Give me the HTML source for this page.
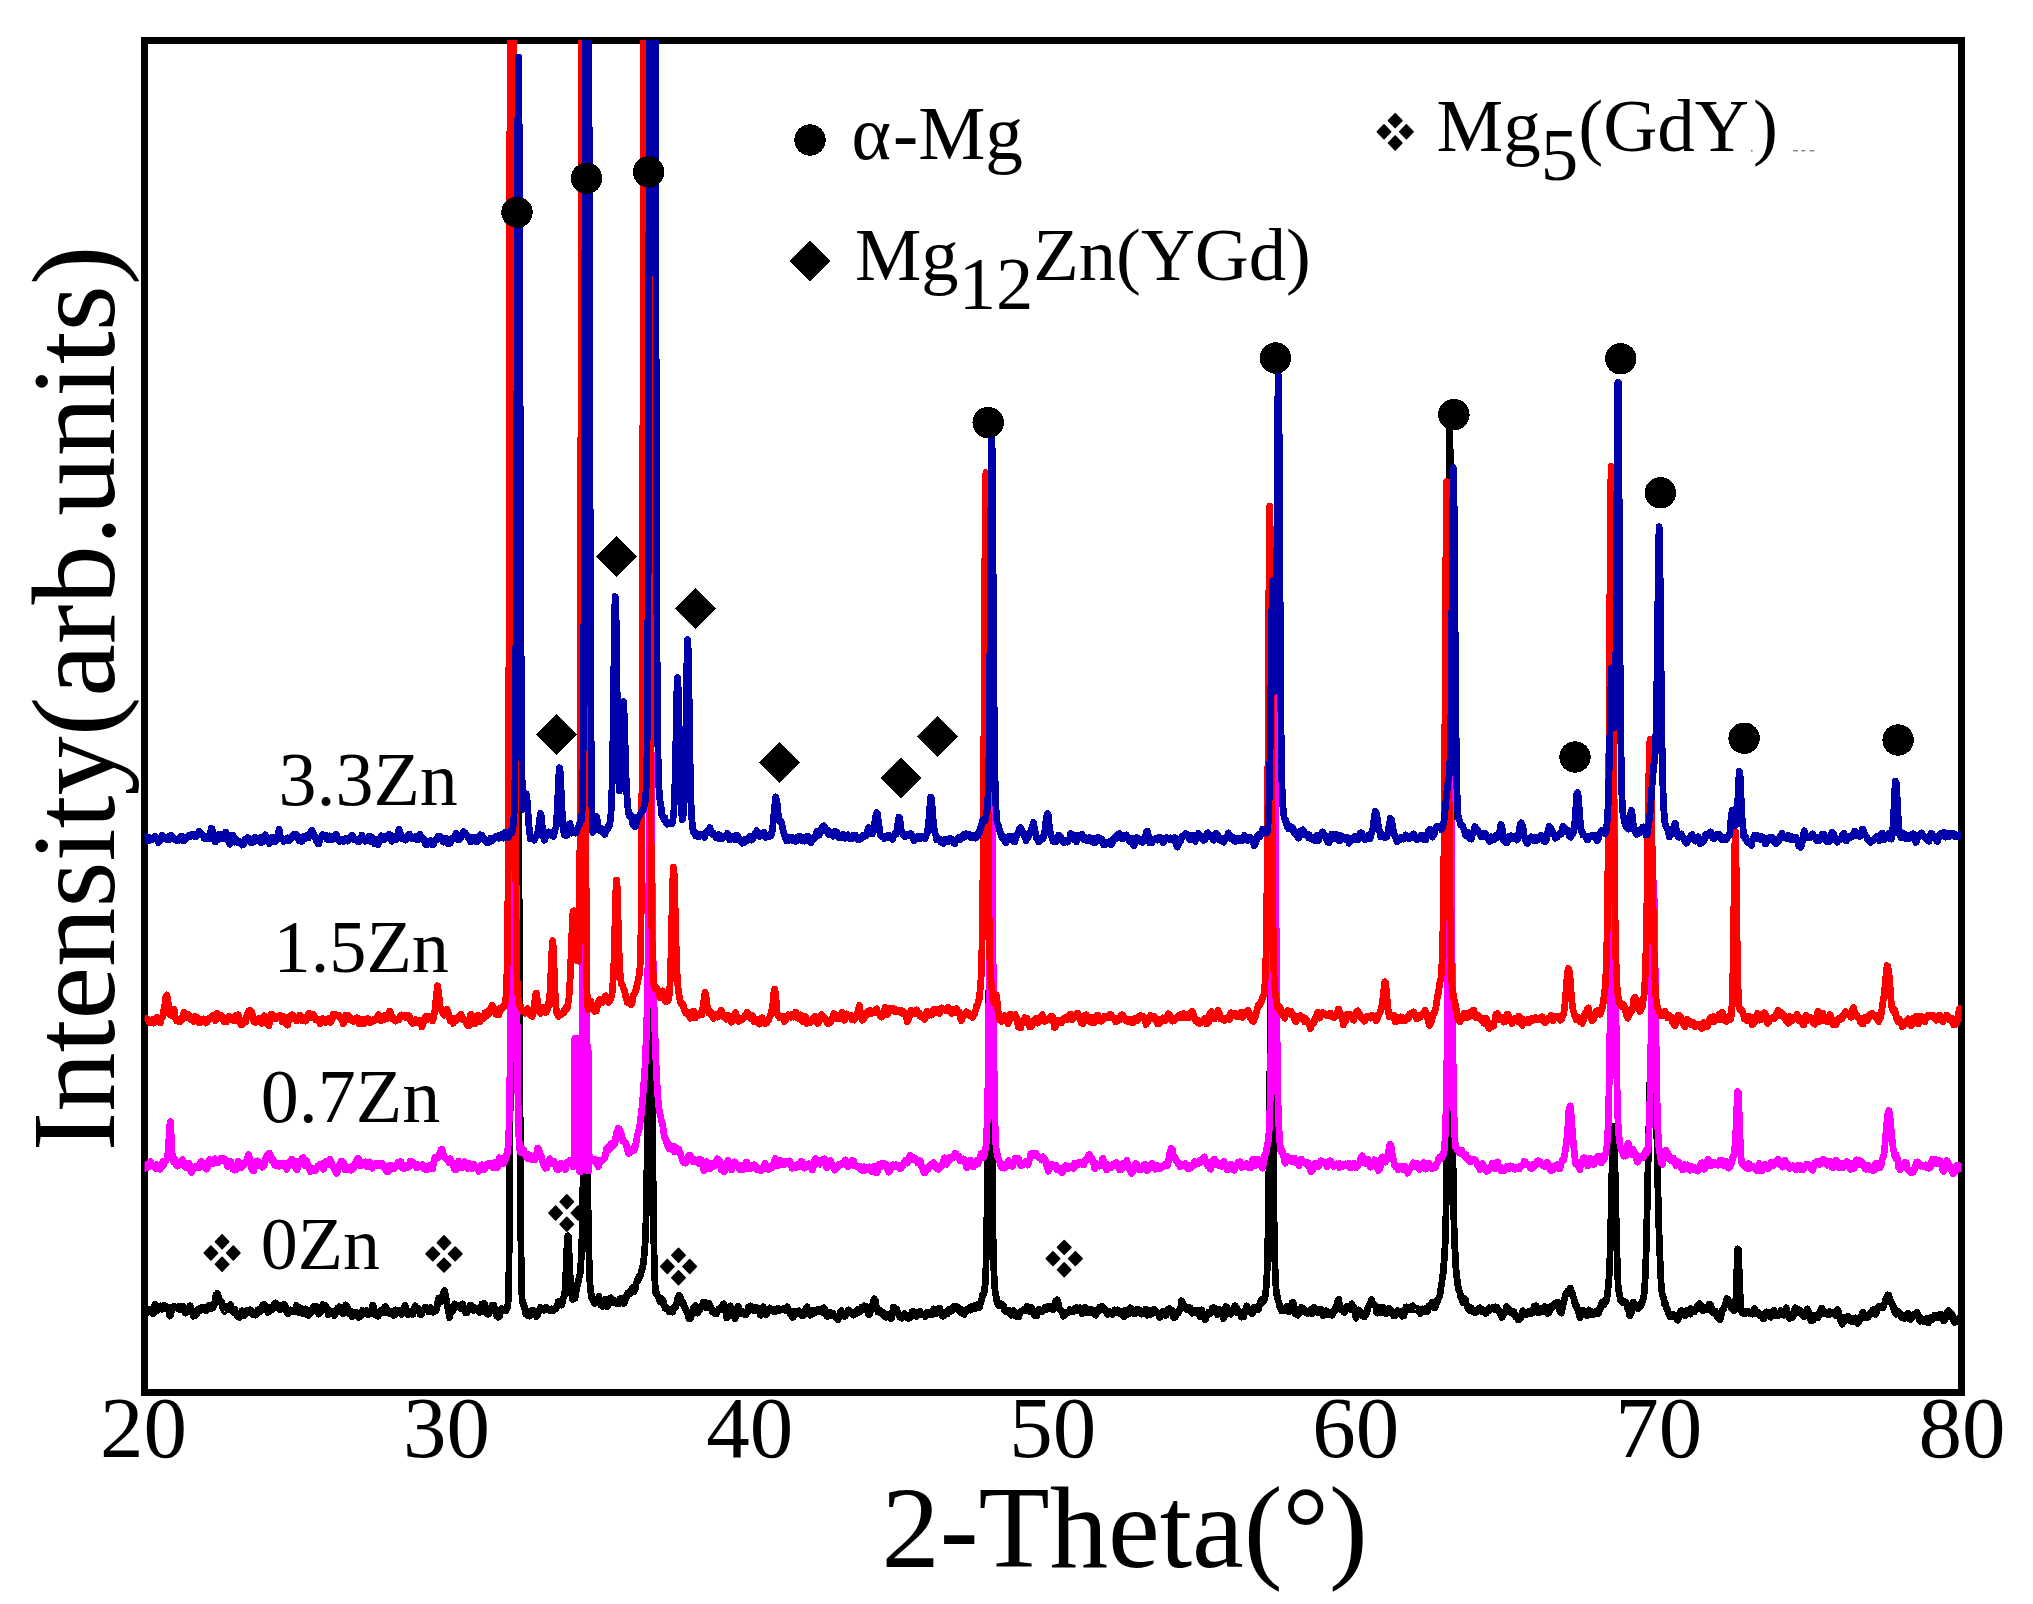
<!DOCTYPE html>
<html><head><meta charset="utf-8"><title>XRD patterns</title>
<style>html,body{margin:0;padding:0;background:#fff}svg{display:block}</style></head>
<body>
<svg width="2033" height="1604" viewBox="0 0 2033 1604">
<rect width="2033" height="1604" fill="#fff"/>
<path d="M141 37H1965V1396H141Z M148 44V1389H1958V44Z" fill="#000" fill-rule="evenodd" shape-rendering="crispEdges"/>
<defs><clipPath id="cp"><rect x="144.5" y="40.0" width="1817.2" height="1352.2"/></clipPath></defs>
<g clip-path="url(#cp)" fill="none" stroke-width="6.8" stroke-linejoin="round" stroke-linecap="butt" shape-rendering="crispEdges">
<polyline stroke="#000000" points="144.7,1309.4 145.3,1311.5 145.9,1311.7 146.5,1313.8 147.1,1311.2 147.7,1311.4 148.3,1311.5 148.9,1310.4 149.5,1309.8 150.1,1310.7 150.7,1309.9 151.3,1309.4 151.9,1309.1 152.5,1311.1 153.1,1313.9 153.7,1312.6 154.3,1307.9 154.9,1304.2 155.5,1304.6 156.1,1306.4 156.7,1307.6 157.3,1310.7 157.9,1309.6 158.5,1307.8 159.1,1307.1 159.7,1306.4 160.3,1306.0 160.9,1308.7 161.5,1309.1 162.1,1309.3 162.7,1307.8 163.3,1306.5 163.9,1305.4 164.5,1306.1 165.1,1307.1 165.7,1308.6 166.3,1308.9 166.9,1307.3 167.5,1309.3 168.1,1306.9 168.7,1310.6 169.3,1314.9 169.9,1316.0 170.5,1315.3 171.1,1311.8 171.7,1310.8 172.3,1307.6 172.9,1307.0 173.5,1308.7 174.1,1308.3 174.7,1306.7 175.3,1306.9 175.9,1307.0 176.5,1307.6 177.1,1307.3 177.7,1307.4 178.3,1306.6 178.9,1309.0 179.5,1308.7 180.1,1308.2 180.7,1309.9 181.3,1306.8 181.9,1308.6 182.5,1308.0 183.1,1306.3 183.7,1310.2 184.3,1311.3 184.9,1310.3 185.5,1313.2 186.1,1312.7 186.7,1311.5 187.3,1311.2 187.9,1310.5 188.5,1309.6 189.1,1307.0 189.7,1305.8 190.3,1305.8 190.9,1307.9 191.5,1309.7 192.1,1313.1 192.7,1312.7 193.3,1316.3 193.9,1314.4 194.5,1313.7 195.1,1316.0 195.7,1315.3 196.3,1314.8 196.9,1312.5 197.5,1312.3 198.1,1309.6 198.7,1308.8 199.3,1308.8 199.9,1308.1 200.5,1310.7 201.1,1309.4 201.7,1308.5 202.3,1307.3 202.9,1309.4 203.5,1307.4 204.1,1308.1 204.7,1307.7 205.3,1308.8 205.9,1310.8 206.5,1309.9 207.1,1308.1 207.7,1307.9 208.3,1307.2 208.9,1305.6 209.5,1305.8 210.1,1308.2 210.7,1305.7 211.3,1308.7 211.9,1308.5 212.5,1305.9 213.1,1307.3 213.7,1306.3 214.3,1304.5 214.9,1301.8 215.5,1297.3 216.1,1294.7 216.7,1294.5 217.3,1293.4 217.9,1295.5 218.5,1296.2 219.1,1300.9 219.7,1301.1 220.3,1302.1 220.9,1302.3 221.5,1301.8 222.1,1304.8 222.7,1307.8 223.3,1309.5 223.9,1310.2 224.5,1311.5 225.1,1309.4 225.7,1306.4 226.3,1306.3 226.9,1307.4 227.5,1308.3 228.1,1308.2 228.7,1309.3 229.3,1306.1 229.9,1305.5 230.5,1304.8 231.1,1306.5 231.7,1307.8 232.3,1309.2 232.9,1311.2 233.5,1312.2 234.1,1310.4 234.7,1309.3 235.3,1311.1 235.9,1312.3 236.5,1314.2 237.1,1316.1 237.7,1315.8 238.3,1316.8 238.9,1316.7 239.5,1317.4 240.1,1315.8 240.7,1313.0 241.3,1311.9 241.9,1310.8 242.5,1312.3 243.1,1313.0 243.7,1314.4 244.3,1315.8 244.9,1315.0 245.5,1314.3 246.1,1311.2 246.7,1311.3 247.3,1310.3 247.9,1312.2 248.5,1312.3 249.1,1311.8 249.7,1309.8 250.3,1310.0 250.9,1310.5 251.5,1312.7 252.1,1312.4 252.7,1314.6 253.3,1312.0 253.9,1313.4 254.5,1313.0 255.1,1313.5 255.7,1315.1 256.3,1314.9 256.9,1312.9 257.5,1310.1 258.1,1311.1 258.7,1310.0 259.3,1309.3 259.9,1311.2 260.5,1311.5 261.1,1309.7 261.7,1308.0 262.3,1307.2 262.9,1304.9 263.5,1306.2 264.1,1305.7 264.7,1304.8 265.3,1305.3 265.9,1309.4 266.5,1309.4 267.1,1309.1 267.7,1312.3 268.3,1312.1 268.9,1311.7 269.5,1310.3 270.1,1308.8 270.7,1307.5 271.3,1307.1 271.9,1307.3 272.5,1308.3 273.1,1309.1 273.7,1305.9 274.3,1304.8 274.9,1303.1 275.5,1302.9 276.1,1304.7 276.7,1303.9 277.3,1307.8 277.9,1307.8 278.5,1307.3 279.1,1306.8 279.7,1305.5 280.3,1309.8 280.9,1308.1 281.5,1308.1 282.1,1308.5 282.7,1306.2 283.3,1306.6 283.9,1304.3 284.5,1304.5 285.1,1306.3 285.7,1307.4 286.3,1309.3 286.9,1312.3 287.5,1312.6 288.1,1314.0 288.7,1311.8 289.3,1310.1 289.9,1309.9 290.5,1309.8 291.1,1310.6 291.7,1310.8 292.3,1311.3 292.9,1310.6 293.5,1312.0 294.1,1311.0 294.7,1310.2 295.3,1309.3 295.9,1307.3 296.5,1305.4 297.1,1306.5 297.7,1310.9 298.3,1312.1 298.9,1312.5 299.5,1311.0 300.1,1307.8 300.7,1308.2 301.3,1308.6 301.9,1309.7 302.5,1313.5 303.1,1313.9 303.7,1313.0 304.3,1310.6 304.9,1310.2 305.5,1308.9 306.1,1309.1 306.7,1310.9 307.3,1313.3 307.9,1315.3 308.5,1315.7 309.1,1312.0 309.7,1311.8 310.3,1313.2 310.9,1312.9 311.5,1312.1 312.1,1311.5 312.7,1307.7 313.3,1307.4 313.9,1306.9 314.5,1306.1 315.1,1306.8 315.7,1306.3 316.3,1307.3 316.9,1309.7 317.5,1312.2 318.1,1312.1 318.7,1314.2 319.3,1311.7 319.9,1313.1 320.5,1310.8 321.1,1310.7 321.7,1310.3 322.3,1310.4 322.9,1304.7 323.5,1306.0 324.1,1305.4 324.7,1305.0 325.3,1305.7 325.9,1306.1 326.5,1307.7 327.1,1310.7 327.7,1310.8 328.3,1314.5 328.9,1313.8 329.5,1312.4 330.1,1310.6 330.7,1311.3 331.3,1311.2 331.9,1311.2 332.5,1313.1 333.1,1313.0 333.7,1314.4 334.3,1315.5 334.9,1314.2 335.5,1313.6 336.1,1310.3 336.7,1309.2 337.3,1311.2 337.9,1308.1 338.5,1308.5 339.1,1306.7 339.7,1307.2 340.3,1307.3 340.9,1308.8 341.5,1309.0 342.1,1310.6 342.7,1313.7 343.3,1313.5 343.9,1312.9 344.5,1310.7 345.1,1309.0 345.7,1304.9 346.3,1306.3 346.9,1305.9 347.5,1309.0 348.1,1308.7 348.7,1312.9 349.3,1312.4 349.9,1314.2 350.5,1312.1 351.1,1311.4 351.7,1315.9 352.3,1316.8 352.9,1316.4 353.5,1316.0 354.1,1315.8 354.7,1312.8 355.3,1313.7 355.9,1312.1 356.5,1312.3 357.1,1313.3 357.7,1313.4 358.3,1313.3 358.9,1317.4 359.5,1317.0 360.1,1315.6 360.7,1314.7 361.3,1314.2 361.9,1315.2 362.5,1310.4 363.1,1311.6 363.7,1311.5 364.3,1312.1 364.9,1312.8 365.5,1313.3 366.1,1312.1 366.7,1310.5 367.3,1313.4 367.9,1314.9 368.5,1312.2 369.1,1312.5 369.7,1312.4 370.3,1311.9 370.9,1313.7 371.5,1310.8 372.1,1307.7 372.7,1305.3 373.3,1305.7 373.9,1309.4 374.5,1312.4 375.1,1312.9 375.7,1315.0 376.3,1313.2 376.9,1315.2 377.5,1315.7 378.1,1316.4 378.7,1313.8 379.3,1313.7 379.9,1312.9 380.5,1310.6 381.1,1310.5 381.7,1310.5 382.3,1311.1 382.9,1313.0 383.5,1311.3 384.1,1309.5 384.7,1307.0 385.3,1306.6 385.9,1307.2 386.5,1308.8 387.1,1309.5 387.7,1312.7 388.3,1312.4 388.9,1313.2 389.5,1311.8 390.1,1311.7 390.7,1311.6 391.3,1312.3 391.9,1311.5 392.5,1313.9 393.1,1314.6 393.7,1315.6 394.3,1312.6 394.9,1314.9 395.5,1309.9 396.1,1311.7 396.7,1311.8 397.3,1313.1 397.9,1312.1 398.5,1310.2 399.1,1311.1 399.7,1310.7 400.3,1310.3 400.9,1311.4 401.5,1314.4 402.1,1313.8 402.7,1313.3 403.3,1311.1 403.9,1309.1 404.5,1306.8 405.1,1305.3 405.7,1307.2 406.3,1308.9 406.9,1312.2 407.5,1311.7 408.1,1314.9 408.7,1314.4 409.3,1312.5 409.9,1312.0 410.5,1312.2 411.1,1311.2 411.7,1312.2 412.3,1313.1 412.9,1314.5 413.5,1311.9 414.1,1308.6 414.7,1306.9 415.3,1305.7 415.9,1307.9 416.5,1308.0 417.1,1311.0 417.7,1308.6 418.3,1308.4 418.9,1310.7 419.5,1310.6 420.1,1314.2 420.7,1313.8 421.3,1314.7 421.9,1311.8 422.5,1310.0 423.1,1310.5 423.7,1309.7 424.3,1309.9 424.9,1307.4 425.5,1309.4 426.1,1308.5 426.7,1307.8 427.3,1308.1 427.9,1309.8 428.5,1311.8 429.1,1311.2 429.7,1307.8 430.3,1307.5 430.9,1307.5 431.5,1309.1 432.1,1309.5 432.7,1310.9 433.3,1312.3 433.9,1310.4 434.5,1311.0 435.1,1310.3 435.7,1309.7 436.3,1310.3 436.9,1307.4 437.5,1304.4 438.1,1300.5 438.7,1298.1 439.3,1299.5 439.9,1300.5 440.5,1302.0 441.1,1301.0 441.7,1298.0 442.3,1295.5 442.9,1295.1 443.5,1292.3 444.1,1291.5 444.7,1290.6 445.3,1294.2 445.9,1295.9 446.5,1301.6 447.1,1303.9 447.7,1306.6 448.3,1311.6 448.9,1313.3 449.5,1317.6 450.1,1314.9 450.7,1312.7 451.3,1311.2 451.9,1311.7 452.5,1309.0 453.1,1310.6 453.7,1306.2 454.3,1305.6 454.9,1303.9 455.5,1304.7 456.1,1305.8 456.7,1305.6 457.3,1306.3 457.9,1306.1 458.5,1307.1 459.1,1306.1 459.7,1305.9 460.3,1305.1 460.9,1308.3 461.5,1306.4 462.1,1304.6 462.7,1304.0 463.3,1305.7 463.9,1307.3 464.5,1309.6 465.1,1311.4 465.7,1312.9 466.3,1313.0 466.9,1312.7 467.5,1311.1 468.1,1308.4 468.7,1309.6 469.3,1306.9 469.9,1305.3 470.5,1306.8 471.1,1305.5 471.7,1309.0 472.3,1308.2 472.9,1309.9 473.5,1310.4 474.1,1308.6 474.7,1307.5 475.3,1310.1 475.9,1308.9 476.5,1309.7 477.1,1309.5 477.7,1309.0 478.3,1311.3 478.9,1311.8 479.5,1311.1 480.1,1312.4 480.7,1310.3 481.3,1307.9 481.9,1304.1 482.5,1305.2 483.1,1304.5 483.7,1303.7 484.3,1303.2 484.9,1307.9 485.5,1310.5 486.1,1312.5 486.7,1313.0 487.3,1311.7 487.9,1314.4 488.5,1314.2 489.1,1311.8 489.7,1310.4 490.3,1311.6 490.9,1308.8 491.5,1306.3 492.1,1306.8 492.7,1305.0 493.3,1304.9 493.9,1305.4 494.5,1308.2 495.1,1311.5 495.7,1312.8 496.3,1315.6 496.9,1315.4 497.5,1315.0 498.1,1317.3 498.7,1317.2 499.3,1316.4 499.9,1314.7 500.5,1310.4 501.1,1310.8 501.7,1308.6 502.3,1309.0 502.9,1309.6 503.5,1310.1 504.1,1309.7 504.7,1310.1 505.3,1309.2 505.9,1310.7 506.5,1309.2 507.1,1308.0 507.7,1306.5 508.3,1299.1 508.9,1274.0 509.5,1216.1 510.1,1116.5 510.7,985.4 511.3,851.7 511.9,739.8 512.5,664.4 513.1,621.7 513.7,599.5 514.3,591.2 514.9,590.2 515.5,592.9 516.1,596.1 516.7,607.4 517.3,633.8 517.9,686.1 518.5,775.6 519.1,895.3 519.7,1032.6 520.3,1154.9 520.9,1240.6 521.5,1284.8 522.1,1299.1 522.7,1303.2 523.3,1302.9 523.9,1307.1 524.5,1307.1 525.1,1310.4 525.7,1313.9 526.3,1314.5 526.9,1310.4 527.5,1313.1 528.1,1312.9 528.7,1315.8 529.3,1315.3 529.9,1316.0 530.5,1313.8 531.1,1313.2 531.7,1310.4 532.3,1312.3 532.9,1310.4 533.5,1311.6 534.1,1310.8 534.7,1312.7 535.3,1313.9 535.9,1313.1 536.5,1316.6 537.1,1315.8 537.7,1314.7 538.3,1313.4 538.9,1310.4 539.5,1310.6 540.1,1309.6 540.7,1307.3 541.3,1309.4 541.9,1308.8 542.5,1309.6 543.1,1309.0 543.7,1309.3 544.3,1310.3 544.9,1308.2 545.5,1308.0 546.1,1307.4 546.7,1309.0 547.3,1309.9 547.9,1308.9 548.5,1309.9 549.1,1309.6 549.7,1310.5 550.3,1309.6 550.9,1309.7 551.5,1308.9 552.1,1310.2 552.7,1309.9 553.3,1310.7 553.9,1309.3 554.5,1309.0 555.1,1308.9 555.7,1309.0 556.3,1308.0 556.9,1305.8 557.5,1306.8 558.1,1301.8 558.7,1303.9 559.3,1301.9 559.9,1303.1 560.5,1303.6 561.1,1305.1 561.7,1305.1 562.3,1303.1 562.9,1300.0 563.5,1297.0 564.1,1296.7 564.7,1294.6 565.3,1285.2 565.9,1272.5 566.5,1255.1 567.1,1244.9 567.7,1235.8 568.3,1236.1 568.9,1246.8 569.5,1263.0 570.1,1274.7 570.7,1287.5 571.3,1293.4 571.9,1295.5 572.5,1299.5 573.1,1298.9 573.7,1297.0 574.3,1298.7 574.9,1298.4 575.5,1295.8 576.1,1291.1 576.7,1289.4 577.3,1285.0 577.9,1283.0 578.5,1280.7 579.1,1276.9 579.7,1276.1 580.3,1272.2 580.9,1263.7 581.5,1252.2 582.1,1232.8 582.7,1201.2 583.3,1161.4 583.9,1114.8 584.5,1065.6 585.1,1031.9 585.7,1029.0 586.3,1057.2 586.9,1107.4 587.5,1159.9 588.1,1209.1 588.7,1242.5 589.3,1268.1 589.9,1281.4 590.5,1291.1 591.1,1293.3 591.7,1298.1 592.3,1299.0 592.9,1299.7 593.5,1301.0 594.1,1302.1 594.7,1303.6 595.3,1300.8 595.9,1301.8 596.5,1301.5 597.1,1300.8 597.7,1301.0 598.3,1298.8 598.9,1296.1 599.5,1300.5 600.1,1301.7 600.7,1304.8 601.3,1303.7 601.9,1305.3 602.5,1306.3 603.1,1305.7 603.7,1304.8 604.3,1302.6 604.9,1300.9 605.5,1299.0 606.1,1301.7 606.7,1303.7 607.3,1306.7 607.9,1305.4 608.5,1302.4 609.1,1303.8 609.7,1302.5 610.3,1299.5 610.9,1297.8 611.5,1301.1 612.1,1301.9 612.7,1300.5 613.3,1300.9 613.9,1300.6 614.5,1302.9 615.1,1302.1 615.7,1301.8 616.3,1302.9 616.9,1303.5 617.5,1302.8 618.1,1303.4 618.7,1303.8 619.3,1299.7 619.9,1298.7 620.5,1298.4 621.1,1298.2 621.7,1299.1 622.3,1299.5 622.9,1300.2 623.5,1301.6 624.1,1303.5 624.7,1300.8 625.3,1300.1 625.9,1299.1 626.5,1296.0 627.1,1296.8 627.7,1293.0 628.3,1293.7 628.9,1294.2 629.5,1294.2 630.1,1290.8 630.7,1290.4 631.3,1290.6 631.9,1288.4 632.5,1287.8 633.1,1291.3 633.7,1291.8 634.3,1290.6 634.9,1289.8 635.5,1288.1 636.1,1283.4 636.7,1282.1 637.3,1280.6 637.9,1278.5 638.5,1279.9 639.1,1276.8 639.7,1277.3 640.3,1275.7 640.9,1273.7 641.5,1271.3 642.1,1269.3 642.7,1266.2 643.3,1263.9 643.9,1258.6 644.5,1252.2 645.1,1243.4 645.7,1229.6 646.3,1210.8 646.9,1171.0 647.5,1112.6 648.1,1030.6 648.7,932.5 649.3,838.5 649.9,776.8 650.5,826.8 651.1,889.0 651.7,984.3 652.3,1080.3 652.9,1161.0 653.5,1219.3 654.1,1254.4 654.7,1277.1 655.3,1288.7 655.9,1293.3 656.5,1293.0 657.1,1294.7 657.7,1295.6 658.3,1297.1 658.9,1298.1 659.5,1299.5 660.1,1302.1 660.7,1300.8 661.3,1300.2 661.9,1298.8 662.5,1299.9 663.1,1303.5 663.7,1302.3 664.3,1304.9 664.9,1308.0 665.5,1306.3 666.1,1308.5 666.7,1308.9 667.3,1309.3 667.9,1308.9 668.5,1309.7 669.1,1311.8 669.7,1311.9 670.3,1311.8 670.9,1312.0 671.5,1311.0 672.1,1311.0 672.7,1312.0 673.3,1307.8 673.9,1308.1 674.5,1308.0 675.1,1306.6 675.7,1306.9 676.3,1303.9 676.9,1303.4 677.5,1298.5 678.1,1298.2 678.7,1296.2 679.3,1295.1 679.9,1296.9 680.5,1297.1 681.1,1299.2 681.7,1300.7 682.3,1304.0 682.9,1303.2 683.5,1303.2 684.1,1306.1 684.7,1307.3 685.3,1308.4 685.9,1310.9 686.5,1311.8 687.1,1311.9 687.7,1314.1 688.3,1316.9 688.9,1318.5 689.5,1315.2 690.1,1317.1 690.7,1318.4 691.3,1315.4 691.9,1313.4 692.5,1312.2 693.1,1312.3 693.7,1307.2 694.3,1307.0 694.9,1306.7 695.5,1305.5 696.1,1307.0 696.7,1308.7 697.3,1309.2 697.9,1313.2 698.5,1310.8 699.1,1311.0 699.7,1309.8 700.3,1308.7 700.9,1307.2 701.5,1306.2 702.1,1305.1 702.7,1304.5 703.3,1302.1 703.9,1302.6 704.5,1303.3 705.1,1302.6 705.7,1303.7 706.3,1303.9 706.9,1308.0 707.5,1305.6 708.1,1305.1 708.7,1305.0 709.3,1303.5 709.9,1306.4 710.5,1306.7 711.1,1309.0 711.7,1310.1 712.3,1312.0 712.9,1311.4 713.5,1310.6 714.1,1311.4 714.7,1312.0 715.3,1313.9 715.9,1312.1 716.5,1313.9 717.1,1312.0 717.7,1310.3 718.3,1310.2 718.9,1308.8 719.5,1309.2 720.1,1307.7 720.7,1308.7 721.3,1308.7 721.9,1309.6 722.5,1307.1 723.1,1304.7 723.7,1303.9 724.3,1305.4 724.9,1307.1 725.5,1310.2 726.1,1313.7 726.7,1318.0 727.3,1316.2 727.9,1317.3 728.5,1314.3 729.1,1311.3 729.7,1308.5 730.3,1305.9 730.9,1309.2 731.5,1310.0 732.1,1311.6 732.7,1312.4 733.3,1312.5 733.9,1316.7 734.5,1317.7 735.1,1318.9 735.7,1315.9 736.3,1312.5 736.9,1310.3 737.5,1308.3 738.1,1306.2 738.7,1306.8 739.3,1308.8 739.9,1311.4 740.5,1313.6 741.1,1311.2 741.7,1313.9 742.3,1311.2 742.9,1311.7 743.5,1312.7 744.1,1312.2 744.7,1314.6 745.3,1313.0 745.9,1314.8 746.5,1312.6 747.1,1311.0 747.7,1311.8 748.3,1307.2 748.9,1307.0 749.5,1309.2 750.1,1305.9 750.7,1305.8 751.3,1308.0 751.9,1307.7 752.5,1307.4 753.1,1310.5 753.7,1309.7 754.3,1309.5 754.9,1310.9 755.5,1308.6 756.1,1307.0 756.7,1310.9 757.3,1310.7 757.9,1309.7 758.5,1308.7 759.1,1309.9 759.7,1312.7 760.3,1314.7 760.9,1315.2 761.5,1311.8 762.1,1311.8 762.7,1309.1 763.3,1306.6 763.9,1308.6 764.5,1311.7 765.1,1311.7 765.7,1313.7 766.3,1314.6 766.9,1313.7 767.5,1311.6 768.1,1311.8 768.7,1310.3 769.3,1308.7 769.9,1308.0 770.5,1310.5 771.1,1309.3 771.7,1309.4 772.3,1309.4 772.9,1309.6 773.5,1310.0 774.1,1311.8 774.7,1311.8 775.3,1310.2 775.9,1311.1 776.5,1309.3 777.1,1310.6 777.7,1310.2 778.3,1308.5 778.9,1309.9 779.5,1309.9 780.1,1310.2 780.7,1309.7 781.3,1309.2 781.9,1309.5 782.5,1309.2 783.1,1309.6 783.7,1308.8 784.3,1309.6 784.9,1308.7 785.5,1310.3 786.1,1309.0 786.7,1307.6 787.3,1306.7 787.9,1309.1 788.5,1310.3 789.1,1312.2 789.7,1313.2 790.3,1311.0 790.9,1312.2 791.5,1315.7 792.1,1317.2 792.7,1316.8 793.3,1317.1 793.9,1315.3 794.5,1311.1 795.1,1311.7 795.7,1311.8 796.3,1311.7 796.9,1313.3 797.5,1312.2 798.1,1311.5 798.7,1310.9 799.3,1313.2 799.9,1312.6 800.5,1314.4 801.1,1313.8 801.7,1315.5 802.3,1315.6 802.9,1315.0 803.5,1315.3 804.1,1313.8 804.7,1313.1 805.3,1310.4 805.9,1308.8 806.5,1308.2 807.1,1306.8 807.7,1310.0 808.3,1311.5 808.9,1312.1 809.5,1313.1 810.1,1315.2 810.7,1313.9 811.3,1311.1 811.9,1310.5 812.5,1310.8 813.1,1310.7 813.7,1313.7 814.3,1311.9 814.9,1312.8 815.5,1312.0 816.1,1311.8 816.7,1310.8 817.3,1309.7 817.9,1309.9 818.5,1310.8 819.1,1311.5 819.7,1309.2 820.3,1309.2 820.9,1311.1 821.5,1310.3 822.1,1310.8 822.7,1312.5 823.3,1310.4 823.9,1307.7 824.5,1308.9 825.1,1309.7 825.7,1311.8 826.3,1315.1 826.9,1316.1 827.5,1316.7 828.1,1314.8 828.7,1314.0 829.3,1312.0 829.9,1313.7 830.5,1313.5 831.1,1315.8 831.7,1314.1 832.3,1312.9 832.9,1312.9 833.5,1315.0 834.1,1315.5 834.7,1316.1 835.3,1316.8 835.9,1316.9 836.5,1316.4 837.1,1318.7 837.7,1319.8 838.3,1318.5 838.9,1316.9 839.5,1317.7 840.1,1312.2 840.7,1311.6 841.3,1310.6 841.9,1312.9 842.5,1314.1 843.1,1314.4 843.7,1315.5 844.3,1316.4 844.9,1316.5 845.5,1315.3 846.1,1313.0 846.7,1314.0 847.3,1313.4 847.9,1311.7 848.5,1309.8 849.1,1311.5 849.7,1310.7 850.3,1311.4 850.9,1312.3 851.5,1313.0 852.1,1312.4 852.7,1313.2 853.3,1315.1 853.9,1312.1 854.5,1313.2 855.1,1313.3 855.7,1313.5 856.3,1312.4 856.9,1313.2 857.5,1309.9 858.1,1309.0 858.7,1309.5 859.3,1310.9 859.9,1312.1 860.5,1310.2 861.1,1308.8 861.7,1307.2 862.3,1310.4 862.9,1308.8 863.5,1307.2 864.1,1305.8 864.7,1305.9 865.3,1308.7 865.9,1306.2 866.5,1307.5 867.1,1308.3 867.7,1311.8 868.3,1314.0 868.9,1313.6 869.5,1314.7 870.1,1312.8 870.7,1311.3 871.3,1307.3 871.9,1308.2 872.5,1305.1 873.1,1302.0 873.7,1300.5 874.3,1298.8 874.9,1299.9 875.5,1300.9 876.1,1305.2 876.7,1307.5 877.3,1308.9 877.9,1312.0 878.5,1309.7 879.1,1312.3 879.7,1310.6 880.3,1310.5 880.9,1311.1 881.5,1312.3 882.1,1313.3 882.7,1314.7 883.3,1312.4 883.9,1314.0 884.5,1313.4 885.1,1316.8 885.7,1316.7 886.3,1317.2 886.9,1315.1 887.5,1314.8 888.1,1314.4 888.7,1316.9 889.3,1317.3 889.9,1318.1 890.5,1317.6 891.1,1318.5 891.7,1318.5 892.3,1313.0 892.9,1310.8 893.5,1307.2 894.1,1308.1 894.7,1310.8 895.3,1309.1 895.9,1309.8 896.5,1308.9 897.1,1311.1 897.7,1311.4 898.3,1313.6 898.9,1314.0 899.5,1316.9 900.1,1316.3 900.7,1317.7 901.3,1317.5 901.9,1318.1 902.5,1317.1 903.1,1315.6 903.7,1316.2 904.3,1313.6 904.9,1315.3 905.5,1315.5 906.1,1315.6 906.7,1316.2 907.3,1318.1 907.9,1315.5 908.5,1317.5 909.1,1318.4 909.7,1318.1 910.3,1317.7 910.9,1314.7 911.5,1314.1 912.1,1311.4 912.7,1311.3 913.3,1313.4 913.9,1311.6 914.5,1312.6 915.1,1314.4 915.7,1316.4 916.3,1316.4 916.9,1316.1 917.5,1315.8 918.1,1313.5 918.7,1312.7 919.3,1312.9 919.9,1311.3 920.5,1312.2 921.1,1314.0 921.7,1314.5 922.3,1314.4 922.9,1314.1 923.5,1314.6 924.1,1314.4 924.7,1314.9 925.3,1316.6 925.9,1315.3 926.5,1313.0 927.1,1312.4 927.7,1312.8 928.3,1313.8 928.9,1313.7 929.5,1314.4 930.1,1312.8 930.7,1314.5 931.3,1314.3 931.9,1313.8 932.5,1314.3 933.1,1312.6 933.7,1308.9 934.3,1311.5 934.9,1311.3 935.5,1312.4 936.1,1313.8 936.7,1311.5 937.3,1311.8 937.9,1310.0 938.5,1309.0 939.1,1310.9 939.7,1308.2 940.3,1310.6 940.9,1311.4 941.5,1311.6 942.1,1315.1 942.7,1316.3 943.3,1316.3 943.9,1313.7 944.5,1314.4 945.1,1312.7 945.7,1314.6 946.3,1313.5 946.9,1313.4 947.5,1313.9 948.1,1310.3 948.7,1310.3 949.3,1309.1 949.9,1310.6 950.5,1308.9 951.1,1311.2 951.7,1310.3 952.3,1310.3 952.9,1310.1 953.5,1307.0 954.1,1306.1 954.7,1307.4 955.3,1306.2 955.9,1307.5 956.5,1307.6 957.1,1306.7 957.7,1307.6 958.3,1307.8 958.9,1309.1 959.5,1311.5 960.1,1312.1 960.7,1310.5 961.3,1311.2 961.9,1309.8 962.5,1310.7 963.1,1313.8 963.7,1312.9 964.3,1314.4 964.9,1312.0 965.5,1311.6 966.1,1310.8 966.7,1311.5 967.3,1308.9 967.9,1308.9 968.5,1309.4 969.1,1308.4 969.7,1307.6 970.3,1307.2 970.9,1310.1 971.5,1306.7 972.1,1308.8 972.7,1307.0 973.3,1306.6 973.9,1305.9 974.5,1307.9 975.1,1308.4 975.7,1307.4 976.3,1308.1 976.9,1307.7 977.5,1304.7 978.1,1305.6 978.7,1306.6 979.3,1307.4 979.9,1305.7 980.5,1303.1 981.1,1301.9 981.7,1299.5 982.3,1295.5 982.9,1296.3 983.5,1293.4 984.1,1293.2 984.7,1288.4 985.3,1283.6 985.9,1268.3 986.5,1244.5 987.1,1204.8 987.7,1145.3 988.3,1071.1 988.9,990.6 989.5,936.0 990.1,935.6 990.7,984.7 991.3,1062.4 991.9,1138.6 992.5,1197.4 993.1,1238.5 993.7,1264.8 994.3,1281.0 994.9,1289.1 995.5,1293.7 996.1,1296.5 996.7,1301.2 997.3,1303.0 997.9,1302.4 998.5,1305.3 999.1,1305.3 999.7,1305.5 1000.3,1303.6 1000.9,1305.1 1001.5,1305.3 1002.1,1304.2 1002.7,1304.7 1003.3,1305.5 1003.9,1308.8 1004.5,1310.3 1005.1,1311.2 1005.7,1310.8 1006.3,1311.9 1006.9,1310.8 1007.5,1311.2 1008.1,1311.9 1008.7,1311.6 1009.3,1310.4 1009.9,1312.4 1010.5,1314.8 1011.1,1315.1 1011.7,1313.5 1012.3,1314.7 1012.9,1312.1 1013.5,1310.6 1014.1,1310.9 1014.7,1312.4 1015.3,1313.2 1015.9,1316.2 1016.5,1315.8 1017.1,1315.5 1017.7,1315.4 1018.3,1315.1 1018.9,1316.8 1019.5,1314.0 1020.1,1312.2 1020.7,1312.5 1021.3,1311.6 1021.9,1310.6 1022.5,1310.4 1023.1,1310.3 1023.7,1309.8 1024.3,1309.3 1024.9,1310.2 1025.5,1310.5 1026.1,1309.0 1026.7,1307.4 1027.3,1306.2 1027.9,1308.4 1028.5,1309.6 1029.1,1311.2 1029.7,1310.5 1030.3,1310.2 1030.9,1309.1 1031.5,1307.5 1032.1,1309.1 1032.7,1311.1 1033.3,1312.6 1033.9,1315.0 1034.5,1315.6 1035.1,1314.8 1035.7,1315.4 1036.3,1314.2 1036.9,1315.7 1037.5,1313.3 1038.1,1310.0 1038.7,1310.3 1039.3,1309.1 1039.9,1309.7 1040.5,1311.2 1041.1,1310.8 1041.7,1311.5 1042.3,1310.1 1042.9,1311.3 1043.5,1309.7 1044.1,1309.4 1044.7,1309.0 1045.3,1307.0 1045.9,1308.9 1046.5,1309.5 1047.1,1306.7 1047.7,1308.8 1048.3,1308.2 1048.9,1307.0 1049.5,1307.9 1050.1,1306.2 1050.7,1307.6 1051.3,1307.1 1051.9,1308.1 1052.5,1307.9 1053.1,1309.8 1053.7,1308.1 1054.3,1305.9 1054.9,1305.0 1055.5,1301.2 1056.1,1300.6 1056.7,1300.7 1057.3,1299.8 1057.9,1301.2 1058.5,1305.1 1059.1,1307.7 1059.7,1309.6 1060.3,1310.1 1060.9,1310.0 1061.5,1311.4 1062.1,1311.1 1062.7,1314.3 1063.3,1316.3 1063.9,1316.0 1064.5,1315.0 1065.1,1313.2 1065.7,1312.6 1066.3,1312.2 1066.9,1313.3 1067.5,1312.7 1068.1,1312.8 1068.7,1312.1 1069.3,1312.3 1069.9,1309.5 1070.5,1310.5 1071.1,1310.9 1071.7,1311.6 1072.3,1311.7 1072.9,1310.1 1073.5,1311.5 1074.1,1310.0 1074.7,1309.4 1075.3,1308.2 1075.9,1308.9 1076.5,1307.5 1077.1,1310.8 1077.7,1307.9 1078.3,1309.1 1078.9,1308.1 1079.5,1309.1 1080.1,1307.7 1080.7,1309.6 1081.3,1310.6 1081.9,1313.8 1082.5,1312.4 1083.1,1312.3 1083.7,1312.8 1084.3,1309.4 1084.9,1308.5 1085.5,1307.3 1086.1,1309.2 1086.7,1309.3 1087.3,1309.6 1087.9,1312.7 1088.5,1310.6 1089.1,1312.1 1089.7,1312.1 1090.3,1312.5 1090.9,1312.3 1091.5,1309.3 1092.1,1310.4 1092.7,1311.0 1093.3,1310.5 1093.9,1312.1 1094.5,1313.3 1095.1,1315.1 1095.7,1315.3 1096.3,1312.0 1096.9,1312.3 1097.5,1311.9 1098.1,1309.5 1098.7,1311.4 1099.3,1309.8 1099.9,1306.9 1100.5,1306.8 1101.1,1306.7 1101.7,1306.9 1102.3,1306.2 1102.9,1310.0 1103.5,1309.0 1104.1,1308.7 1104.7,1310.5 1105.3,1309.9 1105.9,1311.4 1106.5,1311.3 1107.1,1313.4 1107.7,1314.5 1108.3,1312.6 1108.9,1311.5 1109.5,1311.6 1110.1,1311.6 1110.7,1313.6 1111.3,1313.9 1111.9,1312.5 1112.5,1314.4 1113.1,1312.0 1113.7,1312.0 1114.3,1312.2 1114.9,1309.9 1115.5,1310.2 1116.1,1311.2 1116.7,1310.6 1117.3,1310.0 1117.9,1312.5 1118.5,1311.1 1119.1,1312.3 1119.7,1312.5 1120.3,1311.3 1120.9,1314.1 1121.5,1313.6 1122.1,1314.6 1122.7,1314.1 1123.3,1314.3 1123.9,1316.7 1124.5,1311.6 1125.1,1310.2 1125.7,1314.0 1126.3,1314.0 1126.9,1313.5 1127.5,1314.7 1128.1,1313.6 1128.7,1314.1 1129.3,1310.9 1129.9,1311.2 1130.5,1307.8 1131.1,1308.0 1131.7,1308.4 1132.3,1310.5 1132.9,1310.8 1133.5,1310.9 1134.1,1314.1 1134.7,1314.0 1135.3,1313.2 1135.9,1312.7 1136.5,1309.9 1137.1,1309.0 1137.7,1310.1 1138.3,1312.2 1138.9,1309.5 1139.5,1311.3 1140.1,1311.5 1140.7,1311.8 1141.3,1312.5 1141.9,1314.1 1142.5,1313.1 1143.1,1313.2 1143.7,1312.3 1144.3,1310.9 1144.9,1311.9 1145.5,1309.1 1146.1,1311.4 1146.7,1312.7 1147.3,1315.4 1147.9,1313.6 1148.5,1313.1 1149.1,1310.4 1149.7,1312.6 1150.3,1312.9 1150.9,1314.5 1151.5,1313.4 1152.1,1311.8 1152.7,1310.1 1153.3,1309.9 1153.9,1309.1 1154.5,1310.4 1155.1,1312.2 1155.7,1310.9 1156.3,1312.1 1156.9,1311.7 1157.5,1312.8 1158.1,1314.1 1158.7,1314.5 1159.3,1317.4 1159.9,1314.4 1160.5,1317.1 1161.1,1313.7 1161.7,1313.4 1162.3,1314.3 1162.9,1311.5 1163.5,1311.8 1164.1,1313.7 1164.7,1313.3 1165.3,1314.6 1165.9,1315.4 1166.5,1313.4 1167.1,1313.4 1167.7,1312.0 1168.3,1308.9 1168.9,1310.1 1169.5,1308.7 1170.1,1308.9 1170.7,1310.1 1171.3,1310.3 1171.9,1310.0 1172.5,1311.0 1173.1,1313.2 1173.7,1317.5 1174.3,1315.9 1174.9,1317.5 1175.5,1315.1 1176.1,1315.3 1176.7,1313.2 1177.3,1311.6 1177.9,1311.0 1178.5,1312.9 1179.1,1310.1 1179.7,1310.4 1180.3,1308.1 1180.9,1306.1 1181.5,1300.8 1182.1,1301.9 1182.7,1303.0 1183.3,1306.4 1183.9,1305.7 1184.5,1306.7 1185.1,1308.4 1185.7,1306.4 1186.3,1309.5 1186.9,1307.9 1187.5,1308.2 1188.1,1308.4 1188.7,1309.6 1189.3,1308.8 1189.9,1307.5 1190.5,1308.2 1191.1,1310.7 1191.7,1312.4 1192.3,1313.3 1192.9,1311.0 1193.5,1311.2 1194.1,1310.9 1194.7,1312.4 1195.3,1312.6 1195.9,1311.8 1196.5,1312.2 1197.1,1310.2 1197.7,1310.5 1198.3,1312.7 1198.9,1314.0 1199.5,1314.8 1200.1,1316.5 1200.7,1313.1 1201.3,1315.0 1201.9,1309.9 1202.5,1313.8 1203.1,1314.0 1203.7,1316.7 1204.3,1318.0 1204.9,1319.7 1205.5,1317.7 1206.1,1318.2 1206.7,1314.5 1207.3,1314.8 1207.9,1313.7 1208.5,1312.1 1209.1,1313.4 1209.7,1313.0 1210.3,1313.6 1210.9,1312.7 1211.5,1311.1 1212.1,1308.7 1212.7,1307.8 1213.3,1307.9 1213.9,1307.7 1214.5,1307.8 1215.1,1308.6 1215.7,1308.6 1216.3,1312.5 1216.9,1312.9 1217.5,1314.6 1218.1,1313.1 1218.7,1310.6 1219.3,1309.2 1219.9,1311.0 1220.5,1310.9 1221.1,1312.6 1221.7,1313.4 1222.3,1314.7 1222.9,1316.5 1223.5,1318.7 1224.1,1317.3 1224.7,1313.5 1225.3,1311.1 1225.9,1306.5 1226.5,1307.4 1227.1,1307.4 1227.7,1311.4 1228.3,1313.8 1228.9,1313.6 1229.5,1312.5 1230.1,1313.6 1230.7,1314.2 1231.3,1313.4 1231.9,1312.8 1232.5,1311.9 1233.1,1310.2 1233.7,1308.7 1234.3,1306.9 1234.9,1305.7 1235.5,1305.9 1236.1,1308.6 1236.7,1307.9 1237.3,1310.7 1237.9,1313.0 1238.5,1312.4 1239.1,1311.1 1239.7,1313.8 1240.3,1314.5 1240.9,1314.3 1241.5,1317.2 1242.1,1316.7 1242.7,1316.9 1243.3,1315.3 1243.9,1316.6 1244.5,1312.6 1245.1,1311.2 1245.7,1309.2 1246.3,1308.2 1246.9,1305.9 1247.5,1308.6 1248.1,1309.7 1248.7,1309.0 1249.3,1310.9 1249.9,1311.0 1250.5,1312.4 1251.1,1312.8 1251.7,1312.8 1252.3,1313.8 1252.9,1312.9 1253.5,1307.7 1254.1,1309.8 1254.7,1307.8 1255.3,1309.6 1255.9,1309.1 1256.5,1309.5 1257.1,1307.6 1257.7,1308.6 1258.3,1309.3 1258.9,1308.2 1259.5,1305.2 1260.1,1303.2 1260.7,1300.7 1261.3,1299.6 1261.9,1302.4 1262.5,1301.1 1263.1,1302.1 1263.7,1300.0 1264.3,1298.1 1264.9,1298.6 1265.5,1293.1 1266.1,1288.4 1266.7,1280.8 1267.3,1266.3 1267.9,1239.4 1268.5,1204.5 1269.1,1155.6 1269.7,1093.8 1270.3,1031.4 1270.9,989.7 1271.5,991.9 1272.1,1033.6 1272.7,1095.7 1273.3,1158.0 1273.9,1209.4 1274.5,1247.4 1275.1,1268.6 1275.7,1282.6 1276.3,1291.9 1276.9,1295.3 1277.5,1297.2 1278.1,1301.1 1278.7,1302.1 1279.3,1304.5 1279.9,1307.7 1280.5,1308.7 1281.1,1308.5 1281.7,1310.8 1282.3,1309.5 1282.9,1310.6 1283.5,1309.2 1284.1,1309.8 1284.7,1310.8 1285.3,1310.5 1285.9,1307.4 1286.5,1306.6 1287.1,1306.6 1287.7,1306.5 1288.3,1307.6 1288.9,1308.4 1289.5,1311.6 1290.1,1311.5 1290.7,1310.3 1291.3,1306.7 1291.9,1303.0 1292.5,1303.6 1293.1,1302.2 1293.7,1304.4 1294.3,1307.6 1294.9,1310.2 1295.5,1313.8 1296.1,1311.3 1296.7,1313.6 1297.3,1312.8 1297.9,1315.2 1298.5,1314.6 1299.1,1312.7 1299.7,1312.4 1300.3,1308.9 1300.9,1309.3 1301.5,1307.3 1302.1,1309.1 1302.7,1310.0 1303.3,1308.2 1303.9,1310.3 1304.5,1311.9 1305.1,1312.1 1305.7,1312.8 1306.3,1312.3 1306.9,1313.2 1307.5,1311.7 1308.1,1313.3 1308.7,1312.4 1309.3,1312.6 1309.9,1312.5 1310.5,1309.6 1311.1,1311.0 1311.7,1311.2 1312.3,1313.6 1312.9,1311.4 1313.5,1307.8 1314.1,1307.4 1314.7,1310.4 1315.3,1309.5 1315.9,1310.2 1316.5,1309.4 1317.1,1311.6 1317.7,1312.7 1318.3,1311.1 1318.9,1312.3 1319.5,1311.9 1320.1,1311.3 1320.7,1309.2 1321.3,1312.2 1321.9,1312.1 1322.5,1313.9 1323.1,1315.9 1323.7,1313.8 1324.3,1311.9 1324.9,1311.3 1325.5,1311.3 1326.1,1310.7 1326.7,1313.3 1327.3,1313.4 1327.9,1312.7 1328.5,1314.8 1329.1,1314.5 1329.7,1312.1 1330.3,1314.2 1330.9,1314.8 1331.5,1314.9 1332.1,1315.2 1332.7,1312.9 1333.3,1312.4 1333.9,1310.6 1334.5,1309.2 1335.1,1308.5 1335.7,1309.8 1336.3,1308.0 1336.9,1304.9 1337.5,1301.7 1338.1,1300.0 1338.7,1299.2 1339.3,1304.1 1339.9,1305.9 1340.5,1308.1 1341.1,1308.9 1341.7,1310.2 1342.3,1308.5 1342.9,1309.4 1343.5,1311.9 1344.1,1311.8 1344.7,1312.4 1345.3,1309.9 1345.9,1307.6 1346.5,1306.8 1347.1,1307.7 1347.7,1307.2 1348.3,1306.6 1348.9,1307.5 1349.5,1307.8 1350.1,1309.2 1350.7,1306.9 1351.3,1306.8 1351.9,1303.8 1352.5,1305.9 1353.1,1306.2 1353.7,1307.5 1354.3,1309.4 1354.9,1312.7 1355.5,1316.5 1356.1,1318.1 1356.7,1315.9 1357.3,1313.3 1357.9,1311.2 1358.5,1309.9 1359.1,1311.6 1359.7,1311.1 1360.3,1312.3 1360.9,1315.2 1361.5,1315.6 1362.1,1313.6 1362.7,1313.3 1363.3,1314.9 1363.9,1315.1 1364.5,1316.9 1365.1,1315.1 1365.7,1314.8 1366.3,1313.9 1366.9,1310.1 1367.5,1310.2 1368.1,1308.0 1368.7,1306.1 1369.3,1305.3 1369.9,1303.1 1370.5,1303.2 1371.1,1301.9 1371.7,1299.5 1372.3,1302.6 1372.9,1304.0 1373.5,1303.4 1374.1,1304.4 1374.7,1305.0 1375.3,1305.7 1375.9,1307.6 1376.5,1312.1 1377.1,1311.8 1377.7,1313.1 1378.3,1309.0 1378.9,1309.6 1379.5,1307.6 1380.1,1307.2 1380.7,1308.7 1381.3,1310.5 1381.9,1312.9 1382.5,1308.2 1383.1,1309.2 1383.7,1307.7 1384.3,1309.8 1384.9,1311.2 1385.5,1310.6 1386.1,1313.9 1386.7,1313.2 1387.3,1311.8 1387.9,1309.8 1388.5,1312.3 1389.1,1308.1 1389.7,1309.7 1390.3,1309.9 1390.9,1309.9 1391.5,1313.5 1392.1,1313.8 1392.7,1313.8 1393.3,1315.8 1393.9,1315.8 1394.5,1316.0 1395.1,1314.8 1395.7,1313.5 1396.3,1311.8 1396.9,1311.2 1397.5,1310.6 1398.1,1313.8 1398.7,1313.1 1399.3,1311.5 1399.9,1313.1 1400.5,1313.1 1401.1,1311.8 1401.7,1315.0 1402.3,1316.3 1402.9,1315.7 1403.5,1315.9 1404.1,1315.2 1404.7,1311.7 1405.3,1309.6 1405.9,1307.0 1406.5,1306.9 1407.1,1308.4 1407.7,1310.1 1408.3,1308.9 1408.9,1309.4 1409.5,1307.8 1410.1,1308.6 1410.7,1310.0 1411.3,1308.4 1411.9,1307.4 1412.5,1306.0 1413.1,1305.8 1413.7,1306.8 1414.3,1309.1 1414.9,1309.7 1415.5,1309.5 1416.1,1308.9 1416.7,1308.3 1417.3,1308.5 1417.9,1308.8 1418.5,1309.1 1419.1,1311.2 1419.7,1312.3 1420.3,1313.5 1420.9,1312.3 1421.5,1311.5 1422.1,1311.7 1422.7,1308.9 1423.3,1310.5 1423.9,1310.5 1424.5,1310.6 1425.1,1311.4 1425.7,1308.6 1426.3,1310.2 1426.9,1310.7 1427.5,1311.4 1428.1,1308.1 1428.7,1306.1 1429.3,1306.8 1429.9,1306.8 1430.5,1305.9 1431.1,1304.7 1431.7,1303.7 1432.3,1302.0 1432.9,1304.2 1433.5,1303.8 1434.1,1307.9 1434.7,1307.7 1435.3,1307.3 1435.9,1303.6 1436.5,1301.2 1437.1,1302.7 1437.7,1301.3 1438.3,1299.3 1438.9,1298.0 1439.5,1296.9 1440.1,1294.0 1440.7,1289.7 1441.3,1285.9 1441.9,1282.2 1442.5,1276.5 1443.1,1273.9 1443.7,1265.9 1444.3,1258.2 1444.9,1248.9 1445.5,1235.2 1446.1,1206.9 1446.7,1153.7 1447.3,1059.2 1447.9,911.6 1448.5,717.2 1449.1,518.1 1449.7,409.0 1450.3,467.4 1450.9,644.4 1451.5,849.1 1452.1,1012.6 1452.7,1122.7 1453.3,1187.6 1453.9,1220.1 1454.5,1241.8 1455.1,1251.9 1455.7,1265.3 1456.3,1272.7 1456.9,1278.0 1457.5,1282.6 1458.1,1286.6 1458.7,1289.3 1459.3,1291.7 1459.9,1291.9 1460.5,1296.1 1461.1,1295.7 1461.7,1298.4 1462.3,1301.3 1462.9,1302.7 1463.5,1298.3 1464.1,1298.5 1464.7,1301.3 1465.3,1299.4 1465.9,1302.4 1466.5,1304.8 1467.1,1305.9 1467.7,1308.3 1468.3,1308.7 1468.9,1308.2 1469.5,1310.5 1470.1,1310.6 1470.7,1310.4 1471.3,1307.6 1471.9,1309.6 1472.5,1310.2 1473.1,1311.7 1473.7,1311.4 1474.3,1311.7 1474.9,1312.7 1475.5,1310.3 1476.1,1311.2 1476.7,1311.3 1477.3,1311.9 1477.9,1311.0 1478.5,1309.8 1479.1,1308.5 1479.7,1307.8 1480.3,1308.1 1480.9,1310.1 1481.5,1311.3 1482.1,1311.0 1482.7,1310.4 1483.3,1310.0 1483.9,1311.0 1484.5,1312.6 1485.1,1312.5 1485.7,1313.5 1486.3,1313.4 1486.9,1311.6 1487.5,1310.7 1488.1,1308.9 1488.7,1311.1 1489.3,1307.8 1489.9,1309.8 1490.5,1309.6 1491.1,1308.0 1491.7,1308.1 1492.3,1308.6 1492.9,1307.6 1493.5,1308.7 1494.1,1309.3 1494.7,1307.4 1495.3,1307.1 1495.9,1306.9 1496.5,1307.9 1497.1,1307.5 1497.7,1310.6 1498.3,1310.1 1498.9,1309.8 1499.5,1312.4 1500.1,1312.0 1500.7,1315.3 1501.3,1314.9 1501.9,1317.4 1502.5,1316.9 1503.1,1314.4 1503.7,1312.5 1504.3,1312.4 1504.9,1312.8 1505.5,1312.6 1506.1,1310.3 1506.7,1306.6 1507.3,1307.3 1507.9,1310.5 1508.5,1310.7 1509.1,1311.8 1509.7,1309.6 1510.3,1310.3 1510.9,1312.5 1511.5,1312.4 1512.1,1313.4 1512.7,1313.9 1513.3,1312.9 1513.9,1311.5 1514.5,1313.8 1515.1,1314.8 1515.7,1317.3 1516.3,1317.5 1516.9,1316.5 1517.5,1317.8 1518.1,1319.5 1518.7,1319.9 1519.3,1318.3 1519.9,1319.3 1520.5,1318.7 1521.1,1315.1 1521.7,1314.3 1522.3,1312.7 1522.9,1310.8 1523.5,1312.9 1524.1,1313.4 1524.7,1314.7 1525.3,1314.2 1525.9,1314.9 1526.5,1313.3 1527.1,1314.1 1527.7,1313.5 1528.3,1311.5 1528.9,1311.8 1529.5,1311.5 1530.1,1312.3 1530.7,1313.8 1531.3,1313.6 1531.9,1313.5 1532.5,1312.7 1533.1,1309.6 1533.7,1309.5 1534.3,1306.0 1534.9,1309.5 1535.5,1307.1 1536.1,1305.8 1536.7,1307.5 1537.3,1308.8 1537.9,1309.6 1538.5,1313.0 1539.1,1310.8 1539.7,1310.9 1540.3,1310.2 1540.9,1308.2 1541.5,1310.1 1542.1,1311.1 1542.7,1311.5 1543.3,1310.0 1543.9,1309.1 1544.5,1306.5 1545.1,1308.1 1545.7,1309.9 1546.3,1311.1 1546.9,1311.4 1547.5,1313.6 1548.1,1313.3 1548.7,1313.1 1549.3,1312.4 1549.9,1306.8 1550.5,1308.4 1551.1,1306.4 1551.7,1307.5 1552.3,1307.2 1552.9,1307.3 1553.5,1305.1 1554.1,1304.2 1554.7,1305.5 1555.3,1304.2 1555.9,1302.9 1556.5,1302.7 1557.1,1302.7 1557.7,1305.2 1558.3,1302.5 1558.9,1306.6 1559.5,1310.3 1560.1,1311.8 1560.7,1312.6 1561.3,1313.0 1561.9,1310.3 1562.5,1308.6 1563.1,1304.6 1563.7,1302.1 1564.3,1299.3 1564.9,1298.1 1565.5,1294.9 1566.1,1293.1 1566.7,1292.8 1567.3,1292.8 1567.9,1290.7 1568.5,1292.3 1569.1,1290.9 1569.7,1289.0 1570.3,1288.0 1570.9,1290.2 1571.5,1291.3 1572.1,1292.2 1572.7,1296.0 1573.3,1297.1 1573.9,1298.9 1574.5,1300.5 1575.1,1304.8 1575.7,1306.0 1576.3,1304.8 1576.9,1306.0 1577.5,1309.7 1578.1,1311.3 1578.7,1312.4 1579.3,1315.1 1579.9,1317.7 1580.5,1315.8 1581.1,1314.1 1581.7,1314.5 1582.3,1310.4 1582.9,1311.2 1583.5,1312.4 1584.1,1310.9 1584.7,1313.5 1585.3,1311.4 1585.9,1312.7 1586.5,1312.2 1587.1,1315.7 1587.7,1313.2 1588.3,1310.7 1588.9,1310.0 1589.5,1310.6 1590.1,1311.9 1590.7,1312.9 1591.3,1312.8 1591.9,1311.7 1592.5,1314.9 1593.1,1314.4 1593.7,1314.6 1594.3,1313.8 1594.9,1312.8 1595.5,1312.5 1596.1,1311.6 1596.7,1311.0 1597.3,1311.2 1597.9,1313.6 1598.5,1313.0 1599.1,1311.8 1599.7,1307.9 1600.3,1308.6 1600.9,1305.1 1601.5,1303.1 1602.1,1302.8 1602.7,1301.9 1603.3,1303.8 1603.9,1304.6 1604.5,1303.8 1605.1,1302.6 1605.7,1302.3 1606.3,1300.9 1606.9,1296.8 1607.5,1294.8 1608.1,1288.4 1608.7,1282.3 1609.3,1272.5 1609.9,1258.0 1610.5,1238.8 1611.1,1211.2 1611.7,1182.4 1612.3,1155.4 1612.9,1134.8 1613.5,1126.3 1614.1,1133.5 1614.7,1152.5 1615.3,1180.7 1615.9,1209.7 1616.5,1234.2 1617.1,1257.6 1617.7,1276.0 1618.3,1288.5 1618.9,1291.9 1619.5,1293.8 1620.1,1298.2 1620.7,1300.7 1621.3,1301.5 1621.9,1301.9 1622.5,1300.6 1623.1,1300.6 1623.7,1302.9 1624.3,1301.9 1624.9,1302.3 1625.5,1303.2 1626.1,1302.7 1626.7,1305.2 1627.3,1305.9 1627.9,1309.1 1628.5,1310.0 1629.1,1311.4 1629.7,1315.7 1630.3,1314.6 1630.9,1313.5 1631.5,1312.0 1632.1,1307.5 1632.7,1306.0 1633.3,1302.0 1633.9,1303.3 1634.5,1304.9 1635.1,1304.7 1635.7,1305.9 1636.3,1305.3 1636.9,1306.6 1637.5,1307.9 1638.1,1308.8 1638.7,1308.5 1639.3,1307.2 1639.9,1306.4 1640.5,1304.1 1641.1,1305.8 1641.7,1304.3 1642.3,1302.3 1642.9,1299.5 1643.5,1298.2 1644.1,1294.1 1644.7,1287.4 1645.3,1274.5 1645.9,1259.9 1646.5,1237.8 1647.1,1210.8 1647.7,1183.0 1648.3,1153.5 1648.9,1126.3 1649.5,1097.4 1650.1,1075.2 1650.7,1053.8 1651.3,1041.5 1651.9,1035.1 1652.5,1033.9 1653.1,1031.6 1653.7,1033.3 1654.3,1041.0 1654.9,1053.7 1655.5,1074.0 1656.1,1099.5 1656.7,1128.3 1657.3,1159.5 1657.9,1188.3 1658.5,1212.9 1659.1,1234.6 1659.7,1250.7 1660.3,1266.2 1660.9,1278.9 1661.5,1288.9 1662.1,1292.9 1662.7,1296.0 1663.3,1298.6 1663.9,1297.7 1664.5,1304.4 1665.1,1303.8 1665.7,1304.0 1666.3,1307.4 1666.9,1308.8 1667.5,1309.5 1668.1,1313.0 1668.7,1313.6 1669.3,1314.1 1669.9,1316.4 1670.5,1313.7 1671.1,1315.2 1671.7,1315.2 1672.3,1314.1 1672.9,1316.7 1673.5,1316.4 1674.1,1314.7 1674.7,1315.1 1675.3,1316.3 1675.9,1316.7 1676.5,1317.8 1677.1,1319.6 1677.7,1320.2 1678.3,1318.8 1678.9,1316.2 1679.5,1313.7 1680.1,1313.6 1680.7,1310.6 1681.3,1310.5 1681.9,1312.7 1682.5,1313.5 1683.1,1313.1 1683.7,1312.8 1684.3,1314.6 1684.9,1313.6 1685.5,1315.8 1686.1,1313.8 1686.7,1312.9 1687.3,1310.0 1687.9,1311.4 1688.5,1311.9 1689.1,1314.0 1689.7,1313.7 1690.3,1314.0 1690.9,1308.6 1691.5,1310.9 1692.1,1310.7 1692.7,1310.1 1693.3,1309.3 1693.9,1309.2 1694.5,1312.0 1695.1,1309.3 1695.7,1310.2 1696.3,1309.3 1696.9,1306.2 1697.5,1306.6 1698.1,1307.0 1698.7,1306.1 1699.3,1303.6 1699.9,1303.9 1700.5,1304.2 1701.1,1306.9 1701.7,1307.4 1702.3,1309.7 1702.9,1310.7 1703.5,1308.9 1704.1,1309.5 1704.7,1309.7 1705.3,1308.3 1705.9,1307.2 1706.5,1310.0 1707.1,1307.2 1707.7,1307.0 1708.3,1306.2 1708.9,1304.1 1709.5,1304.4 1710.1,1305.8 1710.7,1304.8 1711.3,1307.5 1711.9,1309.0 1712.5,1312.4 1713.1,1312.9 1713.7,1312.7 1714.3,1312.6 1714.9,1311.6 1715.5,1311.3 1716.1,1314.4 1716.7,1316.2 1717.3,1314.0 1717.9,1316.1 1718.5,1318.6 1719.1,1319.2 1719.7,1319.3 1720.3,1319.4 1720.9,1316.7 1721.5,1312.9 1722.1,1310.3 1722.7,1309.5 1723.3,1309.4 1723.9,1308.7 1724.5,1306.0 1725.1,1305.8 1725.7,1303.0 1726.3,1301.2 1726.9,1298.6 1727.5,1299.5 1728.1,1299.3 1728.7,1301.7 1729.3,1301.2 1729.9,1302.3 1730.5,1305.0 1731.1,1304.3 1731.7,1308.6 1732.3,1306.9 1732.9,1308.2 1733.5,1308.8 1734.1,1310.8 1734.7,1309.5 1735.3,1306.2 1735.9,1298.3 1736.5,1281.8 1737.1,1263.8 1737.7,1248.9 1738.3,1249.4 1738.9,1262.3 1739.5,1280.5 1740.1,1293.8 1740.7,1303.5 1741.3,1309.7 1741.9,1312.7 1742.5,1312.8 1743.1,1312.8 1743.7,1313.0 1744.3,1313.8 1744.9,1312.5 1745.5,1312.2 1746.1,1313.4 1746.7,1311.3 1747.3,1311.1 1747.9,1312.9 1748.5,1313.2 1749.1,1313.4 1749.7,1312.7 1750.3,1313.8 1750.9,1312.9 1751.5,1312.8 1752.1,1313.4 1752.7,1314.0 1753.3,1310.5 1753.9,1309.9 1754.5,1308.5 1755.1,1309.1 1755.7,1311.6 1756.3,1313.2 1756.9,1312.9 1757.5,1312.1 1758.1,1312.3 1758.7,1312.9 1759.3,1315.3 1759.9,1314.9 1760.5,1315.1 1761.1,1314.4 1761.7,1314.9 1762.3,1315.2 1762.9,1317.7 1763.5,1319.0 1764.1,1318.6 1764.7,1316.3 1765.3,1313.6 1765.9,1312.5 1766.5,1311.9 1767.1,1313.1 1767.7,1312.1 1768.3,1313.3 1768.9,1313.6 1769.5,1315.4 1770.1,1314.2 1770.7,1317.3 1771.3,1315.6 1771.9,1315.6 1772.5,1311.8 1773.1,1311.6 1773.7,1310.3 1774.3,1312.1 1774.9,1313.6 1775.5,1312.6 1776.1,1314.1 1776.7,1316.0 1777.3,1314.9 1777.9,1315.6 1778.5,1313.9 1779.1,1314.2 1779.7,1313.5 1780.3,1313.9 1780.9,1310.7 1781.5,1311.9 1782.1,1311.2 1782.7,1312.4 1783.3,1313.3 1783.9,1315.2 1784.5,1313.5 1785.1,1311.6 1785.7,1311.1 1786.3,1307.7 1786.9,1310.4 1787.5,1312.4 1788.1,1315.4 1788.7,1315.9 1789.3,1318.4 1789.9,1318.5 1790.5,1317.9 1791.1,1318.0 1791.7,1316.7 1792.3,1317.8 1792.9,1316.9 1793.5,1315.2 1794.1,1312.9 1794.7,1309.3 1795.3,1307.8 1795.9,1308.4 1796.5,1308.8 1797.1,1311.5 1797.7,1309.0 1798.3,1309.7 1798.9,1312.8 1799.5,1311.8 1800.1,1311.7 1800.7,1310.7 1801.3,1313.1 1801.9,1314.0 1802.5,1315.0 1803.1,1315.9 1803.7,1316.8 1804.3,1316.4 1804.9,1314.8 1805.5,1312.7 1806.1,1311.6 1806.7,1311.7 1807.3,1308.9 1807.9,1310.6 1808.5,1311.3 1809.1,1312.2 1809.7,1315.8 1810.3,1319.0 1810.9,1320.9 1811.5,1320.8 1812.1,1320.5 1812.7,1320.4 1813.3,1320.4 1813.9,1318.2 1814.5,1316.6 1815.1,1317.4 1815.7,1315.2 1816.3,1316.4 1816.9,1316.4 1817.5,1315.5 1818.1,1317.5 1818.7,1316.0 1819.3,1313.2 1819.9,1311.8 1820.5,1312.0 1821.1,1311.2 1821.7,1308.3 1822.3,1309.4 1822.9,1309.8 1823.5,1311.9 1824.1,1311.0 1824.7,1313.8 1825.3,1313.8 1825.9,1312.4 1826.5,1313.3 1827.1,1313.0 1827.7,1314.4 1828.3,1314.2 1828.9,1314.5 1829.5,1311.5 1830.1,1313.3 1830.7,1313.9 1831.3,1313.2 1831.9,1312.2 1832.5,1313.9 1833.1,1313.0 1833.7,1314.2 1834.3,1313.6 1834.9,1314.8 1835.5,1315.3 1836.1,1314.2 1836.7,1312.1 1837.3,1309.5 1837.9,1310.1 1838.5,1312.2 1839.1,1314.0 1839.7,1317.1 1840.3,1318.5 1840.9,1321.8 1841.5,1322.8 1842.1,1324.2 1842.7,1321.3 1843.3,1322.5 1843.9,1320.5 1844.5,1320.3 1845.1,1317.2 1845.7,1320.7 1846.3,1318.4 1846.9,1316.9 1847.5,1317.5 1848.1,1316.4 1848.7,1318.0 1849.3,1317.9 1849.9,1319.6 1850.5,1317.9 1851.1,1321.3 1851.7,1319.9 1852.3,1321.8 1852.9,1321.7 1853.5,1319.7 1854.1,1319.5 1854.7,1318.7 1855.3,1318.0 1855.9,1321.1 1856.5,1321.6 1857.1,1321.3 1857.7,1323.4 1858.3,1321.0 1858.9,1322.3 1859.5,1319.9 1860.1,1318.8 1860.7,1319.1 1861.3,1315.9 1861.9,1316.9 1862.5,1313.0 1863.1,1312.4 1863.7,1314.6 1864.3,1314.5 1864.9,1315.5 1865.5,1317.4 1866.1,1317.5 1866.7,1317.3 1867.3,1317.4 1867.9,1315.7 1868.5,1316.8 1869.1,1316.0 1869.7,1313.7 1870.3,1313.1 1870.9,1313.5 1871.5,1312.1 1872.1,1311.6 1872.7,1309.8 1873.3,1310.8 1873.9,1310.6 1874.5,1309.5 1875.1,1312.7 1875.7,1314.5 1876.3,1312.8 1876.9,1309.2 1877.5,1307.8 1878.1,1306.8 1878.7,1307.2 1879.3,1306.1 1879.9,1306.5 1880.5,1307.3 1881.1,1307.5 1881.7,1307.5 1882.3,1307.5 1882.9,1307.6 1883.5,1306.4 1884.1,1304.4 1884.7,1303.3 1885.3,1300.7 1885.9,1298.8 1886.5,1299.0 1887.1,1297.4 1887.7,1294.9 1888.3,1296.1 1888.9,1295.1 1889.5,1297.5 1890.1,1300.2 1890.7,1300.2 1891.3,1302.0 1891.9,1304.0 1892.5,1305.7 1893.1,1305.8 1893.7,1308.9 1894.3,1311.0 1894.9,1312.0 1895.5,1313.1 1896.1,1314.3 1896.7,1312.6 1897.3,1310.8 1897.9,1312.2 1898.5,1311.6 1899.1,1312.6 1899.7,1312.7 1900.3,1315.4 1900.9,1313.9 1901.5,1317.3 1902.1,1316.3 1902.7,1317.0 1903.3,1316.8 1903.9,1316.1 1904.5,1318.3 1905.1,1317.0 1905.7,1317.9 1906.3,1318.0 1906.9,1314.2 1907.5,1315.0 1908.1,1313.5 1908.7,1316.3 1909.3,1318.6 1909.9,1318.5 1910.5,1319.4 1911.1,1318.8 1911.7,1316.6 1912.3,1317.1 1912.9,1314.7 1913.5,1316.5 1914.1,1315.2 1914.7,1316.0 1915.3,1314.9 1915.9,1315.9 1916.5,1314.0 1917.1,1312.4 1917.7,1314.7 1918.3,1315.3 1918.9,1317.3 1919.5,1320.6 1920.1,1321.2 1920.7,1319.5 1921.3,1318.5 1921.9,1320.1 1922.5,1319.4 1923.1,1321.4 1923.7,1319.8 1924.3,1319.8 1924.9,1321.5 1925.5,1321.7 1926.1,1319.7 1926.7,1320.3 1927.3,1318.1 1927.9,1319.2 1928.5,1322.9 1929.1,1320.0 1929.7,1318.9 1930.3,1317.8 1930.9,1318.0 1931.5,1319.7 1932.1,1318.9 1932.7,1319.6 1933.3,1316.5 1933.9,1316.4 1934.5,1315.1 1935.1,1317.6 1935.7,1317.3 1936.3,1317.7 1936.9,1317.8 1937.5,1316.8 1938.1,1317.5 1938.7,1315.7 1939.3,1316.2 1939.9,1314.6 1940.5,1314.2 1941.1,1315.2 1941.7,1316.6 1942.3,1316.7 1942.9,1318.5 1943.5,1320.7 1944.1,1318.8 1944.7,1320.5 1945.3,1316.0 1945.9,1314.2 1946.5,1313.4 1947.1,1313.8 1947.7,1311.4 1948.3,1310.5 1948.9,1312.7 1949.5,1316.2 1950.1,1315.9 1950.7,1314.1 1951.3,1314.0 1951.9,1313.8 1952.5,1316.3 1953.1,1317.9 1953.7,1320.8 1954.3,1321.7 1954.9,1322.4 1955.5,1321.0 1956.1,1319.3 1956.7,1319.8 1957.3,1321.9 1957.9,1319.6 1958.5,1321.0 1959.1,1319.5 1959.7,1320.3 1960.3,1317.0 1960.9,1317.8 1961.5,1316.1"/>
<polyline stroke="#ff00ff" points="144.7,1167.2 145.3,1168.1 145.9,1164.9 146.5,1165.5 147.1,1165.9 147.7,1167.4 148.3,1166.0 148.9,1166.6 149.5,1162.7 150.1,1162.2 150.7,1161.7 151.3,1163.1 151.9,1163.9 152.5,1164.5 153.1,1166.4 153.7,1165.2 154.3,1166.8 154.9,1167.4 155.5,1167.0 156.1,1169.1 156.7,1164.4 157.3,1166.6 157.9,1166.0 158.5,1166.7 159.1,1167.7 159.7,1169.1 160.3,1169.2 160.9,1167.6 161.5,1167.4 162.1,1165.1 162.7,1161.8 163.3,1165.9 163.9,1163.0 164.5,1161.7 165.1,1161.6 165.7,1160.6 166.3,1159.9 166.9,1158.8 167.5,1155.9 168.1,1152.1 168.7,1142.6 169.3,1133.2 169.9,1124.5 170.5,1121.6 171.1,1134.1 171.7,1146.1 172.3,1156.4 172.9,1158.9 173.5,1161.7 174.1,1161.0 174.7,1159.3 175.3,1160.4 175.9,1163.9 176.5,1165.0 177.1,1166.2 177.7,1166.1 178.3,1165.5 178.9,1163.0 179.5,1164.3 180.1,1162.1 180.7,1162.0 181.3,1162.6 181.9,1162.3 182.5,1159.5 183.1,1164.4 183.7,1163.0 184.3,1164.6 184.9,1165.7 185.5,1167.7 186.1,1168.0 186.7,1167.3 187.3,1165.7 187.9,1164.7 188.5,1163.0 189.1,1163.7 189.7,1166.5 190.3,1168.5 190.9,1171.2 191.5,1172.4 192.1,1171.4 192.7,1170.2 193.3,1169.2 193.9,1168.2 194.5,1167.1 195.1,1168.2 195.7,1167.1 196.3,1166.1 196.9,1166.3 197.5,1166.0 198.1,1167.8 198.7,1165.5 199.3,1167.6 199.9,1163.9 200.5,1162.2 201.1,1162.4 201.7,1161.8 202.3,1163.2 202.9,1163.2 203.5,1163.0 204.1,1165.2 204.7,1164.3 205.3,1168.1 205.9,1168.3 206.5,1169.2 207.1,1169.1 207.7,1166.9 208.3,1164.4 208.9,1163.0 209.5,1159.5 210.1,1162.8 210.7,1162.9 211.3,1162.6 211.9,1163.5 212.5,1162.3 213.1,1163.8 213.7,1161.6 214.3,1160.5 214.9,1158.8 215.5,1160.9 216.1,1160.9 216.7,1160.1 217.3,1162.3 217.9,1162.5 218.5,1162.5 219.1,1160.2 219.7,1161.7 220.3,1159.5 220.9,1158.8 221.5,1158.0 222.1,1158.3 222.7,1160.7 223.3,1159.1 223.9,1161.2 224.5,1158.7 225.1,1161.7 225.7,1160.3 226.3,1162.3 226.9,1163.7 227.5,1166.6 228.1,1166.4 228.7,1165.0 229.3,1165.2 229.9,1161.9 230.5,1161.5 231.1,1161.8 231.7,1165.2 232.3,1165.1 232.9,1169.1 233.5,1168.7 234.1,1170.0 234.7,1170.2 235.3,1169.1 235.9,1169.5 236.5,1166.1 237.1,1166.6 237.7,1164.5 238.3,1161.1 238.9,1161.8 239.5,1163.4 240.1,1163.2 240.7,1164.3 241.3,1167.7 241.9,1166.7 242.5,1164.8 243.1,1166.1 243.7,1163.2 244.3,1164.6 244.9,1163.8 245.5,1163.1 246.1,1162.8 246.7,1160.1 247.3,1158.5 247.9,1156.5 248.5,1154.6 249.1,1156.1 249.7,1159.2 250.3,1161.9 250.9,1164.2 251.5,1168.3 252.1,1170.2 252.7,1169.9 253.3,1170.9 253.9,1170.6 254.5,1166.1 255.1,1166.7 255.7,1163.1 256.3,1161.1 256.9,1161.9 257.5,1160.9 258.1,1162.1 258.7,1164.0 259.3,1165.2 259.9,1162.8 260.5,1165.5 261.1,1164.8 261.7,1166.0 262.3,1167.3 262.9,1166.3 263.5,1166.3 264.1,1165.8 264.7,1163.1 265.3,1158.8 265.9,1159.8 266.5,1156.8 267.1,1158.4 267.7,1154.5 268.3,1156.7 268.9,1156.2 269.5,1153.0 270.1,1154.5 270.7,1158.1 271.3,1159.1 271.9,1160.9 272.5,1159.8 273.1,1159.4 273.7,1161.4 274.3,1163.3 274.9,1165.2 275.5,1164.3 276.1,1163.3 276.7,1163.0 277.3,1165.5 277.9,1164.3 278.5,1165.9 279.1,1166.2 279.7,1165.8 280.3,1163.4 280.9,1165.4 281.5,1165.1 282.1,1164.8 282.7,1163.2 283.3,1165.1 283.9,1163.1 284.5,1163.8 285.1,1166.9 285.7,1165.6 286.3,1166.0 286.9,1169.4 287.5,1167.3 288.1,1167.1 288.7,1165.6 289.3,1162.4 289.9,1161.1 290.5,1161.3 291.1,1160.9 291.7,1159.2 292.3,1161.2 292.9,1161.5 293.5,1161.0 294.1,1162.2 294.7,1163.1 295.3,1163.5 295.9,1168.4 296.5,1167.0 297.1,1170.0 297.7,1167.4 298.3,1164.3 298.9,1161.0 299.5,1164.1 300.1,1161.3 300.7,1163.1 301.3,1161.8 301.9,1160.1 302.5,1157.8 303.1,1157.7 303.7,1161.6 304.3,1164.7 304.9,1165.4 305.5,1165.9 306.1,1164.0 306.7,1160.4 307.3,1163.2 307.9,1164.0 308.5,1165.3 309.1,1167.7 309.7,1170.0 310.3,1171.6 310.9,1171.3 311.5,1168.4 312.1,1168.4 312.7,1168.9 313.3,1170.4 313.9,1170.3 314.5,1170.1 315.1,1170.6 315.7,1170.1 316.3,1167.9 316.9,1167.9 317.5,1167.1 318.1,1165.6 318.7,1165.3 319.3,1166.5 319.9,1164.4 320.5,1165.6 321.1,1165.5 321.7,1164.0 322.3,1163.5 322.9,1165.8 323.5,1169.3 324.1,1167.9 324.7,1165.7 325.3,1164.0 325.9,1161.4 326.5,1161.8 327.1,1163.0 327.7,1162.6 328.3,1164.1 328.9,1161.6 329.5,1162.9 330.1,1159.3 330.7,1161.7 331.3,1161.9 331.9,1164.0 332.5,1166.2 333.1,1165.9 333.7,1166.8 334.3,1168.3 334.9,1170.2 335.5,1171.3 336.1,1172.8 336.7,1173.5 337.3,1171.2 337.9,1170.9 338.5,1168.4 339.1,1166.7 339.7,1164.4 340.3,1163.2 340.9,1161.1 341.5,1161.2 342.1,1161.6 342.7,1162.3 343.3,1162.4 343.9,1163.4 344.5,1165.7 345.1,1169.4 345.7,1168.5 346.3,1166.1 346.9,1169.7 347.5,1168.1 348.1,1169.4 348.7,1167.7 349.3,1168.9 349.9,1169.5 350.5,1168.9 351.1,1170.4 351.7,1166.5 352.3,1167.3 352.9,1168.7 353.5,1168.3 354.1,1166.6 354.7,1166.5 355.3,1164.6 355.9,1160.9 356.5,1160.4 357.1,1159.1 357.7,1158.2 358.3,1160.3 358.9,1158.9 359.5,1160.9 360.1,1164.5 360.7,1166.0 361.3,1165.0 361.9,1164.6 362.5,1165.0 363.1,1163.7 363.7,1162.9 364.3,1162.5 364.9,1161.9 365.5,1161.8 366.1,1162.9 366.7,1166.5 367.3,1166.0 367.9,1165.7 368.5,1163.7 369.1,1163.1 369.7,1162.0 370.3,1164.1 370.9,1167.2 371.5,1166.4 372.1,1168.2 372.7,1166.1 373.3,1164.1 373.9,1164.2 374.5,1164.4 375.1,1163.7 375.7,1163.8 376.3,1164.8 376.9,1163.0 377.5,1164.3 378.1,1165.9 378.7,1164.8 379.3,1165.3 379.9,1163.7 380.5,1163.2 381.1,1163.5 381.7,1163.1 382.3,1165.5 382.9,1166.3 383.5,1167.2 384.1,1167.9 384.7,1166.5 385.3,1165.9 385.9,1170.0 386.5,1169.7 387.1,1171.8 387.7,1171.8 388.3,1171.7 388.9,1169.4 389.5,1168.3 390.1,1166.9 390.7,1165.2 391.3,1167.1 391.9,1165.7 392.5,1169.0 393.1,1167.1 393.7,1168.8 394.3,1168.2 394.9,1168.2 395.5,1166.8 396.1,1165.8 396.7,1166.3 397.3,1165.3 397.9,1162.6 398.5,1163.8 399.1,1162.0 399.7,1161.9 400.3,1164.2 400.9,1161.5 401.5,1165.5 402.1,1167.5 402.7,1165.6 403.3,1167.5 403.9,1168.7 404.5,1168.2 405.1,1166.3 405.7,1165.2 406.3,1166.2 406.9,1167.2 407.5,1166.9 408.1,1166.2 408.7,1167.1 409.3,1166.0 409.9,1164.2 410.5,1161.1 411.1,1161.8 411.7,1161.6 412.3,1163.9 412.9,1162.0 413.5,1163.6 414.1,1163.4 414.7,1163.7 415.3,1165.8 415.9,1166.3 416.5,1168.0 417.1,1165.3 417.7,1164.4 418.3,1164.8 418.9,1165.0 419.5,1166.8 420.1,1165.6 420.7,1166.2 421.3,1165.6 421.9,1164.7 422.5,1164.6 423.1,1165.8 423.7,1168.6 424.3,1168.7 424.9,1169.2 425.5,1168.4 426.1,1166.4 426.7,1166.8 427.3,1169.7 427.9,1168.6 428.5,1168.2 429.1,1168.2 429.7,1167.0 430.3,1165.0 430.9,1166.4 431.5,1166.7 432.1,1166.8 432.7,1168.8 433.3,1164.0 433.9,1161.4 434.5,1158.8 435.1,1157.4 435.7,1159.6 436.3,1158.0 436.9,1158.1 437.5,1156.8 438.1,1157.6 438.7,1155.7 439.3,1154.4 439.9,1153.3 440.5,1152.0 441.1,1149.5 441.7,1149.3 442.3,1150.3 442.9,1152.6 443.5,1155.9 444.1,1157.2 444.7,1156.8 445.3,1157.3 445.9,1158.6 446.5,1159.4 447.1,1158.6 447.7,1159.3 448.3,1159.6 448.9,1162.6 449.5,1159.7 450.1,1158.7 450.7,1162.2 451.3,1162.9 451.9,1161.9 452.5,1164.2 453.1,1165.8 453.7,1165.3 454.3,1168.7 454.9,1168.2 455.5,1169.9 456.1,1169.6 456.7,1168.8 457.3,1164.8 457.9,1162.5 458.5,1161.2 459.1,1162.0 459.7,1163.7 460.3,1163.8 460.9,1165.3 461.5,1165.8 462.1,1168.1 462.7,1166.1 463.3,1166.8 463.9,1162.4 464.5,1161.5 465.1,1162.2 465.7,1164.3 466.3,1165.9 466.9,1167.9 467.5,1168.5 468.1,1165.4 468.7,1163.3 469.3,1163.9 469.9,1165.8 470.5,1166.6 471.1,1167.6 471.7,1168.1 472.3,1168.8 472.9,1167.9 473.5,1166.0 474.1,1164.0 474.7,1167.3 475.3,1166.4 475.9,1167.9 476.5,1168.0 477.1,1168.8 477.7,1168.5 478.3,1170.2 478.9,1171.3 479.5,1170.5 480.1,1169.5 480.7,1166.8 481.3,1165.4 481.9,1164.9 482.5,1166.7 483.1,1168.5 483.7,1169.9 484.3,1169.7 484.9,1167.3 485.5,1164.9 486.1,1165.6 486.7,1165.0 487.3,1165.2 487.9,1163.7 488.5,1165.7 489.1,1163.6 489.7,1165.2 490.3,1163.1 490.9,1165.4 491.5,1165.4 492.1,1165.3 492.7,1167.7 493.3,1167.8 493.9,1163.7 494.5,1163.3 495.1,1161.9 495.7,1162.0 496.3,1166.1 496.9,1167.7 497.5,1167.0 498.1,1166.0 498.7,1162.2 499.3,1157.8 499.9,1158.4 500.5,1159.2 501.1,1158.6 501.7,1159.8 502.3,1163.6 502.9,1162.6 503.5,1163.7 504.1,1162.1 504.7,1161.4 505.3,1159.5 505.9,1159.2 506.5,1155.0 507.1,1154.6 507.7,1150.4 508.3,1143.4 508.9,1130.9 509.5,1105.7 510.1,1065.1 510.7,999.2 511.3,913.2 511.9,806.8 512.5,700.9 513.1,611.8 513.7,570.3 514.3,592.0 514.9,666.3 515.5,771.6 516.1,881.6 516.7,974.4 517.3,1047.0 517.9,1094.4 518.5,1125.7 519.1,1141.2 519.7,1149.9 520.3,1152.5 520.9,1149.9 521.5,1148.2 522.1,1148.1 522.7,1148.9 523.3,1149.4 523.9,1152.8 524.5,1153.9 525.1,1153.5 525.7,1154.1 526.3,1156.3 526.9,1157.9 527.5,1158.4 528.1,1158.6 528.7,1157.3 529.3,1154.7 529.9,1155.0 530.5,1156.4 531.1,1158.7 531.7,1158.8 532.3,1159.9 532.9,1158.0 533.5,1159.0 534.1,1158.7 534.7,1158.8 535.3,1159.3 535.9,1156.7 536.5,1153.9 537.1,1151.2 537.7,1148.2 538.3,1148.4 538.9,1150.4 539.5,1151.8 540.1,1153.0 540.7,1156.2 541.3,1157.8 541.9,1157.5 542.5,1161.1 543.1,1162.3 543.7,1165.4 544.3,1165.2 544.9,1165.9 545.5,1168.3 546.1,1166.8 546.7,1167.9 547.3,1166.2 547.9,1163.4 548.5,1161.3 549.1,1161.0 549.7,1158.8 550.3,1160.9 550.9,1160.6 551.5,1163.6 552.1,1161.2 552.7,1161.1 553.3,1161.2 553.9,1161.1 554.5,1162.9 555.1,1164.9 555.7,1166.0 556.3,1168.5 556.9,1169.2 557.5,1169.0 558.1,1169.8 558.7,1169.1 559.3,1169.2 559.9,1165.5 560.5,1165.3 561.1,1163.2 561.7,1164.0 562.3,1166.0 562.9,1164.9 563.5,1165.0 564.1,1168.0 564.7,1168.5 565.3,1169.6 565.9,1166.1 566.5,1164.5 567.1,1161.9 567.7,1162.2 568.3,1163.0 568.9,1163.1 569.5,1160.8 570.1,1160.4 570.7,1162.0 571.3,1161.5 571.9,1163.2 572.5,1165.4 573.1,1166.6 573.7,1165.5 574.3,1163.4 574.9,1038.3 575.5,1166.0 576.1,1042.2 576.7,1166.0 577.3,1038.2 577.9,1166.0 578.5,1042.5 579.1,1170.4 579.7,1040.7 580.3,1171.8 580.9,1040.1 581.5,1169.5 582.1,1010.3 582.7,885.9 583.3,743.6 583.9,630.6 584.5,614.8 585.1,704.7 585.7,845.3 586.3,976.1 586.9,1044.8 587.5,1171.1 588.1,1046.5 588.7,1171.0 589.3,1154.7 589.9,1158.3 590.5,1158.0 591.1,1158.2 591.7,1159.9 592.3,1159.7 592.9,1160.6 593.5,1160.4 594.1,1161.2 594.7,1159.0 595.3,1159.4 595.9,1161.0 596.5,1161.5 597.1,1164.4 597.7,1165.5 598.3,1166.6 598.9,1164.5 599.5,1161.9 600.1,1160.4 600.7,1162.2 601.3,1160.5 601.9,1161.0 602.5,1159.6 603.1,1159.4 603.7,1159.1 604.3,1158.9 604.9,1156.8 605.5,1155.6 606.1,1150.0 606.7,1148.6 607.3,1150.0 607.9,1149.7 608.5,1146.6 609.1,1149.8 609.7,1148.0 610.3,1149.0 610.9,1144.2 611.5,1147.6 612.1,1143.6 612.7,1144.5 613.3,1145.4 613.9,1145.2 614.5,1144.7 615.1,1143.4 615.7,1137.8 616.3,1133.5 616.9,1133.2 617.5,1130.6 618.1,1128.5 618.7,1129.8 619.3,1129.0 619.9,1131.5 620.5,1131.7 621.1,1135.6 621.7,1135.3 622.3,1137.8 622.9,1141.0 623.5,1140.8 624.1,1141.5 624.7,1142.3 625.3,1142.1 625.9,1142.8 626.5,1146.5 627.1,1146.5 627.7,1151.2 628.3,1153.2 628.9,1152.3 629.5,1153.1 630.1,1149.7 630.7,1149.9 631.3,1151.1 631.9,1149.5 632.5,1148.6 633.1,1149.7 633.7,1150.5 634.3,1150.2 634.9,1148.9 635.5,1145.6 636.1,1142.7 636.7,1139.8 637.3,1134.7 637.9,1134.1 638.5,1130.6 639.1,1129.4 639.7,1125.4 640.3,1121.3 640.9,1116.4 641.5,1114.7 642.1,1105.2 642.7,1100.3 643.3,1090.2 643.9,1082.9 644.5,1075.1 645.1,1064.6 645.7,1049.5 646.3,1036.1 646.9,1016.8 647.5,992.0 648.1,957.2 648.7,907.7 649.3,838.8 649.9,747.4 650.5,694.2 651.1,749.1 651.7,839.3 652.3,903.0 652.9,949.4 653.5,982.3 654.1,1006.2 654.7,1026.5 655.3,1043.1 655.9,1060.3 656.5,1072.9 657.1,1084.5 657.7,1093.4 658.3,1102.4 658.9,1108.2 659.5,1111.2 660.1,1114.5 660.7,1116.0 661.3,1121.0 661.9,1121.0 662.5,1124.6 663.1,1128.3 663.7,1132.8 664.3,1136.0 664.9,1138.0 665.5,1138.9 666.1,1139.4 666.7,1142.7 667.3,1144.2 667.9,1146.3 668.5,1146.4 669.1,1148.7 669.7,1144.4 670.3,1145.7 670.9,1147.8 671.5,1148.6 672.1,1149.8 672.7,1150.0 673.3,1149.3 673.9,1146.6 674.5,1146.6 675.1,1152.1 675.7,1150.4 676.3,1150.1 676.9,1151.1 677.5,1149.7 678.1,1149.1 678.7,1148.9 679.3,1151.5 679.9,1153.3 680.5,1153.9 681.1,1156.4 681.7,1157.8 682.3,1158.6 682.9,1161.1 683.5,1160.6 684.1,1162.7 684.7,1162.0 685.3,1163.1 685.9,1161.7 686.5,1161.8 687.1,1158.1 687.7,1157.8 688.3,1156.3 688.9,1157.1 689.5,1155.1 690.1,1155.9 690.7,1155.9 691.3,1159.1 691.9,1158.8 692.5,1160.6 693.1,1161.5 693.7,1160.9 694.3,1161.3 694.9,1159.6 695.5,1162.0 696.1,1161.8 696.7,1162.0 697.3,1161.0 697.9,1162.7 698.5,1163.4 699.1,1161.0 699.7,1159.1 700.3,1160.3 700.9,1159.6 701.5,1161.3 702.1,1162.4 702.7,1164.5 703.3,1168.9 703.9,1167.4 704.5,1170.7 705.1,1169.5 705.7,1167.6 706.3,1166.6 706.9,1161.7 707.5,1162.6 708.1,1163.9 708.7,1164.3 709.3,1163.9 709.9,1165.1 710.5,1168.8 711.1,1165.8 711.7,1163.8 712.3,1163.2 712.9,1163.7 713.5,1164.5 714.1,1166.4 714.7,1164.1 715.3,1164.0 715.9,1163.0 716.5,1160.3 717.1,1158.8 717.7,1161.0 718.3,1159.8 718.9,1162.4 719.5,1162.3 720.1,1161.1 720.7,1166.2 721.3,1170.1 721.9,1168.8 722.5,1170.3 723.1,1168.7 723.7,1169.9 724.3,1171.7 724.9,1168.7 725.5,1169.3 726.1,1168.1 726.7,1162.7 727.3,1162.6 727.9,1160.4 728.5,1161.8 729.1,1163.4 729.7,1166.2 730.3,1167.4 730.9,1167.4 731.5,1170.0 732.1,1168.8 732.7,1167.4 733.3,1166.2 733.9,1163.0 734.5,1161.9 735.1,1162.1 735.7,1163.7 736.3,1164.8 736.9,1165.0 737.5,1165.5 738.1,1165.3 738.7,1167.8 739.3,1169.3 739.9,1169.6 740.5,1169.1 741.1,1168.2 741.7,1165.1 742.3,1166.6 742.9,1169.1 743.5,1169.7 744.1,1169.3 744.7,1167.2 745.3,1164.9 745.9,1162.3 746.5,1162.1 747.1,1162.7 747.7,1165.8 748.3,1166.2 748.9,1168.9 749.5,1167.4 750.1,1167.3 750.7,1166.1 751.3,1168.2 751.9,1167.3 752.5,1167.7 753.1,1167.3 753.7,1164.9 754.3,1164.8 754.9,1165.0 755.5,1165.4 756.1,1168.9 756.7,1167.6 757.3,1169.8 757.9,1167.8 758.5,1169.0 759.1,1169.3 759.7,1169.0 760.3,1169.5 760.9,1170.7 761.5,1170.2 762.1,1169.6 762.7,1169.5 763.3,1167.0 763.9,1165.8 764.5,1165.5 765.1,1163.3 765.7,1165.2 766.3,1167.8 766.9,1168.9 767.5,1167.8 768.1,1168.8 768.7,1169.4 769.3,1168.8 769.9,1168.9 770.5,1168.1 771.1,1168.0 771.7,1166.3 772.3,1165.4 772.9,1167.3 773.5,1166.1 774.1,1162.7 774.7,1160.3 775.3,1158.5 775.9,1159.5 776.5,1160.0 777.1,1162.7 777.7,1163.6 778.3,1165.8 778.9,1164.0 779.5,1164.4 780.1,1160.1 780.7,1163.2 781.3,1162.4 781.9,1162.3 782.5,1164.4 783.1,1163.7 783.7,1164.7 784.3,1161.9 784.9,1161.0 785.5,1161.3 786.1,1163.2 786.7,1162.0 787.3,1163.3 787.9,1163.4 788.5,1163.3 789.1,1161.0 789.7,1160.9 790.3,1162.2 790.9,1163.8 791.5,1165.1 792.1,1168.3 792.7,1166.9 793.3,1167.3 793.9,1166.8 794.5,1167.9 795.1,1165.1 795.7,1167.9 796.3,1166.4 796.9,1166.0 797.5,1164.5 798.1,1165.7 798.7,1164.0 799.3,1166.1 799.9,1166.6 800.5,1164.1 801.1,1161.4 801.7,1161.4 802.3,1162.3 802.9,1164.8 803.5,1163.9 804.1,1166.1 804.7,1168.2 805.3,1166.8 805.9,1167.0 806.5,1166.3 807.1,1164.8 807.7,1164.9 808.3,1166.6 808.9,1163.7 809.5,1165.4 810.1,1164.4 810.7,1166.5 811.3,1168.5 811.9,1169.4 812.5,1169.8 813.1,1167.7 813.7,1164.4 814.3,1162.8 814.9,1159.2 815.5,1158.5 816.1,1159.7 816.7,1159.6 817.3,1160.5 817.9,1160.6 818.5,1162.1 819.1,1163.6 819.7,1164.2 820.3,1163.4 820.9,1162.1 821.5,1159.8 822.1,1159.8 822.7,1159.4 823.3,1160.1 823.9,1159.3 824.5,1158.9 825.1,1163.4 825.7,1165.1 826.3,1167.2 826.9,1167.4 827.5,1167.5 828.1,1166.5 828.7,1165.5 829.3,1163.9 829.9,1163.0 830.5,1160.6 831.1,1163.6 831.7,1164.0 832.3,1166.1 832.9,1166.6 833.5,1167.6 834.1,1166.6 834.7,1170.2 835.3,1169.3 835.9,1169.1 836.5,1167.1 837.1,1166.6 837.7,1166.8 838.3,1164.6 838.9,1164.0 839.5,1164.4 840.1,1165.4 840.7,1164.3 841.3,1164.0 841.9,1163.5 842.5,1163.5 843.1,1163.9 843.7,1162.8 844.3,1161.6 844.9,1161.3 845.5,1160.0 846.1,1163.0 846.7,1163.0 847.3,1165.7 847.9,1166.7 848.5,1165.8 849.1,1165.1 849.7,1163.4 850.3,1164.7 850.9,1164.4 851.5,1162.6 852.1,1160.0 852.7,1162.1 853.3,1160.8 853.9,1161.5 854.5,1165.8 855.1,1165.2 855.7,1166.3 856.3,1166.1 856.9,1165.7 857.5,1165.9 858.1,1167.1 858.7,1167.2 859.3,1168.1 859.9,1166.1 860.5,1167.1 861.1,1169.1 861.7,1170.1 862.3,1170.4 862.9,1169.8 863.5,1170.8 864.1,1170.1 864.7,1166.8 865.3,1168.3 865.9,1168.0 866.5,1167.2 867.1,1169.5 867.7,1169.0 868.3,1168.5 868.9,1167.4 869.5,1167.0 870.1,1168.3 870.7,1170.1 871.3,1170.6 871.9,1171.5 872.5,1169.8 873.1,1167.6 873.7,1166.3 874.3,1166.8 874.9,1166.5 875.5,1172.0 876.1,1172.6 876.7,1172.9 877.3,1171.7 877.9,1168.8 878.5,1164.7 879.1,1164.5 879.7,1166.3 880.3,1167.0 880.9,1164.0 881.5,1163.4 882.1,1164.0 882.7,1163.3 883.3,1165.4 883.9,1166.0 884.5,1163.6 885.1,1163.9 885.7,1165.2 886.3,1164.4 886.9,1167.2 887.5,1169.6 888.1,1171.3 888.7,1172.1 889.3,1171.7 889.9,1171.2 890.5,1169.4 891.1,1168.8 891.7,1167.8 892.3,1165.5 892.9,1164.9 893.5,1165.7 894.1,1166.5 894.7,1165.0 895.3,1165.0 895.9,1164.6 896.5,1165.0 897.1,1165.7 897.7,1165.5 898.3,1167.1 898.9,1167.9 899.5,1168.5 900.1,1167.3 900.7,1167.0 901.3,1168.1 901.9,1166.4 902.5,1165.6 903.1,1165.5 903.7,1163.6 904.3,1162.4 904.9,1161.6 905.5,1160.3 906.1,1161.1 906.7,1162.8 907.3,1163.1 907.9,1161.4 908.5,1161.2 909.1,1157.1 909.7,1157.2 910.3,1155.2 910.9,1155.8 911.5,1156.3 912.1,1157.8 912.7,1159.2 913.3,1157.6 913.9,1157.8 914.5,1158.9 915.1,1158.6 915.7,1159.3 916.3,1160.8 916.9,1161.1 917.5,1162.8 918.1,1162.1 918.7,1161.0 919.3,1161.5 919.9,1160.5 920.5,1162.0 921.1,1165.5 921.7,1165.4 922.3,1167.1 922.9,1169.0 923.5,1171.7 924.1,1171.0 924.7,1172.9 925.3,1170.9 925.9,1170.3 926.5,1169.0 927.1,1170.0 927.7,1168.0 928.3,1169.2 928.9,1166.1 929.5,1166.0 930.1,1165.5 930.7,1165.2 931.3,1164.4 931.9,1165.5 932.5,1163.8 933.1,1163.4 933.7,1162.8 934.3,1164.4 934.9,1164.8 935.5,1165.0 936.1,1167.6 936.7,1168.0 937.3,1168.2 937.9,1169.2 938.5,1168.0 939.1,1169.1 939.7,1167.8 940.3,1166.6 940.9,1165.5 941.5,1166.5 942.1,1164.1 942.7,1164.6 943.3,1161.0 943.9,1161.5 944.5,1157.9 945.1,1159.7 945.7,1160.7 946.3,1163.2 946.9,1164.2 947.5,1161.8 948.1,1161.6 948.7,1160.5 949.3,1159.4 949.9,1157.5 950.5,1159.4 951.1,1157.5 951.7,1157.3 952.3,1158.0 952.9,1157.7 953.5,1157.5 954.1,1155.6 954.7,1154.7 955.3,1153.2 955.9,1154.3 956.5,1154.2 957.1,1155.5 957.7,1157.0 958.3,1157.5 958.9,1155.9 959.5,1159.6 960.1,1160.9 960.7,1159.5 961.3,1160.6 961.9,1160.7 962.5,1159.1 963.1,1159.1 963.7,1158.9 964.3,1161.0 964.9,1162.7 965.5,1163.3 966.1,1165.6 966.7,1167.5 967.3,1167.8 967.9,1165.0 968.5,1165.4 969.1,1163.2 969.7,1162.4 970.3,1160.0 970.9,1163.3 971.5,1164.7 972.1,1164.5 972.7,1165.4 973.3,1167.0 973.9,1164.8 974.5,1165.7 975.1,1162.8 975.7,1161.9 976.3,1162.4 976.9,1160.4 977.5,1164.3 978.1,1160.7 978.7,1161.8 979.3,1160.1 979.9,1158.8 980.5,1155.9 981.1,1153.6 981.7,1154.5 982.3,1154.7 982.9,1156.7 983.5,1157.7 984.1,1155.8 984.7,1154.2 985.3,1150.0 985.9,1146.1 986.5,1138.7 987.1,1123.9 987.7,1101.6 988.3,1064.3 988.9,1004.9 989.5,925.1 990.1,837.2 990.7,767.3 991.3,748.0 991.9,792.2 992.5,873.9 993.1,962.0 993.7,1034.6 994.3,1085.8 994.9,1119.4 995.5,1137.0 996.1,1148.5 996.7,1152.1 997.3,1154.0 997.9,1157.1 998.5,1158.4 999.1,1160.6 999.7,1161.5 1000.3,1164.7 1000.9,1166.9 1001.5,1167.4 1002.1,1165.7 1002.7,1167.2 1003.3,1164.8 1003.9,1167.2 1004.5,1168.1 1005.1,1168.1 1005.7,1166.6 1006.3,1165.7 1006.9,1163.3 1007.5,1162.7 1008.1,1161.2 1008.7,1160.6 1009.3,1163.2 1009.9,1163.3 1010.5,1165.9 1011.1,1165.9 1011.7,1165.6 1012.3,1166.5 1012.9,1164.6 1013.5,1163.9 1014.1,1162.8 1014.7,1159.7 1015.3,1158.1 1015.9,1159.9 1016.5,1160.3 1017.1,1160.4 1017.7,1158.7 1018.3,1158.3 1018.9,1161.9 1019.5,1162.8 1020.1,1164.9 1020.7,1164.8 1021.3,1165.7 1021.9,1163.5 1022.5,1165.0 1023.1,1163.9 1023.7,1163.3 1024.3,1163.1 1024.9,1162.1 1025.5,1161.7 1026.1,1161.2 1026.7,1162.9 1027.3,1163.9 1027.9,1165.1 1028.5,1162.9 1029.1,1160.4 1029.7,1159.3 1030.3,1154.9 1030.9,1153.8 1031.5,1156.4 1032.1,1156.2 1032.7,1155.4 1033.3,1155.6 1033.9,1155.8 1034.5,1153.4 1035.1,1154.7 1035.7,1154.4 1036.3,1153.8 1036.9,1155.9 1037.5,1155.3 1038.1,1157.3 1038.7,1157.4 1039.3,1157.1 1039.9,1158.0 1040.5,1158.4 1041.1,1159.1 1041.7,1160.0 1042.3,1158.7 1042.9,1156.8 1043.5,1157.8 1044.1,1158.9 1044.7,1158.4 1045.3,1160.2 1045.9,1161.3 1046.5,1164.1 1047.1,1168.0 1047.7,1168.6 1048.3,1171.3 1048.9,1169.3 1049.5,1167.0 1050.1,1167.3 1050.7,1164.4 1051.3,1164.4 1051.9,1164.6 1052.5,1164.6 1053.1,1165.1 1053.7,1166.4 1054.3,1167.0 1054.9,1167.1 1055.5,1166.3 1056.1,1165.4 1056.7,1167.1 1057.3,1169.9 1057.9,1167.5 1058.5,1170.0 1059.1,1167.9 1059.7,1169.7 1060.3,1170.3 1060.9,1170.8 1061.5,1172.0 1062.1,1172.6 1062.7,1171.2 1063.3,1171.3 1063.9,1168.2 1064.5,1167.2 1065.1,1166.2 1065.7,1165.6 1066.3,1167.5 1066.9,1168.3 1067.5,1167.1 1068.1,1169.0 1068.7,1167.7 1069.3,1167.2 1069.9,1166.6 1070.5,1167.3 1071.1,1167.2 1071.7,1167.9 1072.3,1167.0 1072.9,1167.7 1073.5,1168.3 1074.1,1166.5 1074.7,1163.0 1075.3,1165.2 1075.9,1166.1 1076.5,1165.4 1077.1,1164.3 1077.7,1163.5 1078.3,1162.8 1078.9,1164.2 1079.5,1162.5 1080.1,1163.9 1080.7,1163.7 1081.3,1162.6 1081.9,1163.0 1082.5,1162.0 1083.1,1162.0 1083.7,1165.0 1084.3,1163.3 1084.9,1160.2 1085.5,1160.5 1086.1,1160.5 1086.7,1160.5 1087.3,1157.3 1087.9,1157.2 1088.5,1155.3 1089.1,1156.3 1089.7,1154.5 1090.3,1156.7 1090.9,1159.6 1091.5,1158.3 1092.1,1158.6 1092.7,1160.2 1093.3,1160.5 1093.9,1164.7 1094.5,1168.0 1095.1,1168.6 1095.7,1167.2 1096.3,1164.5 1096.9,1163.8 1097.5,1163.9 1098.1,1164.1 1098.7,1164.3 1099.3,1164.8 1099.9,1166.0 1100.5,1164.8 1101.1,1163.7 1101.7,1162.3 1102.3,1159.3 1102.9,1158.1 1103.5,1160.8 1104.1,1162.6 1104.7,1165.7 1105.3,1167.2 1105.9,1167.6 1106.5,1170.0 1107.1,1169.1 1107.7,1168.3 1108.3,1164.8 1108.9,1165.3 1109.5,1166.4 1110.1,1166.4 1110.7,1167.7 1111.3,1167.6 1111.9,1166.5 1112.5,1165.2 1113.1,1164.1 1113.7,1166.1 1114.3,1166.1 1114.9,1163.3 1115.5,1163.9 1116.1,1162.9 1116.7,1162.4 1117.3,1165.1 1117.9,1164.0 1118.5,1166.3 1119.1,1168.3 1119.7,1169.8 1120.3,1167.2 1120.9,1169.6 1121.5,1169.3 1122.1,1165.8 1122.7,1164.6 1123.3,1163.2 1123.9,1165.2 1124.5,1165.5 1125.1,1166.9 1125.7,1163.0 1126.3,1161.9 1126.9,1160.4 1127.5,1162.5 1128.1,1164.8 1128.7,1166.7 1129.3,1168.4 1129.9,1170.5 1130.5,1170.0 1131.1,1172.9 1131.7,1173.4 1132.3,1172.8 1132.9,1170.2 1133.5,1168.8 1134.1,1169.7 1134.7,1166.8 1135.3,1164.1 1135.9,1163.6 1136.5,1164.0 1137.1,1164.3 1137.7,1167.9 1138.3,1169.2 1138.9,1169.0 1139.5,1169.1 1140.1,1167.9 1140.7,1168.2 1141.3,1169.7 1141.9,1167.7 1142.5,1167.3 1143.1,1166.7 1143.7,1165.0 1144.3,1166.5 1144.9,1164.5 1145.5,1165.3 1146.1,1164.8 1146.7,1167.9 1147.3,1170.7 1147.9,1168.9 1148.5,1168.5 1149.1,1168.5 1149.7,1168.2 1150.3,1166.3 1150.9,1164.9 1151.5,1164.6 1152.1,1163.2 1152.7,1165.4 1153.3,1165.5 1153.9,1168.1 1154.5,1168.0 1155.1,1169.2 1155.7,1167.7 1156.3,1166.8 1156.9,1165.3 1157.5,1166.0 1158.1,1169.0 1158.7,1168.8 1159.3,1169.0 1159.9,1168.3 1160.5,1168.7 1161.1,1166.1 1161.7,1167.6 1162.3,1166.9 1162.9,1165.6 1163.5,1165.6 1164.1,1165.7 1164.7,1166.1 1165.3,1164.1 1165.9,1165.1 1166.5,1165.2 1167.1,1165.9 1167.7,1165.5 1168.3,1161.9 1168.9,1158.6 1169.5,1154.3 1170.1,1151.6 1170.7,1150.2 1171.3,1148.1 1171.9,1149.2 1172.5,1149.9 1173.1,1154.3 1173.7,1156.3 1174.3,1157.5 1174.9,1158.4 1175.5,1158.3 1176.1,1160.0 1176.7,1161.6 1177.3,1161.3 1177.9,1162.9 1178.5,1164.4 1179.1,1163.7 1179.7,1165.5 1180.3,1166.8 1180.9,1166.5 1181.5,1164.2 1182.1,1166.0 1182.7,1165.2 1183.3,1165.7 1183.9,1165.6 1184.5,1164.0 1185.1,1164.5 1185.7,1163.4 1186.3,1165.7 1186.9,1165.8 1187.5,1168.6 1188.1,1168.4 1188.7,1168.7 1189.3,1166.4 1189.9,1165.6 1190.5,1168.0 1191.1,1168.0 1191.7,1166.3 1192.3,1165.1 1192.9,1165.0 1193.5,1163.3 1194.1,1162.5 1194.7,1161.8 1195.3,1164.2 1195.9,1164.4 1196.5,1163.1 1197.1,1163.6 1197.7,1163.7 1198.3,1162.5 1198.9,1162.2 1199.5,1160.6 1200.1,1163.1 1200.7,1162.2 1201.3,1161.4 1201.9,1160.3 1202.5,1161.1 1203.1,1158.0 1203.7,1158.7 1204.3,1156.9 1204.9,1158.3 1205.5,1160.8 1206.1,1162.9 1206.7,1163.2 1207.3,1164.1 1207.9,1166.3 1208.5,1163.0 1209.1,1164.8 1209.7,1167.9 1210.3,1167.3 1210.9,1169.3 1211.5,1165.9 1212.1,1162.5 1212.7,1160.2 1213.3,1159.7 1213.9,1160.4 1214.5,1159.2 1215.1,1160.2 1215.7,1161.2 1216.3,1165.0 1216.9,1164.1 1217.5,1163.3 1218.1,1163.2 1218.7,1163.3 1219.3,1163.9 1219.9,1166.1 1220.5,1166.0 1221.1,1165.3 1221.7,1166.4 1222.3,1164.2 1222.9,1163.9 1223.5,1162.6 1224.1,1161.5 1224.7,1163.5 1225.3,1164.8 1225.9,1163.9 1226.5,1166.6 1227.1,1169.7 1227.7,1168.5 1228.3,1168.7 1228.9,1169.2 1229.5,1166.5 1230.1,1164.7 1230.7,1165.5 1231.3,1164.3 1231.9,1165.6 1232.5,1166.8 1233.1,1168.0 1233.7,1170.2 1234.3,1170.3 1234.9,1168.2 1235.5,1167.6 1236.1,1165.2 1236.7,1166.1 1237.3,1165.6 1237.9,1162.4 1238.5,1163.2 1239.1,1163.3 1239.7,1162.9 1240.3,1161.8 1240.9,1165.4 1241.5,1167.5 1242.1,1166.6 1242.7,1166.4 1243.3,1164.6 1243.9,1166.1 1244.5,1166.0 1245.1,1166.3 1245.7,1166.4 1246.3,1163.5 1246.9,1164.5 1247.5,1164.5 1248.1,1166.4 1248.7,1167.4 1249.3,1166.1 1249.9,1166.0 1250.5,1167.5 1251.1,1167.9 1251.7,1165.0 1252.3,1160.7 1252.9,1159.1 1253.5,1161.6 1254.1,1162.6 1254.7,1165.5 1255.3,1165.0 1255.9,1165.3 1256.5,1161.2 1257.1,1162.5 1257.7,1159.3 1258.3,1159.5 1258.9,1160.7 1259.5,1161.0 1260.1,1161.6 1260.7,1165.4 1261.3,1165.6 1261.9,1166.2 1262.5,1168.2 1263.1,1165.4 1263.7,1162.5 1264.3,1158.6 1264.9,1154.4 1265.5,1154.9 1266.1,1152.9 1266.7,1148.7 1267.3,1145.6 1267.9,1142.0 1268.5,1139.6 1269.1,1131.0 1269.7,1118.4 1270.3,1094.5 1270.9,1053.7 1271.5,991.0 1272.1,906.5 1272.7,806.8 1273.3,718.2 1273.9,672.1 1274.5,695.3 1275.1,772.4 1275.7,869.3 1276.3,955.3 1276.9,1025.2 1277.5,1073.2 1278.1,1105.0 1278.7,1123.3 1279.3,1134.7 1279.9,1143.1 1280.5,1149.8 1281.1,1152.0 1281.7,1151.0 1282.3,1150.7 1282.9,1152.7 1283.5,1154.8 1284.1,1158.7 1284.7,1162.3 1285.3,1163.1 1285.9,1161.6 1286.5,1157.8 1287.1,1158.3 1287.7,1156.3 1288.3,1158.6 1288.9,1158.3 1289.5,1159.5 1290.1,1159.1 1290.7,1159.3 1291.3,1161.3 1291.9,1161.5 1292.5,1161.5 1293.1,1158.2 1293.7,1159.8 1294.3,1158.0 1294.9,1159.6 1295.5,1162.6 1296.1,1162.2 1296.7,1161.2 1297.3,1162.5 1297.9,1163.5 1298.5,1164.6 1299.1,1165.5 1299.7,1162.4 1300.3,1160.7 1300.9,1160.2 1301.5,1159.1 1302.1,1161.4 1302.7,1161.1 1303.3,1161.9 1303.9,1162.2 1304.5,1162.6 1305.1,1162.5 1305.7,1162.2 1306.3,1163.7 1306.9,1165.0 1307.5,1163.1 1308.1,1162.9 1308.7,1164.8 1309.3,1165.6 1309.9,1167.8 1310.5,1170.2 1311.1,1171.5 1311.7,1170.8 1312.3,1170.7 1312.9,1168.3 1313.5,1164.8 1314.1,1165.9 1314.7,1164.8 1315.3,1163.5 1315.9,1166.7 1316.5,1166.0 1317.1,1165.0 1317.7,1166.3 1318.3,1166.5 1318.9,1165.3 1319.5,1163.3 1320.1,1163.0 1320.7,1160.8 1321.3,1160.8 1321.9,1163.0 1322.5,1161.7 1323.1,1162.4 1323.7,1161.9 1324.3,1162.4 1324.9,1162.5 1325.5,1162.8 1326.1,1163.2 1326.7,1166.1 1327.3,1166.7 1327.9,1165.3 1328.5,1163.0 1329.1,1161.5 1329.7,1161.8 1330.3,1160.7 1330.9,1160.9 1331.5,1162.2 1332.1,1163.9 1332.7,1163.4 1333.3,1166.4 1333.9,1166.2 1334.5,1166.0 1335.1,1165.9 1335.7,1164.9 1336.3,1163.9 1336.9,1164.0 1337.5,1165.8 1338.1,1165.6 1338.7,1166.3 1339.3,1167.7 1339.9,1163.6 1340.5,1164.2 1341.1,1164.9 1341.7,1166.0 1342.3,1166.3 1342.9,1164.9 1343.5,1164.1 1344.1,1164.8 1344.7,1164.0 1345.3,1163.9 1345.9,1165.3 1346.5,1164.1 1347.1,1164.5 1347.7,1164.3 1348.3,1164.0 1348.9,1163.5 1349.5,1167.4 1350.1,1167.6 1350.7,1167.3 1351.3,1167.9 1351.9,1167.0 1352.5,1166.2 1353.1,1166.3 1353.7,1163.4 1354.3,1163.4 1354.9,1165.4 1355.5,1167.5 1356.1,1167.7 1356.7,1165.6 1357.3,1166.7 1357.9,1164.5 1358.5,1164.4 1359.1,1163.1 1359.7,1162.4 1360.3,1160.5 1360.9,1157.9 1361.5,1156.3 1362.1,1155.8 1362.7,1156.6 1363.3,1159.6 1363.9,1160.6 1364.5,1162.9 1365.1,1162.9 1365.7,1162.7 1366.3,1163.9 1366.9,1160.5 1367.5,1160.2 1368.1,1159.2 1368.7,1161.0 1369.3,1162.4 1369.9,1165.0 1370.5,1167.2 1371.1,1166.1 1371.7,1166.3 1372.3,1166.3 1372.9,1163.9 1373.5,1164.4 1374.1,1163.0 1374.7,1159.8 1375.3,1161.5 1375.9,1163.9 1376.5,1163.5 1377.1,1168.2 1377.7,1168.9 1378.3,1170.7 1378.9,1168.9 1379.5,1167.4 1380.1,1168.2 1380.7,1165.6 1381.3,1161.9 1381.9,1157.0 1382.5,1156.8 1383.1,1158.1 1383.7,1160.5 1384.3,1161.3 1384.9,1159.9 1385.5,1162.1 1386.1,1160.1 1386.7,1159.8 1387.3,1159.5 1387.9,1157.4 1388.5,1153.4 1389.1,1147.3 1389.7,1144.8 1390.3,1144.2 1390.9,1145.1 1391.5,1148.8 1392.1,1153.6 1392.7,1156.3 1393.3,1159.0 1393.9,1161.2 1394.5,1165.1 1395.1,1166.1 1395.7,1167.0 1396.3,1165.9 1396.9,1167.4 1397.5,1168.3 1398.1,1169.5 1398.7,1167.4 1399.3,1167.1 1399.9,1166.3 1400.5,1166.5 1401.1,1167.8 1401.7,1167.6 1402.3,1169.6 1402.9,1169.6 1403.5,1167.5 1404.1,1166.1 1404.7,1167.7 1405.3,1166.3 1405.9,1170.1 1406.5,1168.3 1407.1,1170.0 1407.7,1173.2 1408.3,1171.8 1408.9,1170.1 1409.5,1168.5 1410.1,1168.3 1410.7,1168.5 1411.3,1166.7 1411.9,1166.3 1412.5,1165.1 1413.1,1162.7 1413.7,1163.7 1414.3,1164.6 1414.9,1166.8 1415.5,1165.9 1416.1,1165.6 1416.7,1163.0 1417.3,1164.7 1417.9,1166.2 1418.5,1167.3 1419.1,1169.0 1419.7,1169.4 1420.3,1167.2 1420.9,1165.4 1421.5,1165.4 1422.1,1165.3 1422.7,1163.7 1423.3,1164.9 1423.9,1162.6 1424.5,1166.2 1425.1,1167.2 1425.7,1169.1 1426.3,1166.4 1426.9,1163.8 1427.5,1163.7 1428.1,1164.0 1428.7,1163.1 1429.3,1164.3 1429.9,1165.0 1430.5,1166.6 1431.1,1168.4 1431.7,1167.2 1432.3,1168.5 1432.9,1166.8 1433.5,1165.9 1434.1,1166.2 1434.7,1166.0 1435.3,1167.4 1435.9,1166.4 1436.5,1163.6 1437.1,1163.4 1437.7,1161.9 1438.3,1159.4 1438.9,1158.6 1439.5,1158.3 1440.1,1156.6 1440.7,1158.8 1441.3,1158.1 1441.9,1158.1 1442.5,1156.7 1443.1,1155.2 1443.7,1152.9 1444.3,1149.3 1444.9,1141.1 1445.5,1129.7 1446.1,1108.0 1446.7,1077.9 1447.3,1027.8 1447.9,961.8 1448.5,874.4 1449.1,789.8 1449.7,731.7 1450.3,733.1 1450.9,790.4 1451.5,875.7 1452.1,960.7 1452.7,1030.4 1453.3,1078.9 1453.9,1110.5 1454.5,1128.3 1455.1,1141.9 1455.7,1147.6 1456.3,1148.3 1456.9,1149.7 1457.5,1150.0 1458.1,1149.1 1458.7,1149.7 1459.3,1153.0 1459.9,1151.6 1460.5,1153.5 1461.1,1150.7 1461.7,1150.2 1462.3,1152.7 1462.9,1153.6 1463.5,1154.9 1464.1,1156.0 1464.7,1156.5 1465.3,1156.0 1465.9,1154.5 1466.5,1156.3 1467.1,1158.7 1467.7,1158.9 1468.3,1159.9 1468.9,1159.4 1469.5,1158.8 1470.1,1161.9 1470.7,1159.7 1471.3,1161.4 1471.9,1161.2 1472.5,1160.6 1473.1,1161.0 1473.7,1160.4 1474.3,1159.1 1474.9,1159.6 1475.5,1160.5 1476.1,1161.0 1476.7,1163.2 1477.3,1164.7 1477.9,1164.9 1478.5,1165.5 1479.1,1164.7 1479.7,1168.7 1480.3,1169.9 1480.9,1166.8 1481.5,1165.0 1482.1,1165.7 1482.7,1163.6 1483.3,1165.6 1483.9,1167.9 1484.5,1167.4 1485.1,1168.6 1485.7,1169.3 1486.3,1171.5 1486.9,1169.5 1487.5,1170.3 1488.1,1170.6 1488.7,1169.4 1489.3,1169.1 1489.9,1167.0 1490.5,1166.6 1491.1,1166.9 1491.7,1166.5 1492.3,1163.4 1492.9,1166.7 1493.5,1168.1 1494.1,1168.5 1494.7,1168.7 1495.3,1167.3 1495.9,1164.7 1496.5,1163.2 1497.1,1163.4 1497.7,1161.9 1498.3,1166.2 1498.9,1166.4 1499.5,1167.0 1500.1,1167.9 1500.7,1170.5 1501.3,1167.5 1501.9,1167.8 1502.5,1169.7 1503.1,1168.2 1503.7,1169.2 1504.3,1170.6 1504.9,1170.1 1505.5,1167.6 1506.1,1167.2 1506.7,1166.5 1507.3,1168.9 1507.9,1167.6 1508.5,1166.7 1509.1,1168.3 1509.7,1168.4 1510.3,1167.5 1510.9,1166.0 1511.5,1167.5 1512.1,1166.5 1512.7,1168.0 1513.3,1168.1 1513.9,1168.8 1514.5,1168.7 1515.1,1169.2 1515.7,1167.3 1516.3,1168.9 1516.9,1167.9 1517.5,1168.9 1518.1,1168.6 1518.7,1168.8 1519.3,1169.0 1519.9,1166.2 1520.5,1166.6 1521.1,1166.6 1521.7,1166.2 1522.3,1164.8 1522.9,1164.3 1523.5,1164.4 1524.1,1161.0 1524.7,1161.4 1525.3,1161.8 1525.9,1163.0 1526.5,1165.0 1527.1,1164.1 1527.7,1164.4 1528.3,1164.1 1528.9,1165.2 1529.5,1165.1 1530.1,1168.0 1530.7,1167.4 1531.3,1167.6 1531.9,1168.5 1532.5,1165.5 1533.1,1164.6 1533.7,1165.6 1534.3,1166.8 1534.9,1164.7 1535.5,1164.9 1536.1,1164.4 1536.7,1161.5 1537.3,1161.6 1537.9,1160.8 1538.5,1163.5 1539.1,1162.7 1539.7,1162.8 1540.3,1161.8 1540.9,1163.4 1541.5,1164.7 1542.1,1165.1 1542.7,1165.9 1543.3,1165.0 1543.9,1166.1 1544.5,1166.0 1545.1,1167.0 1545.7,1163.7 1546.3,1163.2 1546.9,1164.0 1547.5,1162.3 1548.1,1165.5 1548.7,1165.6 1549.3,1165.8 1549.9,1169.5 1550.5,1170.4 1551.1,1168.3 1551.7,1170.3 1552.3,1168.0 1552.9,1169.9 1553.5,1169.2 1554.1,1166.1 1554.7,1165.8 1555.3,1166.6 1555.9,1166.2 1556.5,1167.3 1557.1,1165.7 1557.7,1167.4 1558.3,1164.4 1558.9,1166.7 1559.5,1169.0 1560.1,1167.8 1560.7,1164.3 1561.3,1163.3 1561.9,1161.2 1562.5,1159.8 1563.1,1159.6 1563.7,1159.9 1564.3,1156.2 1564.9,1153.4 1565.5,1148.6 1566.1,1145.0 1566.7,1139.9 1567.3,1133.7 1567.9,1125.9 1568.5,1116.6 1569.1,1108.0 1569.7,1106.8 1570.3,1106.0 1570.9,1110.3 1571.5,1120.2 1572.1,1127.7 1572.7,1135.8 1573.3,1142.3 1573.9,1147.9 1574.5,1154.0 1575.1,1158.9 1575.7,1164.2 1576.3,1163.5 1576.9,1163.1 1577.5,1164.2 1578.1,1164.8 1578.7,1165.9 1579.3,1168.0 1579.9,1169.8 1580.5,1165.2 1581.1,1162.8 1581.7,1162.3 1582.3,1161.4 1582.9,1159.9 1583.5,1157.8 1584.1,1158.7 1584.7,1158.0 1585.3,1160.2 1585.9,1162.1 1586.5,1163.4 1587.1,1164.6 1587.7,1166.0 1588.3,1165.3 1588.9,1163.2 1589.5,1160.1 1590.1,1158.1 1590.7,1159.8 1591.3,1161.4 1591.9,1164.0 1592.5,1161.6 1593.1,1163.6 1593.7,1164.4 1594.3,1164.3 1594.9,1161.7 1595.5,1161.9 1596.1,1160.1 1596.7,1157.6 1597.3,1156.8 1597.9,1157.8 1598.5,1158.2 1599.1,1157.4 1599.7,1156.2 1600.3,1157.9 1600.9,1158.8 1601.5,1162.9 1602.1,1161.3 1602.7,1159.9 1603.3,1160.3 1603.9,1159.9 1604.5,1157.8 1605.1,1155.8 1605.7,1154.0 1606.3,1147.9 1606.9,1146.3 1607.5,1137.7 1608.1,1126.5 1608.7,1107.0 1609.3,1075.2 1609.9,1033.8 1610.5,975.1 1611.1,898.1 1611.7,818.9 1612.3,752.8 1612.9,722.5 1613.5,739.3 1614.1,797.5 1614.7,870.0 1615.3,944.0 1615.9,1008.5 1616.5,1055.4 1617.1,1089.9 1617.7,1113.7 1618.3,1128.8 1618.9,1135.8 1619.5,1140.8 1620.1,1145.5 1620.7,1148.0 1621.3,1150.2 1621.9,1151.2 1622.5,1152.7 1623.1,1153.1 1623.7,1156.1 1624.3,1154.5 1624.9,1155.6 1625.5,1156.1 1626.1,1151.8 1626.7,1149.6 1627.3,1147.1 1627.9,1143.4 1628.5,1143.7 1629.1,1146.5 1629.7,1150.8 1630.3,1154.0 1630.9,1153.6 1631.5,1154.5 1632.1,1150.5 1632.7,1150.9 1633.3,1149.5 1633.9,1154.5 1634.5,1153.6 1635.1,1154.7 1635.7,1153.8 1636.3,1159.3 1636.9,1160.2 1637.5,1162.1 1638.1,1160.9 1638.7,1160.3 1639.3,1158.2 1639.9,1159.3 1640.5,1156.6 1641.1,1157.4 1641.7,1156.9 1642.3,1157.5 1642.9,1157.9 1643.5,1157.7 1644.1,1156.3 1644.7,1152.8 1645.3,1152.3 1645.9,1150.3 1646.5,1152.2 1647.1,1152.6 1647.7,1150.1 1648.3,1145.2 1648.9,1133.1 1649.5,1119.0 1650.1,1093.5 1650.7,1059.3 1651.3,1016.5 1651.9,968.2 1652.5,923.1 1653.1,889.7 1653.7,882.1 1654.3,905.4 1654.9,950.7 1655.5,998.9 1656.1,1045.1 1656.7,1083.3 1657.3,1111.9 1657.9,1129.6 1658.5,1141.4 1659.1,1151.1 1659.7,1152.1 1660.3,1157.6 1660.9,1158.8 1661.5,1163.1 1662.1,1163.7 1662.7,1164.5 1663.3,1159.7 1663.9,1156.4 1664.5,1151.9 1665.1,1150.5 1665.7,1150.3 1666.3,1151.4 1666.9,1153.6 1667.5,1153.5 1668.1,1153.6 1668.7,1155.7 1669.3,1159.1 1669.9,1159.0 1670.5,1159.1 1671.1,1160.5 1671.7,1158.2 1672.3,1158.6 1672.9,1160.3 1673.5,1158.1 1674.1,1161.3 1674.7,1160.3 1675.3,1161.9 1675.9,1165.6 1676.5,1163.9 1677.1,1162.6 1677.7,1163.7 1678.3,1161.9 1678.9,1162.1 1679.5,1163.9 1680.1,1164.6 1680.7,1167.0 1681.3,1167.2 1681.9,1168.3 1682.5,1169.9 1683.1,1167.2 1683.7,1167.0 1684.3,1166.1 1684.9,1164.6 1685.5,1166.8 1686.1,1168.2 1686.7,1167.3 1687.3,1166.2 1687.9,1165.0 1688.5,1165.9 1689.1,1165.8 1689.7,1166.8 1690.3,1170.3 1690.9,1167.1 1691.5,1169.1 1692.1,1166.8 1692.7,1167.8 1693.3,1169.7 1693.9,1168.3 1694.5,1167.7 1695.1,1169.3 1695.7,1169.1 1696.3,1169.5 1696.9,1170.3 1697.5,1171.0 1698.1,1169.4 1698.7,1170.5 1699.3,1169.6 1699.9,1166.9 1700.5,1165.3 1701.1,1162.9 1701.7,1162.7 1702.3,1164.4 1702.9,1166.2 1703.5,1168.4 1704.1,1169.2 1704.7,1167.4 1705.3,1168.3 1705.9,1165.7 1706.5,1163.6 1707.1,1162.2 1707.7,1159.9 1708.3,1159.1 1708.9,1160.2 1709.5,1162.7 1710.1,1162.8 1710.7,1165.6 1711.3,1165.1 1711.9,1165.2 1712.5,1165.1 1713.1,1164.0 1713.7,1162.0 1714.3,1162.4 1714.9,1164.6 1715.5,1163.1 1716.1,1163.7 1716.7,1164.2 1717.3,1165.2 1717.9,1165.0 1718.5,1165.2 1719.1,1162.3 1719.7,1160.7 1720.3,1161.2 1720.9,1160.6 1721.5,1160.3 1722.1,1162.2 1722.7,1164.8 1723.3,1165.5 1723.9,1163.2 1724.5,1163.1 1725.1,1161.0 1725.7,1161.2 1726.3,1161.9 1726.9,1166.2 1727.5,1167.3 1728.1,1167.5 1728.7,1168.1 1729.3,1167.8 1729.9,1162.8 1730.5,1164.6 1731.1,1164.4 1731.7,1162.4 1732.3,1159.4 1732.9,1156.3 1733.5,1156.8 1734.1,1153.0 1734.7,1148.1 1735.3,1143.3 1735.9,1130.7 1736.5,1115.8 1737.1,1101.6 1737.7,1091.6 1738.3,1092.4 1738.9,1106.3 1739.5,1123.5 1740.1,1138.8 1740.7,1153.6 1741.3,1159.7 1741.9,1163.8 1742.5,1163.6 1743.1,1164.9 1743.7,1165.4 1744.3,1164.2 1744.9,1166.2 1745.5,1165.6 1746.1,1168.0 1746.7,1167.6 1747.3,1168.4 1747.9,1166.2 1748.5,1163.6 1749.1,1163.7 1749.7,1165.8 1750.3,1168.4 1750.9,1165.9 1751.5,1167.2 1752.1,1167.6 1752.7,1167.1 1753.3,1166.6 1753.9,1166.7 1754.5,1168.4 1755.1,1168.2 1755.7,1168.1 1756.3,1168.8 1756.9,1170.7 1757.5,1169.9 1758.1,1167.9 1758.7,1165.1 1759.3,1163.4 1759.9,1166.3 1760.5,1167.0 1761.1,1167.8 1761.7,1171.0 1762.3,1169.1 1762.9,1169.1 1763.5,1167.2 1764.1,1166.6 1764.7,1166.7 1765.3,1164.3 1765.9,1166.3 1766.5,1166.1 1767.1,1166.2 1767.7,1166.4 1768.3,1168.9 1768.9,1165.6 1769.5,1164.9 1770.1,1164.8 1770.7,1165.0 1771.3,1162.0 1771.9,1164.9 1772.5,1165.5 1773.1,1165.1 1773.7,1165.6 1774.3,1162.9 1774.9,1164.5 1775.5,1162.7 1776.1,1163.3 1776.7,1162.3 1777.3,1159.7 1777.9,1160.7 1778.5,1159.6 1779.1,1162.3 1779.7,1161.9 1780.3,1165.0 1780.9,1163.6 1781.5,1162.2 1782.1,1164.8 1782.7,1167.1 1783.3,1166.3 1783.9,1164.8 1784.5,1162.0 1785.1,1160.5 1785.7,1163.4 1786.3,1164.1 1786.9,1164.5 1787.5,1166.1 1788.1,1167.1 1788.7,1164.7 1789.3,1168.4 1789.9,1168.5 1790.5,1166.9 1791.1,1167.7 1791.7,1167.8 1792.3,1166.6 1792.9,1165.9 1793.5,1166.5 1794.1,1166.9 1794.7,1168.6 1795.3,1169.3 1795.9,1168.9 1796.5,1168.3 1797.1,1169.4 1797.7,1167.4 1798.3,1165.2 1798.9,1168.8 1799.5,1165.9 1800.1,1165.5 1800.7,1166.2 1801.3,1169.8 1801.9,1167.4 1802.5,1168.5 1803.1,1170.0 1803.7,1168.7 1804.3,1167.5 1804.9,1167.1 1805.5,1166.7 1806.1,1166.0 1806.7,1164.1 1807.3,1165.3 1807.9,1165.6 1808.5,1164.6 1809.1,1166.1 1809.7,1166.0 1810.3,1165.9 1810.9,1168.3 1811.5,1169.7 1812.1,1169.9 1812.7,1170.2 1813.3,1167.7 1813.9,1165.5 1814.5,1162.9 1815.1,1163.0 1815.7,1163.6 1816.3,1161.8 1816.9,1163.1 1817.5,1161.2 1818.1,1161.2 1818.7,1163.5 1819.3,1161.8 1819.9,1164.6 1820.5,1162.6 1821.1,1163.8 1821.7,1161.6 1822.3,1161.5 1822.9,1159.1 1823.5,1161.7 1824.1,1159.7 1824.7,1161.0 1825.3,1161.3 1825.9,1163.9 1826.5,1163.8 1827.1,1165.3 1827.7,1165.0 1828.3,1163.9 1828.9,1162.7 1829.5,1161.2 1830.1,1161.5 1830.7,1164.8 1831.3,1166.7 1831.9,1166.4 1832.5,1166.9 1833.1,1167.9 1833.7,1166.7 1834.3,1165.3 1834.9,1164.8 1835.5,1164.0 1836.1,1160.3 1836.7,1160.9 1837.3,1164.7 1837.9,1165.4 1838.5,1167.4 1839.1,1167.4 1839.7,1167.3 1840.3,1167.1 1840.9,1166.0 1841.5,1163.7 1842.1,1165.5 1842.7,1167.5 1843.3,1165.2 1843.9,1167.4 1844.5,1165.5 1845.1,1166.3 1845.7,1163.0 1846.3,1161.6 1846.9,1162.8 1847.5,1161.9 1848.1,1164.1 1848.7,1164.1 1849.3,1165.9 1849.9,1168.4 1850.5,1169.3 1851.1,1167.4 1851.7,1165.9 1852.3,1163.8 1852.9,1164.6 1853.5,1165.1 1854.1,1168.5 1854.7,1166.1 1855.3,1165.5 1855.9,1161.8 1856.5,1159.9 1857.1,1160.8 1857.7,1163.8 1858.3,1164.2 1858.9,1164.9 1859.5,1163.6 1860.1,1160.8 1860.7,1160.8 1861.3,1161.8 1861.9,1161.8 1862.5,1162.6 1863.1,1164.6 1863.7,1163.9 1864.3,1165.1 1864.9,1168.3 1865.5,1168.7 1866.1,1169.4 1866.7,1166.4 1867.3,1167.3 1867.9,1165.2 1868.5,1166.0 1869.1,1167.2 1869.7,1166.6 1870.3,1167.0 1870.9,1170.0 1871.5,1169.9 1872.1,1169.8 1872.7,1170.8 1873.3,1169.4 1873.9,1169.6 1874.5,1170.0 1875.1,1167.4 1875.7,1163.6 1876.3,1165.2 1876.9,1164.0 1877.5,1165.7 1878.1,1163.3 1878.7,1165.4 1879.3,1166.2 1879.9,1167.7 1880.5,1166.3 1881.1,1165.6 1881.7,1161.7 1882.3,1159.2 1882.9,1157.3 1883.5,1157.2 1884.1,1152.5 1884.7,1147.7 1885.3,1139.7 1885.9,1133.1 1886.5,1126.6 1887.1,1120.1 1887.7,1114.2 1888.3,1111.6 1888.9,1110.6 1889.5,1112.8 1890.1,1118.0 1890.7,1122.0 1891.3,1132.6 1891.9,1138.2 1892.5,1140.9 1893.1,1147.8 1893.7,1151.1 1894.3,1153.2 1894.9,1156.6 1895.5,1155.1 1896.1,1155.0 1896.7,1159.5 1897.3,1158.2 1897.9,1161.9 1898.5,1167.0 1899.1,1168.0 1899.7,1167.8 1900.3,1169.9 1900.9,1169.3 1901.5,1167.1 1902.1,1167.5 1902.7,1163.8 1903.3,1163.6 1903.9,1163.9 1904.5,1163.9 1905.1,1162.1 1905.7,1163.2 1906.3,1163.0 1906.9,1165.5 1907.5,1169.2 1908.1,1169.3 1908.7,1170.6 1909.3,1170.7 1909.9,1170.3 1910.5,1171.6 1911.1,1172.6 1911.7,1172.5 1912.3,1171.9 1912.9,1172.4 1913.5,1169.8 1914.1,1170.7 1914.7,1168.9 1915.3,1166.4 1915.9,1164.9 1916.5,1162.2 1917.1,1163.1 1917.7,1161.9 1918.3,1164.1 1918.9,1163.8 1919.5,1166.0 1920.1,1164.7 1920.7,1166.2 1921.3,1164.7 1921.9,1165.9 1922.5,1165.5 1923.1,1166.3 1923.7,1166.0 1924.3,1165.7 1924.9,1166.5 1925.5,1164.8 1926.1,1165.0 1926.7,1166.3 1927.3,1165.6 1927.9,1168.0 1928.5,1166.2 1929.1,1168.4 1929.7,1167.2 1930.3,1167.5 1930.9,1162.7 1931.5,1161.1 1932.1,1161.4 1932.7,1159.3 1933.3,1160.2 1933.9,1160.7 1934.5,1159.7 1935.1,1160.8 1935.7,1159.7 1936.3,1164.0 1936.9,1161.3 1937.5,1161.2 1938.1,1160.4 1938.7,1160.2 1939.3,1160.3 1939.9,1160.6 1940.5,1161.5 1941.1,1162.2 1941.7,1163.8 1942.3,1166.1 1942.9,1170.7 1943.5,1171.4 1944.1,1168.7 1944.7,1168.5 1945.3,1164.0 1945.9,1163.7 1946.5,1161.8 1947.1,1160.6 1947.7,1162.8 1948.3,1163.1 1948.9,1165.5 1949.5,1165.7 1950.1,1168.6 1950.7,1167.1 1951.3,1169.1 1951.9,1171.2 1952.5,1171.8 1953.1,1173.9 1953.7,1173.4 1954.3,1172.6 1954.9,1169.7 1955.5,1167.8 1956.1,1167.4 1956.7,1165.5 1957.3,1167.8 1957.9,1165.1 1958.5,1169.3 1959.1,1167.9 1959.7,1166.6 1960.3,1168.7 1960.9,1166.5 1961.5,1168.2"/>
<polyline stroke="#ff0000" points="144.7,1016.9 145.3,1017.9 145.9,1018.3 146.5,1018.2 147.1,1019.0 147.7,1019.3 148.3,1020.5 148.9,1019.5 149.5,1022.5 150.1,1022.0 150.7,1021.8 151.3,1021.3 151.9,1020.4 152.5,1019.5 153.1,1021.8 153.7,1023.1 154.3,1021.9 154.9,1020.2 155.5,1021.9 156.1,1019.8 156.7,1017.4 157.3,1017.6 157.9,1020.3 158.5,1018.5 159.1,1020.6 159.7,1021.5 160.3,1023.0 160.9,1020.7 161.5,1018.3 162.1,1017.6 162.7,1016.9 163.3,1014.9 163.9,1009.5 164.5,1007.3 165.1,1002.7 165.7,996.7 166.3,995.5 166.9,995.0 167.5,998.8 168.1,1002.4 168.7,1007.6 169.3,1010.0 169.9,1013.9 170.5,1015.3 171.1,1015.3 171.7,1012.6 172.3,1012.2 172.9,1010.1 173.5,1010.4 174.1,1009.4 174.7,1014.6 175.3,1018.5 175.9,1019.5 176.5,1020.9 177.1,1021.1 177.7,1019.6 178.3,1019.9 178.9,1020.6 179.5,1019.6 180.1,1021.8 180.7,1019.5 181.3,1020.4 181.9,1018.0 182.5,1019.3 183.1,1015.3 183.7,1012.9 184.3,1012.3 184.9,1014.4 185.5,1016.8 186.1,1015.5 186.7,1014.8 187.3,1017.7 187.9,1015.1 188.5,1014.7 189.1,1015.6 189.7,1018.6 190.3,1017.7 190.9,1018.5 191.5,1019.9 192.1,1019.9 192.7,1020.5 193.3,1021.4 193.9,1018.2 194.5,1019.8 195.1,1016.1 195.7,1019.3 196.3,1016.6 196.9,1018.9 197.5,1018.0 198.1,1019.4 198.7,1022.5 199.3,1021.4 199.9,1022.6 200.5,1021.1 201.1,1020.0 201.7,1020.6 202.3,1021.0 202.9,1021.0 203.5,1018.9 204.1,1020.5 204.7,1021.3 205.3,1022.1 205.9,1023.0 206.5,1022.5 207.1,1022.4 207.7,1018.8 208.3,1019.2 208.9,1019.7 209.5,1019.4 210.1,1017.6 210.7,1017.7 211.3,1018.0 211.9,1017.6 212.5,1017.1 213.1,1015.6 213.7,1016.9 214.3,1019.2 214.9,1017.9 215.5,1020.8 216.1,1017.8 216.7,1013.8 217.3,1013.1 217.9,1015.9 218.5,1015.6 219.1,1017.6 219.7,1016.9 220.3,1017.6 220.9,1015.7 221.5,1015.7 222.1,1016.1 222.7,1019.0 223.3,1020.1 223.9,1021.0 224.5,1021.9 225.1,1018.9 225.7,1019.8 226.3,1022.0 226.9,1018.9 227.5,1019.8 228.1,1016.8 228.7,1016.8 229.3,1016.7 229.9,1016.8 230.5,1017.9 231.1,1017.5 231.7,1018.9 232.3,1017.7 232.9,1020.3 233.5,1020.5 234.1,1019.8 234.7,1020.7 235.3,1019.8 235.9,1015.4 236.5,1018.5 237.1,1016.9 237.7,1014.7 238.3,1014.7 238.9,1016.6 239.5,1019.8 240.1,1020.4 240.7,1023.5 241.3,1025.0 241.9,1024.6 242.5,1022.8 243.1,1021.5 243.7,1021.7 244.3,1021.0 244.9,1019.7 245.5,1022.3 246.1,1017.1 246.7,1018.0 247.3,1014.9 247.9,1012.1 248.5,1011.9 249.1,1010.6 249.7,1010.3 250.3,1012.5 250.9,1011.8 251.5,1012.2 252.1,1012.8 252.7,1016.3 253.3,1019.2 253.9,1021.5 254.5,1022.0 255.1,1021.1 255.7,1022.7 256.3,1020.0 256.9,1020.1 257.5,1019.6 258.1,1020.5 258.7,1019.5 259.3,1018.3 259.9,1021.0 260.5,1019.3 261.1,1022.1 261.7,1023.5 262.3,1022.0 262.9,1021.9 263.5,1018.2 264.1,1015.7 264.7,1016.2 265.3,1018.5 265.9,1022.0 266.5,1021.8 267.1,1022.7 267.7,1024.7 268.3,1025.4 268.9,1025.7 269.5,1022.8 270.1,1019.3 270.7,1016.4 271.3,1014.2 271.9,1014.3 272.5,1016.0 273.1,1017.7 273.7,1018.6 274.3,1017.5 274.9,1018.6 275.5,1017.8 276.1,1018.4 276.7,1016.6 277.3,1017.3 277.9,1016.9 278.5,1016.2 279.1,1015.8 279.7,1015.5 280.3,1015.5 280.9,1016.4 281.5,1019.0 282.1,1021.6 282.7,1020.5 283.3,1016.4 283.9,1017.3 284.5,1016.9 285.1,1018.7 285.7,1021.6 286.3,1024.4 286.9,1024.8 287.5,1025.1 288.1,1022.8 288.7,1018.9 289.3,1016.6 289.9,1018.5 290.5,1015.6 291.1,1018.3 291.7,1016.3 292.3,1014.7 292.9,1015.3 293.5,1015.9 294.1,1017.4 294.7,1019.1 295.3,1017.6 295.9,1017.3 296.5,1020.7 297.1,1020.6 297.7,1019.4 298.3,1017.7 298.9,1016.7 299.5,1015.1 300.1,1017.0 300.7,1015.7 301.3,1019.2 301.9,1020.7 302.5,1020.1 303.1,1019.6 303.7,1020.0 304.3,1019.8 304.9,1021.0 305.5,1021.2 306.1,1019.9 306.7,1018.8 307.3,1016.5 307.9,1014.8 308.5,1016.1 309.1,1013.2 309.7,1017.7 310.3,1016.8 310.9,1016.2 311.5,1016.0 312.1,1013.9 312.7,1014.0 313.3,1015.0 313.9,1015.4 314.5,1016.4 315.1,1017.2 315.7,1019.7 316.3,1019.3 316.9,1020.1 317.5,1020.7 318.1,1020.6 318.7,1019.2 319.3,1020.6 319.9,1023.6 320.5,1022.7 321.1,1022.3 321.7,1020.9 322.3,1020.4 322.9,1018.5 323.5,1019.2 324.1,1019.1 324.7,1020.5 325.3,1021.4 325.9,1022.3 326.5,1021.0 327.1,1022.0 327.7,1021.4 328.3,1020.2 328.9,1018.2 329.5,1020.7 330.1,1020.9 330.7,1022.5 331.3,1019.4 331.9,1018.5 332.5,1018.6 333.1,1014.4 333.7,1016.1 334.3,1015.6 334.9,1014.1 335.5,1014.4 336.1,1015.5 336.7,1015.6 337.3,1015.7 337.9,1015.3 338.5,1015.9 339.1,1017.0 339.7,1015.7 340.3,1017.8 340.9,1017.1 341.5,1017.5 342.1,1019.6 342.7,1021.7 343.3,1023.8 343.9,1022.2 344.5,1019.9 345.1,1017.5 345.7,1015.0 346.3,1016.9 346.9,1015.4 347.5,1015.1 348.1,1015.8 348.7,1015.9 349.3,1019.8 349.9,1017.5 350.5,1017.8 351.1,1019.1 351.7,1020.2 352.3,1021.2 352.9,1021.3 353.5,1020.5 354.1,1019.1 354.7,1021.1 355.3,1020.2 355.9,1018.5 356.5,1018.8 357.1,1017.8 357.7,1018.5 358.3,1018.9 358.9,1019.5 359.5,1024.0 360.1,1023.8 360.7,1022.3 361.3,1021.1 361.9,1019.8 362.5,1019.4 363.1,1022.7 363.7,1023.8 364.3,1022.4 364.9,1022.6 365.5,1022.3 366.1,1020.1 366.7,1019.0 367.3,1018.5 367.9,1019.1 368.5,1020.3 369.1,1019.6 369.7,1022.7 370.3,1022.7 370.9,1022.1 371.5,1021.3 372.1,1021.2 372.7,1020.5 373.3,1021.1 373.9,1019.5 374.5,1018.9 375.1,1019.0 375.7,1019.6 376.3,1019.7 376.9,1017.3 377.5,1018.3 378.1,1015.9 378.7,1014.5 379.3,1017.8 379.9,1015.7 380.5,1018.1 381.1,1020.6 381.7,1019.7 382.3,1019.6 382.9,1019.5 383.5,1018.8 384.1,1019.3 384.7,1018.4 385.3,1015.4 385.9,1015.8 386.5,1017.0 387.1,1018.7 387.7,1016.9 388.3,1016.4 388.9,1014.0 389.5,1011.1 390.1,1011.8 390.7,1013.2 391.3,1015.4 391.9,1015.7 392.5,1017.7 393.1,1019.5 393.7,1019.7 394.3,1018.6 394.9,1020.5 395.5,1021.1 396.1,1019.9 396.7,1020.3 397.3,1020.3 397.9,1020.1 398.5,1020.0 399.1,1018.7 399.7,1018.8 400.3,1016.4 400.9,1015.5 401.5,1014.8 402.1,1015.0 402.7,1015.6 403.3,1016.6 403.9,1015.1 404.5,1017.3 405.1,1017.2 405.7,1017.4 406.3,1017.9 406.9,1016.1 407.5,1015.4 408.1,1016.5 408.7,1015.4 409.3,1015.8 409.9,1019.1 410.5,1020.2 411.1,1021.1 411.7,1022.6 412.3,1022.1 412.9,1023.5 413.5,1022.3 414.1,1022.2 414.7,1020.8 415.3,1020.1 415.9,1019.6 416.5,1020.2 417.1,1021.0 417.7,1022.3 418.3,1021.5 418.9,1022.1 419.5,1021.2 420.1,1020.3 420.7,1021.3 421.3,1023.9 421.9,1026.9 422.5,1025.7 423.1,1023.3 423.7,1022.2 424.3,1019.9 424.9,1017.6 425.5,1016.6 426.1,1017.8 426.7,1018.0 427.3,1019.4 427.9,1017.9 428.5,1016.6 429.1,1017.0 429.7,1017.6 430.3,1017.7 430.9,1017.2 431.5,1016.7 432.1,1017.5 432.7,1020.8 433.3,1018.6 433.9,1014.8 434.5,1013.3 435.1,1008.4 435.7,1002.1 436.3,996.5 436.9,991.6 437.5,985.7 438.1,989.8 438.7,992.4 439.3,999.4 439.9,1004.2 440.5,1008.5 441.1,1008.4 441.7,1011.0 442.3,1012.3 442.9,1013.6 443.5,1014.5 444.1,1015.3 444.7,1013.9 445.3,1011.4 445.9,1010.5 446.5,1010.8 447.1,1009.4 447.7,1012.4 448.3,1014.7 448.9,1014.5 449.5,1017.9 450.1,1020.9 450.7,1020.2 451.3,1021.5 451.9,1021.9 452.5,1022.3 453.1,1023.4 453.7,1021.4 454.3,1018.0 454.9,1018.9 455.5,1019.0 456.1,1020.0 456.7,1020.3 457.3,1018.4 457.9,1017.3 458.5,1016.4 459.1,1015.9 459.7,1016.2 460.3,1014.5 460.9,1014.1 461.5,1015.8 462.1,1019.2 462.7,1019.2 463.3,1019.4 463.9,1019.3 464.5,1020.2 465.1,1020.5 465.7,1021.4 466.3,1023.2 466.9,1024.4 467.5,1024.5 468.1,1025.8 468.7,1026.0 469.3,1021.6 469.9,1017.4 470.5,1014.5 471.1,1015.5 471.7,1014.8 472.3,1018.4 472.9,1023.4 473.5,1023.4 474.1,1022.4 474.7,1021.9 475.3,1023.9 475.9,1020.4 476.5,1018.8 477.1,1016.9 477.7,1015.6 478.3,1015.4 478.9,1018.5 479.5,1020.1 480.1,1021.8 480.7,1019.7 481.3,1019.1 481.9,1019.0 482.5,1018.2 483.1,1018.6 483.7,1018.4 484.3,1016.6 484.9,1012.9 485.5,1013.3 486.1,1013.4 486.7,1011.9 487.3,1015.8 487.9,1014.8 488.5,1014.3 489.1,1013.8 489.7,1011.0 490.3,1009.3 490.9,1007.1 491.5,1008.8 492.1,1005.4 492.7,1006.1 493.3,1007.2 493.9,1009.7 494.5,1010.0 495.1,1012.1 495.7,1014.1 496.3,1011.0 496.9,1013.7 497.5,1014.7 498.1,1013.9 498.7,1014.9 499.3,1012.7 499.9,1008.7 500.5,1009.3 501.1,1007.8 501.7,1009.6 502.3,1007.7 502.9,1008.2 503.5,1006.7 504.1,1006.4 504.7,1004.1 505.3,1001.6 505.9,997.1 506.5,987.4 507.1,968.1 507.7,931.4 508.3,845.8 508.9,674.2 509.5,371.0 510.1,30.0 510.7,30.0 511.3,30.0 511.9,30.0 512.5,30.0 513.1,30.0 513.7,30.0 514.3,237.0 514.9,590.0 515.5,803.5 516.1,916.8 516.7,965.0 517.3,987.2 517.9,994.8 518.5,1000.1 519.1,1003.8 519.7,1006.4 520.3,1005.6 520.9,1007.1 521.5,1009.7 522.1,1009.8 522.7,1011.1 523.3,1011.7 523.9,1012.3 524.5,1011.1 525.1,1013.2 525.7,1011.9 526.3,1010.8 526.9,1010.2 527.5,1008.6 528.1,1010.8 528.7,1010.2 529.3,1014.1 529.9,1014.4 530.5,1015.3 531.1,1015.5 531.7,1015.1 532.3,1016.4 532.9,1014.2 533.5,1012.7 534.1,1008.3 534.7,1002.1 535.3,995.5 535.9,993.0 536.5,993.1 537.1,998.2 537.7,1001.0 538.3,1005.7 538.9,1007.9 539.5,1008.9 540.1,1012.2 540.7,1013.3 541.3,1012.8 541.9,1010.1 542.5,1008.7 543.1,1007.4 543.7,1011.0 544.3,1010.7 544.9,1010.1 545.5,1011.5 546.1,1012.4 546.7,1010.5 547.3,1008.1 547.9,1008.6 548.5,1005.5 549.1,1000.0 549.7,995.0 550.3,988.6 550.9,973.0 551.5,961.3 552.1,946.3 552.7,940.7 553.3,946.9 553.9,963.1 554.5,977.2 555.1,993.0 555.7,1005.7 556.3,1010.0 556.9,1013.6 557.5,1014.2 558.1,1016.4 558.7,1016.5 559.3,1014.6 559.9,1013.4 560.5,1013.9 561.1,1014.4 561.7,1013.8 562.3,1013.4 562.9,1013.1 563.5,1011.9 564.1,1012.7 564.7,1009.5 565.3,1008.5 565.9,1009.8 566.5,1007.1 567.1,1008.2 567.7,1006.6 568.3,1001.4 568.9,998.3 569.5,987.5 570.1,979.6 570.7,965.4 571.3,949.2 571.9,933.5 572.5,918.3 573.1,910.9 573.7,910.7 574.3,918.9 574.9,932.0 575.5,942.2 576.1,952.0 576.7,956.8 577.3,960.9 577.9,960.6 578.5,961.0 579.1,947.5 579.7,899.3 580.3,763.2 580.9,447.2 581.5,30.0 582.1,30.0 582.7,30.0 583.3,30.0 583.9,30.0 584.5,30.0 585.1,468.6 585.7,788.2 586.3,932.9 586.9,988.1 587.5,1004.5 588.1,1009.7 588.7,1007.0 589.3,1002.8 589.9,1002.2 590.5,1000.9 591.1,1003.3 591.7,1008.9 592.3,1008.0 592.9,1010.1 593.5,1010.5 594.1,1011.3 594.7,1010.1 595.3,1011.1 595.9,1010.6 596.5,1010.7 597.1,1007.8 597.7,1003.3 598.3,1001.9 598.9,1000.5 599.5,999.4 600.1,1002.2 600.7,1003.1 601.3,1002.3 601.9,1001.7 602.5,1002.7 603.1,1001.4 603.7,999.6 604.3,998.8 604.9,996.1 605.5,995.9 606.1,995.8 606.7,997.1 607.3,999.7 607.9,999.9 608.5,1002.3 609.1,1001.1 609.7,1001.3 610.3,999.7 610.9,998.7 611.5,996.1 612.1,993.3 612.7,986.0 613.3,977.6 613.9,963.1 614.5,942.7 615.1,919.1 615.7,894.8 616.3,879.9 616.9,880.4 617.5,895.3 618.1,919.7 618.7,942.2 619.3,958.1 619.9,970.7 620.5,978.4 621.1,982.2 621.7,984.5 622.3,985.5 622.9,986.5 623.5,988.8 624.1,989.1 624.7,992.2 625.3,994.1 625.9,997.4 626.5,998.6 627.1,1002.3 627.7,1001.5 628.3,1001.3 628.9,999.7 629.5,999.3 630.1,1000.1 630.7,1003.2 631.3,1004.8 631.9,1002.6 632.5,1000.9 633.1,996.5 633.7,994.4 634.3,993.7 634.9,993.0 635.5,991.2 636.1,989.7 636.7,985.8 637.3,984.3 637.9,981.3 638.5,977.6 639.1,976.1 639.7,971.3 640.3,961.5 640.9,935.3 641.5,875.7 642.1,759.4 642.7,550.4 643.3,221.8 643.9,30.0 644.5,30.0 645.1,30.0 645.7,30.0 646.3,30.0 646.9,30.0 647.5,30.0 648.1,30.0 648.7,30.0 649.3,78.2 649.9,451.5 650.5,698.2 651.1,841.4 651.7,916.2 652.3,952.4 652.9,969.5 653.5,981.2 654.1,986.9 654.7,988.0 655.3,988.7 655.9,987.1 656.5,987.7 657.1,989.1 657.7,989.8 658.3,991.5 658.9,994.4 659.5,996.6 660.1,997.9 660.7,997.3 661.3,995.5 661.9,991.4 662.5,990.9 663.1,992.4 663.7,995.0 664.3,997.4 664.9,999.6 665.5,1001.7 666.1,1001.9 666.7,999.6 667.3,999.2 667.9,1000.6 668.5,999.7 669.1,995.5 669.7,991.3 670.3,977.1 670.9,959.0 671.5,935.5 672.1,905.8 672.7,883.6 673.3,866.9 673.9,868.2 674.5,882.8 675.1,907.1 675.7,931.1 676.3,952.5 676.9,970.6 677.5,980.3 678.1,988.4 678.7,991.8 679.3,996.2 679.9,999.9 680.5,1002.6 681.1,1004.0 681.7,1003.2 682.3,1004.8 682.9,1004.4 683.5,1006.2 684.1,1010.1 684.7,1010.2 685.3,1011.5 685.9,1013.3 686.5,1012.0 687.1,1013.2 687.7,1012.2 688.3,1013.4 688.9,1013.1 689.5,1016.5 690.1,1018.2 690.7,1017.0 691.3,1015.8 691.9,1013.8 692.5,1011.4 693.1,1011.2 693.7,1011.4 694.3,1011.7 694.9,1013.1 695.5,1017.9 696.1,1016.6 696.7,1016.4 697.3,1016.1 697.9,1014.4 698.5,1014.5 699.1,1014.7 699.7,1014.8 700.3,1013.5 700.9,1014.8 701.5,1013.4 702.1,1014.5 702.7,1008.5 703.3,1007.1 703.9,1000.0 704.5,996.1 705.1,992.0 705.7,995.4 706.3,998.2 706.9,1003.7 707.5,1007.3 708.1,1009.6 708.7,1013.1 709.3,1010.4 709.9,1010.7 710.5,1013.1 711.1,1014.1 711.7,1013.1 712.3,1016.1 712.9,1017.7 713.5,1018.7 714.1,1017.5 714.7,1016.6 715.3,1014.2 715.9,1015.3 716.5,1014.4 717.1,1016.2 717.7,1017.0 718.3,1016.5 718.9,1016.3 719.5,1016.2 720.1,1013.7 720.7,1011.5 721.3,1010.2 721.9,1012.0 722.5,1013.7 723.1,1016.3 723.7,1017.0 724.3,1015.4 724.9,1016.8 725.5,1016.9 726.1,1019.3 726.7,1015.6 727.3,1015.1 727.9,1016.8 728.5,1015.7 729.1,1018.7 729.7,1017.5 730.3,1020.1 730.9,1019.1 731.5,1022.3 732.1,1019.9 732.7,1019.5 733.3,1016.7 733.9,1015.6 734.5,1015.7 735.1,1012.9 735.7,1012.5 736.3,1015.5 736.9,1017.7 737.5,1020.4 738.1,1020.6 738.7,1021.4 739.3,1021.0 739.9,1018.5 740.5,1019.2 741.1,1019.4 741.7,1019.0 742.3,1019.5 742.9,1019.0 743.5,1018.6 744.1,1017.1 744.7,1016.0 745.3,1016.0 745.9,1014.1 746.5,1015.0 747.1,1012.1 747.7,1013.9 748.3,1014.0 748.9,1015.3 749.5,1015.3 750.1,1017.6 750.7,1016.9 751.3,1018.7 751.9,1015.2 752.5,1016.5 753.1,1016.3 753.7,1018.3 754.3,1022.0 754.9,1020.7 755.5,1021.9 756.1,1021.3 756.7,1020.5 757.3,1019.7 757.9,1022.8 758.5,1021.1 759.1,1021.2 759.7,1024.2 760.3,1022.1 760.9,1020.2 761.5,1019.9 762.1,1017.6 762.7,1019.2 763.3,1020.6 763.9,1023.2 764.5,1023.2 765.1,1023.4 765.7,1022.9 766.3,1023.2 766.9,1023.0 767.5,1019.6 768.1,1020.5 768.7,1019.8 769.3,1017.7 769.9,1016.4 770.5,1014.9 771.1,1013.7 771.7,1011.1 772.3,1007.0 772.9,1003.4 773.5,995.9 774.1,990.7 774.7,989.0 775.3,992.7 775.9,997.3 776.5,1005.3 777.1,1011.8 777.7,1015.3 778.3,1016.4 778.9,1016.3 779.5,1017.8 780.1,1016.9 780.7,1017.3 781.3,1017.6 781.9,1016.4 782.5,1016.4 783.1,1016.9 783.7,1019.9 784.3,1021.6 784.9,1019.0 785.5,1020.4 786.1,1018.1 786.7,1016.0 787.3,1015.9 787.9,1014.9 788.5,1017.0 789.1,1016.6 789.7,1015.8 790.3,1016.5 790.9,1017.2 791.5,1014.4 792.1,1014.9 792.7,1014.2 793.3,1015.2 793.9,1017.1 794.5,1016.0 795.1,1015.2 795.7,1012.1 796.3,1015.3 796.9,1015.0 797.5,1015.1 798.1,1018.3 798.7,1016.8 799.3,1018.7 799.9,1016.2 800.5,1015.0 801.1,1015.5 801.7,1017.1 802.3,1020.2 802.9,1021.9 803.5,1019.9 804.1,1017.3 804.7,1016.2 805.3,1016.5 805.9,1017.8 806.5,1020.0 807.1,1023.5 807.7,1021.8 808.3,1021.9 808.9,1019.9 809.5,1021.8 810.1,1020.7 810.7,1022.3 811.3,1020.8 811.9,1019.5 812.5,1019.4 813.1,1017.7 813.7,1017.9 814.3,1017.0 814.9,1016.1 815.5,1016.7 816.1,1018.9 816.7,1021.4 817.3,1023.5 817.9,1021.4 818.5,1022.9 819.1,1020.9 819.7,1017.9 820.3,1015.6 820.9,1016.1 821.5,1014.5 822.1,1016.1 822.7,1016.5 823.3,1016.7 823.9,1017.6 824.5,1019.0 825.1,1019.5 825.7,1019.4 826.3,1021.2 826.9,1022.3 827.5,1022.6 828.1,1023.7 828.7,1021.0 829.3,1023.0 829.9,1019.8 830.5,1021.1 831.1,1021.7 831.7,1019.6 832.3,1018.7 832.9,1016.6 833.5,1014.6 834.1,1013.6 834.7,1014.4 835.3,1014.6 835.9,1017.1 836.5,1018.3 837.1,1017.8 837.7,1017.0 838.3,1015.7 838.9,1018.7 839.5,1018.6 840.1,1018.2 840.7,1017.0 841.3,1014.3 841.9,1012.2 842.5,1013.2 843.1,1013.7 843.7,1016.4 844.3,1020.3 844.9,1019.9 845.5,1017.3 846.1,1014.1 846.7,1013.9 847.3,1015.1 847.9,1015.5 848.5,1015.2 849.1,1015.7 849.7,1015.9 850.3,1015.1 850.9,1015.3 851.5,1018.8 852.1,1020.0 852.7,1020.1 853.3,1019.9 853.9,1020.1 854.5,1018.2 855.1,1016.7 855.7,1018.0 856.3,1014.9 856.9,1017.4 857.5,1015.5 858.1,1009.7 858.7,1007.9 859.3,1005.3 859.9,1007.9 860.5,1013.4 861.1,1016.8 861.7,1017.6 862.3,1020.4 862.9,1019.4 863.5,1019.1 864.1,1015.7 864.7,1014.8 865.3,1013.6 865.9,1014.4 866.5,1015.7 867.1,1012.3 867.7,1013.0 868.3,1011.0 868.9,1011.3 869.5,1010.5 870.1,1010.3 870.7,1013.6 871.3,1013.7 871.9,1013.0 872.5,1012.8 873.1,1013.0 873.7,1011.8 874.3,1011.5 874.9,1011.2 875.5,1010.3 876.1,1009.5 876.7,1008.9 877.3,1011.0 877.9,1013.3 878.5,1012.6 879.1,1013.6 879.7,1014.5 880.3,1015.4 880.9,1016.8 881.5,1017.1 882.1,1015.2 882.7,1015.1 883.3,1012.6 883.9,1011.5 884.5,1011.3 885.1,1007.4 885.7,1011.1 886.3,1012.3 886.9,1014.3 887.5,1014.8 888.1,1012.5 888.7,1011.7 889.3,1010.2 889.9,1008.1 890.5,1008.9 891.1,1011.0 891.7,1010.3 892.3,1010.2 892.9,1010.6 893.5,1008.6 894.1,1008.6 894.7,1009.0 895.3,1011.9 895.9,1011.0 896.5,1011.7 897.1,1010.0 897.7,1012.0 898.3,1010.9 898.9,1010.9 899.5,1010.7 900.1,1010.3 900.7,1011.0 901.3,1012.8 901.9,1010.9 902.5,1010.8 903.1,1011.2 903.7,1014.2 904.3,1014.2 904.9,1013.4 905.5,1014.5 906.1,1016.4 906.7,1018.6 907.3,1021.8 907.9,1020.4 908.5,1019.9 909.1,1017.5 909.7,1015.6 910.3,1014.3 910.9,1010.5 911.5,1010.6 912.1,1011.9 912.7,1011.3 913.3,1012.4 913.9,1013.7 914.5,1012.6 915.1,1013.8 915.7,1012.4 916.3,1011.7 916.9,1009.9 917.5,1012.3 918.1,1013.3 918.7,1013.7 919.3,1012.8 919.9,1016.1 920.5,1015.9 921.1,1014.7 921.7,1015.8 922.3,1016.2 922.9,1017.9 923.5,1018.1 924.1,1018.3 924.7,1019.4 925.3,1016.8 925.9,1013.6 926.5,1014.6 927.1,1011.0 927.7,1013.4 928.3,1014.1 928.9,1013.9 929.5,1015.2 930.1,1014.9 930.7,1014.1 931.3,1014.1 931.9,1015.0 932.5,1012.6 933.1,1009.8 933.7,1011.5 934.3,1009.5 934.9,1009.8 935.5,1012.2 936.1,1013.0 936.7,1009.9 937.3,1009.3 937.9,1009.6 938.5,1009.4 939.1,1010.6 939.7,1013.5 940.3,1010.5 940.9,1010.2 941.5,1007.8 942.1,1008.9 942.7,1009.6 943.3,1009.7 943.9,1009.0 944.5,1009.0 945.1,1009.9 945.7,1010.9 946.3,1009.4 946.9,1008.7 947.5,1008.5 948.1,1007.0 948.7,1009.2 949.3,1010.2 949.9,1008.7 950.5,1010.7 951.1,1013.1 951.7,1013.5 952.3,1013.0 952.9,1012.9 953.5,1010.2 954.1,1012.7 954.7,1009.3 955.3,1012.2 955.9,1011.4 956.5,1008.6 957.1,1010.4 957.7,1012.1 958.3,1011.7 958.9,1011.6 959.5,1014.2 960.1,1015.8 960.7,1018.5 961.3,1020.6 961.9,1018.4 962.5,1017.8 963.1,1014.8 963.7,1014.8 964.3,1014.5 964.9,1013.4 965.5,1014.3 966.1,1011.8 966.7,1012.1 967.3,1013.4 967.9,1012.6 968.5,1013.9 969.1,1014.1 969.7,1014.8 970.3,1015.9 970.9,1014.6 971.5,1014.3 972.1,1016.0 972.7,1017.5 973.3,1015.2 973.9,1013.2 974.5,1014.2 975.1,1011.7 975.7,1010.4 976.3,1006.5 976.9,1006.7 977.5,1004.3 978.1,1002.7 978.7,1000.0 979.3,999.0 979.9,992.7 980.5,985.9 981.1,977.5 981.7,960.4 982.3,931.4 982.9,881.7 983.5,807.0 984.1,706.0 984.7,590.9 985.3,500.7 985.9,472.7 986.5,528.2 987.1,636.0 987.7,748.0 988.3,839.7 988.9,903.7 989.5,942.9 990.1,964.9 990.7,977.3 991.3,983.9 991.9,990.0 992.5,995.7 993.1,1000.0 993.7,1002.2 994.3,1003.3 994.9,999.4 995.5,997.0 996.1,994.7 996.7,998.6 997.3,1002.9 997.9,1009.5 998.5,1015.4 999.1,1017.7 999.7,1019.9 1000.3,1018.8 1000.9,1020.7 1001.5,1021.2 1002.1,1019.2 1002.7,1017.1 1003.3,1017.9 1003.9,1017.3 1004.5,1015.6 1005.1,1016.2 1005.7,1016.0 1006.3,1021.4 1006.9,1021.3 1007.5,1021.1 1008.1,1023.8 1008.7,1019.7 1009.3,1016.3 1009.9,1014.6 1010.5,1014.1 1011.1,1016.2 1011.7,1018.2 1012.3,1018.1 1012.9,1017.4 1013.5,1015.0 1014.1,1017.6 1014.7,1015.1 1015.3,1014.8 1015.9,1017.3 1016.5,1018.5 1017.1,1018.3 1017.7,1023.9 1018.3,1026.7 1018.9,1025.8 1019.5,1024.9 1020.1,1025.1 1020.7,1027.8 1021.3,1024.2 1021.9,1022.7 1022.5,1021.7 1023.1,1020.1 1023.7,1020.1 1024.3,1018.8 1024.9,1017.6 1025.5,1017.9 1026.1,1018.1 1026.7,1018.3 1027.3,1019.0 1027.9,1020.9 1028.5,1023.9 1029.1,1023.9 1029.7,1026.9 1030.3,1026.7 1030.9,1024.3 1031.5,1026.3 1032.1,1021.1 1032.7,1021.7 1033.3,1022.5 1033.9,1021.0 1034.5,1020.8 1035.1,1019.5 1035.7,1018.5 1036.3,1020.4 1036.9,1022.2 1037.5,1023.0 1038.1,1021.6 1038.7,1022.4 1039.3,1020.3 1039.9,1017.7 1040.5,1019.2 1041.1,1017.0 1041.7,1015.5 1042.3,1014.7 1042.9,1017.4 1043.5,1019.3 1044.1,1019.9 1044.7,1021.5 1045.3,1020.0 1045.9,1020.9 1046.5,1020.5 1047.1,1019.2 1047.7,1020.1 1048.3,1019.5 1048.9,1018.5 1049.5,1017.5 1050.1,1017.0 1050.7,1016.3 1051.3,1016.1 1051.9,1018.3 1052.5,1016.4 1053.1,1022.0 1053.7,1020.7 1054.3,1027.4 1054.9,1027.0 1055.5,1027.0 1056.1,1024.7 1056.7,1022.3 1057.3,1020.6 1057.9,1020.6 1058.5,1020.6 1059.1,1021.5 1059.7,1020.4 1060.3,1022.0 1060.9,1021.8 1061.5,1022.9 1062.1,1021.6 1062.7,1020.7 1063.3,1019.5 1063.9,1018.4 1064.5,1018.1 1065.1,1019.8 1065.7,1017.6 1066.3,1018.0 1066.9,1019.8 1067.5,1018.4 1068.1,1015.8 1068.7,1016.0 1069.3,1016.9 1069.9,1017.2 1070.5,1014.0 1071.1,1015.3 1071.7,1018.0 1072.3,1019.7 1072.9,1018.5 1073.5,1018.1 1074.1,1016.1 1074.7,1017.5 1075.3,1015.7 1075.9,1015.3 1076.5,1013.8 1077.1,1016.9 1077.7,1015.2 1078.3,1013.6 1078.9,1016.9 1079.5,1017.9 1080.1,1018.5 1080.7,1020.9 1081.3,1022.8 1081.9,1023.3 1082.5,1023.5 1083.1,1023.9 1083.7,1021.3 1084.3,1017.1 1084.9,1015.6 1085.5,1016.5 1086.1,1014.9 1086.7,1016.5 1087.3,1018.7 1087.9,1019.9 1088.5,1019.5 1089.1,1020.3 1089.7,1019.9 1090.3,1021.9 1090.9,1018.8 1091.5,1017.0 1092.1,1019.6 1092.7,1023.0 1093.3,1023.0 1093.9,1021.2 1094.5,1020.7 1095.1,1021.5 1095.7,1020.5 1096.3,1020.8 1096.9,1015.4 1097.5,1016.3 1098.1,1015.5 1098.7,1016.6 1099.3,1019.5 1099.9,1017.4 1100.5,1021.0 1101.1,1021.3 1101.7,1021.2 1102.3,1020.4 1102.9,1019.6 1103.5,1018.4 1104.1,1017.9 1104.7,1016.0 1105.3,1017.0 1105.9,1016.1 1106.5,1017.7 1107.1,1016.9 1107.7,1016.0 1108.3,1016.1 1108.9,1017.6 1109.5,1016.1 1110.1,1014.5 1110.7,1015.2 1111.3,1015.1 1111.9,1017.1 1112.5,1017.6 1113.1,1018.1 1113.7,1018.2 1114.3,1018.5 1114.9,1021.0 1115.5,1021.8 1116.1,1018.9 1116.7,1021.7 1117.3,1019.4 1117.9,1019.9 1118.5,1018.0 1119.1,1020.2 1119.7,1020.1 1120.3,1018.5 1120.9,1017.2 1121.5,1014.7 1122.1,1014.8 1122.7,1014.9 1123.3,1016.2 1123.9,1018.8 1124.5,1017.7 1125.1,1019.8 1125.7,1020.8 1126.3,1019.9 1126.9,1020.2 1127.5,1020.5 1128.1,1021.8 1128.7,1021.5 1129.3,1021.5 1129.9,1019.0 1130.5,1019.1 1131.1,1019.4 1131.7,1021.2 1132.3,1022.9 1132.9,1023.1 1133.5,1022.5 1134.1,1019.5 1134.7,1018.6 1135.3,1018.3 1135.9,1019.6 1136.5,1020.0 1137.1,1019.1 1137.7,1020.3 1138.3,1017.2 1138.9,1017.1 1139.5,1015.9 1140.1,1016.1 1140.7,1015.8 1141.3,1015.7 1141.9,1016.9 1142.5,1016.9 1143.1,1017.2 1143.7,1016.8 1144.3,1018.8 1144.9,1017.8 1145.5,1021.0 1146.1,1024.4 1146.7,1021.8 1147.3,1022.7 1147.9,1021.4 1148.5,1019.6 1149.1,1017.8 1149.7,1017.3 1150.3,1015.4 1150.9,1018.3 1151.5,1018.4 1152.1,1018.6 1152.7,1018.1 1153.3,1019.1 1153.9,1018.4 1154.5,1016.3 1155.1,1017.3 1155.7,1017.4 1156.3,1021.2 1156.9,1021.2 1157.5,1023.8 1158.1,1023.2 1158.7,1023.1 1159.3,1023.8 1159.9,1020.5 1160.5,1019.9 1161.1,1019.3 1161.7,1018.9 1162.3,1019.3 1162.9,1017.9 1163.5,1019.4 1164.1,1018.3 1164.7,1020.5 1165.3,1020.4 1165.9,1020.3 1166.5,1016.8 1167.1,1016.7 1167.7,1014.7 1168.3,1013.8 1168.9,1014.3 1169.5,1014.6 1170.1,1015.5 1170.7,1016.6 1171.3,1017.2 1171.9,1018.7 1172.5,1021.2 1173.1,1020.8 1173.7,1021.0 1174.3,1020.0 1174.9,1019.2 1175.5,1018.3 1176.1,1019.0 1176.7,1018.6 1177.3,1017.1 1177.9,1017.4 1178.5,1016.1 1179.1,1015.1 1179.7,1017.2 1180.3,1016.8 1180.9,1017.7 1181.5,1014.2 1182.1,1014.9 1182.7,1014.1 1183.3,1013.7 1183.9,1014.7 1184.5,1014.4 1185.1,1018.1 1185.7,1015.2 1186.3,1015.7 1186.9,1014.2 1187.5,1014.7 1188.1,1014.7 1188.7,1015.0 1189.3,1017.2 1189.9,1016.9 1190.5,1017.1 1191.1,1013.3 1191.7,1011.4 1192.3,1011.5 1192.9,1012.9 1193.5,1015.1 1194.1,1016.3 1194.7,1018.2 1195.3,1019.5 1195.9,1021.4 1196.5,1021.3 1197.1,1022.1 1197.7,1021.7 1198.3,1020.5 1198.9,1023.0 1199.5,1023.5 1200.1,1022.0 1200.7,1021.7 1201.3,1022.9 1201.9,1020.9 1202.5,1021.3 1203.1,1019.7 1203.7,1020.2 1204.3,1018.8 1204.9,1018.6 1205.5,1018.8 1206.1,1022.0 1206.7,1023.9 1207.3,1022.6 1207.9,1021.8 1208.5,1022.4 1209.1,1018.7 1209.7,1014.6 1210.3,1013.1 1210.9,1012.0 1211.5,1011.7 1212.1,1013.9 1212.7,1014.7 1213.3,1016.3 1213.9,1013.9 1214.5,1019.0 1215.1,1014.4 1215.7,1014.9 1216.3,1013.9 1216.9,1012.4 1217.5,1011.9 1218.1,1010.4 1218.7,1012.0 1219.3,1013.6 1219.9,1017.2 1220.5,1018.6 1221.1,1017.9 1221.7,1018.8 1222.3,1018.0 1222.9,1019.9 1223.5,1020.1 1224.1,1019.2 1224.7,1020.2 1225.3,1019.4 1225.9,1019.0 1226.5,1018.0 1227.1,1018.6 1227.7,1019.1 1228.3,1019.0 1228.9,1017.7 1229.5,1019.5 1230.1,1014.6 1230.7,1016.7 1231.3,1012.6 1231.9,1013.6 1232.5,1013.9 1233.1,1013.0 1233.7,1016.0 1234.3,1014.0 1234.9,1014.4 1235.5,1013.3 1236.1,1014.4 1236.7,1015.3 1237.3,1017.0 1237.9,1015.8 1238.5,1015.7 1239.1,1016.0 1239.7,1013.1 1240.3,1012.8 1240.9,1012.3 1241.5,1013.1 1242.1,1015.7 1242.7,1017.3 1243.3,1016.5 1243.9,1015.1 1244.5,1013.2 1245.1,1014.9 1245.7,1012.0 1246.3,1014.9 1246.9,1013.6 1247.5,1011.4 1248.1,1010.4 1248.7,1013.6 1249.3,1012.7 1249.9,1015.7 1250.5,1018.4 1251.1,1018.6 1251.7,1019.9 1252.3,1021.0 1252.9,1019.6 1253.5,1021.3 1254.1,1018.4 1254.7,1018.6 1255.3,1017.0 1255.9,1014.0 1256.5,1012.5 1257.1,1008.9 1257.7,1007.6 1258.3,1004.5 1258.9,1004.3 1259.5,1005.3 1260.1,1004.9 1260.7,1002.3 1261.3,1002.4 1261.9,999.0 1262.5,998.3 1263.1,996.5 1263.7,995.4 1264.3,993.4 1264.9,984.3 1265.5,973.3 1266.1,951.7 1266.7,914.7 1267.3,855.5 1267.9,768.1 1268.5,660.7 1269.1,560.5 1269.7,506.0 1270.3,534.3 1270.9,622.7 1271.5,730.8 1272.1,823.5 1272.7,897.0 1273.3,942.1 1273.9,971.8 1274.5,983.6 1275.1,992.3 1275.7,996.3 1276.3,999.4 1276.9,1003.3 1277.5,1006.7 1278.1,1008.9 1278.7,1006.3 1279.3,1006.6 1279.9,1007.3 1280.5,1009.2 1281.1,1011.5 1281.7,1013.4 1282.3,1014.6 1282.9,1012.2 1283.5,1013.1 1284.1,1015.3 1284.7,1018.3 1285.3,1016.3 1285.9,1014.7 1286.5,1014.5 1287.1,1011.8 1287.7,1010.4 1288.3,1012.5 1288.9,1011.6 1289.5,1011.6 1290.1,1012.2 1290.7,1014.3 1291.3,1011.5 1291.9,1014.7 1292.5,1015.3 1293.1,1014.8 1293.7,1016.7 1294.3,1018.4 1294.9,1020.6 1295.5,1021.2 1296.1,1021.8 1296.7,1019.3 1297.3,1017.6 1297.9,1017.3 1298.5,1016.0 1299.1,1016.1 1299.7,1015.8 1300.3,1015.6 1300.9,1018.2 1301.5,1018.3 1302.1,1019.2 1302.7,1017.1 1303.3,1020.2 1303.9,1020.4 1304.5,1022.0 1305.1,1018.2 1305.7,1020.0 1306.3,1020.6 1306.9,1020.1 1307.5,1021.3 1308.1,1022.5 1308.7,1024.1 1309.3,1025.0 1309.9,1025.3 1310.5,1028.6 1311.1,1025.5 1311.7,1024.9 1312.3,1024.2 1312.9,1022.1 1313.5,1021.2 1314.1,1022.6 1314.7,1021.5 1315.3,1018.4 1315.9,1016.6 1316.5,1016.0 1317.1,1013.4 1317.7,1014.0 1318.3,1012.3 1318.9,1016.9 1319.5,1018.1 1320.1,1016.6 1320.7,1014.7 1321.3,1013.3 1321.9,1013.7 1322.5,1012.5 1323.1,1012.8 1323.7,1013.3 1324.3,1013.8 1324.9,1013.6 1325.5,1013.8 1326.1,1015.5 1326.7,1015.8 1327.3,1016.0 1327.9,1014.5 1328.5,1014.6 1329.1,1015.4 1329.7,1014.7 1330.3,1013.0 1330.9,1016.4 1331.5,1016.6 1332.1,1015.6 1332.7,1015.4 1333.3,1016.8 1333.9,1016.2 1334.5,1017.6 1335.1,1015.3 1335.7,1015.3 1336.3,1013.8 1336.9,1013.5 1337.5,1011.6 1338.1,1009.6 1338.7,1009.1 1339.3,1011.8 1339.9,1012.0 1340.5,1014.0 1341.1,1015.3 1341.7,1017.4 1342.3,1018.3 1342.9,1021.6 1343.5,1024.9 1344.1,1022.7 1344.7,1021.0 1345.3,1021.7 1345.9,1016.1 1346.5,1014.7 1347.1,1015.1 1347.7,1014.7 1348.3,1016.2 1348.9,1014.8 1349.5,1014.6 1350.1,1014.2 1350.7,1015.7 1351.3,1017.0 1351.9,1015.3 1352.5,1015.8 1353.1,1020.1 1353.7,1020.3 1354.3,1018.2 1354.9,1017.0 1355.5,1013.3 1356.1,1012.5 1356.7,1011.4 1357.3,1011.8 1357.9,1010.9 1358.5,1012.6 1359.1,1014.8 1359.7,1014.4 1360.3,1017.0 1360.9,1018.0 1361.5,1016.6 1362.1,1016.8 1362.7,1018.1 1363.3,1019.0 1363.9,1018.0 1364.5,1021.3 1365.1,1017.4 1365.7,1019.3 1366.3,1017.3 1366.9,1016.7 1367.5,1016.2 1368.1,1016.5 1368.7,1016.7 1369.3,1017.9 1369.9,1017.5 1370.5,1018.0 1371.1,1015.5 1371.7,1015.5 1372.3,1015.6 1372.9,1015.9 1373.5,1016.0 1374.1,1016.7 1374.7,1017.0 1375.3,1018.1 1375.9,1020.6 1376.5,1019.3 1377.1,1020.1 1377.7,1015.0 1378.3,1015.7 1378.9,1014.6 1379.5,1013.6 1380.1,1012.6 1380.7,1010.6 1381.3,1008.8 1381.9,1005.3 1382.5,1001.2 1383.1,997.2 1383.7,992.3 1384.3,983.6 1384.9,981.8 1385.5,982.5 1386.1,987.8 1386.7,994.0 1387.3,1001.4 1387.9,1008.4 1388.5,1011.3 1389.1,1016.4 1389.7,1013.9 1390.3,1016.5 1390.9,1015.5 1391.5,1015.9 1392.1,1015.5 1392.7,1016.5 1393.3,1015.9 1393.9,1015.4 1394.5,1018.5 1395.1,1021.8 1395.7,1020.1 1396.3,1021.6 1396.9,1019.3 1397.5,1019.8 1398.1,1018.7 1398.7,1018.6 1399.3,1017.2 1399.9,1018.1 1400.5,1017.0 1401.1,1018.1 1401.7,1020.7 1402.3,1020.5 1402.9,1019.6 1403.5,1017.9 1404.1,1019.0 1404.7,1018.9 1405.3,1020.7 1405.9,1018.4 1406.5,1019.7 1407.1,1017.5 1407.7,1018.8 1408.3,1018.7 1408.9,1016.7 1409.5,1013.9 1410.1,1015.4 1410.7,1015.3 1411.3,1013.8 1411.9,1015.1 1412.5,1013.8 1413.1,1013.3 1413.7,1012.0 1414.3,1013.4 1414.9,1014.5 1415.5,1015.4 1416.1,1017.0 1416.7,1018.9 1417.3,1018.4 1417.9,1016.9 1418.5,1016.6 1419.1,1015.3 1419.7,1015.2 1420.3,1017.3 1420.9,1015.5 1421.5,1014.4 1422.1,1014.4 1422.7,1013.8 1423.3,1012.8 1423.9,1014.7 1424.5,1013.2 1425.1,1010.3 1425.7,1012.8 1426.3,1013.0 1426.9,1016.3 1427.5,1017.9 1428.1,1019.4 1428.7,1022.5 1429.3,1025.5 1429.9,1025.4 1430.5,1023.2 1431.1,1022.4 1431.7,1018.4 1432.3,1018.2 1432.9,1014.7 1433.5,1014.2 1434.1,1011.9 1434.7,1012.2 1435.3,1010.0 1435.9,1007.3 1436.5,1001.9 1437.1,999.2 1437.7,995.2 1438.3,993.9 1438.9,989.6 1439.5,985.4 1440.1,981.3 1440.7,979.7 1441.3,974.6 1441.9,964.9 1442.5,950.6 1443.1,923.0 1443.7,880.0 1444.3,814.2 1444.9,726.2 1445.5,625.0 1446.1,527.6 1446.7,481.5 1447.3,507.5 1447.9,594.6 1448.5,703.3 1449.1,800.2 1449.7,875.5 1450.3,925.5 1450.9,957.0 1451.5,975.3 1452.1,986.9 1452.7,990.9 1453.3,994.9 1453.9,999.3 1454.5,1000.3 1455.1,1003.0 1455.7,1009.0 1456.3,1009.4 1456.9,1013.1 1457.5,1015.5 1458.1,1020.1 1458.7,1019.2 1459.3,1020.0 1459.9,1021.9 1460.5,1019.8 1461.1,1019.4 1461.7,1018.8 1462.3,1018.6 1462.9,1015.2 1463.5,1014.3 1464.1,1013.5 1464.7,1013.1 1465.3,1016.9 1465.9,1017.7 1466.5,1015.8 1467.1,1017.8 1467.7,1014.9 1468.3,1012.9 1468.9,1012.8 1469.5,1015.2 1470.1,1014.3 1470.7,1016.1 1471.3,1014.6 1471.9,1013.7 1472.5,1012.7 1473.1,1010.3 1473.7,1010.2 1474.3,1013.6 1474.9,1016.0 1475.5,1017.3 1476.1,1016.9 1476.7,1016.0 1477.3,1014.8 1477.9,1015.1 1478.5,1016.8 1479.1,1016.0 1479.7,1016.6 1480.3,1019.3 1480.9,1019.2 1481.5,1018.8 1482.1,1018.2 1482.7,1021.6 1483.3,1022.1 1483.9,1023.2 1484.5,1023.4 1485.1,1018.5 1485.7,1019.8 1486.3,1018.4 1486.9,1021.7 1487.5,1021.7 1488.1,1026.2 1488.7,1028.1 1489.3,1028.5 1489.9,1025.1 1490.5,1025.0 1491.1,1023.8 1491.7,1024.4 1492.3,1026.1 1492.9,1025.7 1493.5,1026.1 1494.1,1021.9 1494.7,1021.7 1495.3,1017.4 1495.9,1014.2 1496.5,1015.9 1497.1,1013.7 1497.7,1013.6 1498.3,1018.3 1498.9,1017.5 1499.5,1018.3 1500.1,1019.4 1500.7,1018.6 1501.3,1018.9 1501.9,1017.2 1502.5,1018.4 1503.1,1017.9 1503.7,1022.1 1504.3,1021.8 1504.9,1021.3 1505.5,1021.5 1506.1,1018.5 1506.7,1016.9 1507.3,1014.0 1507.9,1017.9 1508.5,1015.0 1509.1,1018.3 1509.7,1020.4 1510.3,1021.2 1510.9,1021.8 1511.5,1020.7 1512.1,1023.5 1512.7,1021.2 1513.3,1021.0 1513.9,1020.3 1514.5,1019.5 1515.1,1018.1 1515.7,1019.6 1516.3,1020.4 1516.9,1019.0 1517.5,1021.4 1518.1,1019.1 1518.7,1016.1 1519.3,1017.1 1519.9,1017.1 1520.5,1019.7 1521.1,1023.0 1521.7,1024.7 1522.3,1025.3 1522.9,1021.0 1523.5,1021.3 1524.1,1019.6 1524.7,1020.2 1525.3,1020.8 1525.9,1020.3 1526.5,1020.3 1527.1,1020.0 1527.7,1019.2 1528.3,1023.1 1528.9,1020.1 1529.5,1022.0 1530.1,1021.5 1530.7,1021.6 1531.3,1020.9 1531.9,1018.4 1532.5,1019.0 1533.1,1019.0 1533.7,1019.0 1534.3,1018.3 1534.9,1017.8 1535.5,1018.2 1536.1,1019.8 1536.7,1017.9 1537.3,1018.7 1537.9,1018.3 1538.5,1018.3 1539.1,1019.9 1539.7,1019.0 1540.3,1018.9 1540.9,1017.3 1541.5,1016.9 1542.1,1016.7 1542.7,1017.8 1543.3,1018.7 1543.9,1020.3 1544.5,1022.3 1545.1,1022.7 1545.7,1020.4 1546.3,1018.9 1546.9,1020.1 1547.5,1020.3 1548.1,1018.5 1548.7,1019.3 1549.3,1018.1 1549.9,1019.3 1550.5,1016.9 1551.1,1015.4 1551.7,1018.3 1552.3,1019.2 1552.9,1020.7 1553.5,1017.9 1554.1,1017.0 1554.7,1017.2 1555.3,1016.1 1555.9,1017.4 1556.5,1017.3 1557.1,1016.3 1557.7,1016.2 1558.3,1017.0 1558.9,1018.3 1559.5,1019.3 1560.1,1020.3 1560.7,1018.4 1561.3,1017.2 1561.9,1018.9 1562.5,1015.2 1563.1,1014.8 1563.7,1014.2 1564.3,1009.5 1564.9,1003.8 1565.5,997.1 1566.1,990.2 1566.7,981.9 1567.3,974.7 1567.9,970.4 1568.5,968.3 1569.1,970.1 1569.7,971.9 1570.3,981.3 1570.9,988.8 1571.5,999.0 1572.1,1003.3 1572.7,1007.2 1573.3,1011.2 1573.9,1012.5 1574.5,1015.2 1575.1,1015.8 1575.7,1018.2 1576.3,1019.8 1576.9,1016.8 1577.5,1017.6 1578.1,1017.4 1578.7,1018.7 1579.3,1018.3 1579.9,1020.6 1580.5,1022.1 1581.1,1022.5 1581.7,1022.5 1582.3,1023.4 1582.9,1021.0 1583.5,1020.3 1584.1,1015.9 1584.7,1014.2 1585.3,1016.2 1585.9,1013.5 1586.5,1012.0 1587.1,1011.1 1587.7,1008.2 1588.3,1007.9 1588.9,1010.9 1589.5,1012.9 1590.1,1014.7 1590.7,1017.1 1591.3,1019.4 1591.9,1020.6 1592.5,1019.9 1593.1,1018.4 1593.7,1018.7 1594.3,1017.1 1594.9,1015.8 1595.5,1014.9 1596.1,1011.5 1596.7,1012.3 1597.3,1012.7 1597.9,1010.5 1598.5,1013.0 1599.1,1012.1 1599.7,1013.4 1600.3,1014.2 1600.9,1013.0 1601.5,1010.5 1602.1,1008.6 1602.7,1005.0 1603.3,1002.5 1603.9,997.5 1604.5,993.3 1605.1,987.6 1605.7,979.4 1606.3,964.6 1606.9,942.5 1607.5,908.9 1608.1,854.8 1608.7,784.8 1609.3,695.7 1609.9,596.2 1610.5,510.4 1611.1,466.2 1611.7,484.5 1612.3,559.7 1612.9,656.5 1613.5,753.8 1614.1,832.7 1614.7,890.2 1615.3,933.0 1615.9,958.7 1616.5,975.3 1617.1,986.9 1617.7,993.3 1618.3,997.6 1618.9,1002.9 1619.5,1003.2 1620.1,1002.2 1620.7,1004.9 1621.3,1006.4 1621.9,1005.4 1622.5,1006.6 1623.1,1005.3 1623.7,1004.7 1624.3,1005.9 1624.9,1008.3 1625.5,1008.6 1626.1,1014.2 1626.7,1016.0 1627.3,1017.1 1627.9,1018.2 1628.5,1015.4 1629.1,1014.1 1629.7,1014.2 1630.3,1013.0 1630.9,1009.8 1631.5,1011.6 1632.1,1009.2 1632.7,1008.8 1633.3,1001.3 1633.9,998.6 1634.5,998.1 1635.1,997.2 1635.7,999.0 1636.3,999.5 1636.9,1000.7 1637.5,1002.9 1638.1,1004.3 1638.7,1006.9 1639.3,1007.3 1639.9,1011.5 1640.5,1009.2 1641.1,1009.8 1641.7,1008.4 1642.3,1006.5 1642.9,1001.4 1643.5,998.5 1644.1,995.2 1644.7,987.0 1645.3,972.1 1645.9,953.2 1646.5,926.7 1647.1,893.4 1647.7,852.4 1648.3,810.4 1648.9,773.4 1649.5,746.3 1650.1,739.3 1650.7,756.1 1651.3,790.6 1651.9,832.2 1652.5,871.7 1653.1,908.7 1653.7,936.8 1654.3,960.5 1654.9,980.2 1655.5,990.8 1656.1,999.3 1656.7,1003.9 1657.3,1006.5 1657.9,1007.8 1658.5,1009.5 1659.1,1011.4 1659.7,1010.5 1660.3,1013.9 1660.9,1015.5 1661.5,1016.1 1662.1,1016.0 1662.7,1016.0 1663.3,1015.7 1663.9,1013.1 1664.5,1012.3 1665.1,1011.1 1665.7,1013.3 1666.3,1015.0 1666.9,1015.2 1667.5,1017.9 1668.1,1017.5 1668.7,1016.7 1669.3,1015.1 1669.9,1017.1 1670.5,1017.1 1671.1,1016.9 1671.7,1020.2 1672.3,1021.9 1672.9,1021.7 1673.5,1023.8 1674.1,1024.5 1674.7,1025.7 1675.3,1024.7 1675.9,1023.7 1676.5,1020.4 1677.1,1018.2 1677.7,1016.1 1678.3,1015.3 1678.9,1016.1 1679.5,1015.6 1680.1,1017.4 1680.7,1017.2 1681.3,1018.3 1681.9,1019.6 1682.5,1022.1 1683.1,1023.8 1683.7,1025.2 1684.3,1024.9 1684.9,1026.8 1685.5,1025.7 1686.1,1024.1 1686.7,1022.7 1687.3,1019.3 1687.9,1021.2 1688.5,1021.6 1689.1,1020.6 1689.7,1023.2 1690.3,1022.2 1690.9,1023.6 1691.5,1024.7 1692.1,1023.3 1692.7,1022.2 1693.3,1024.3 1693.9,1025.7 1694.5,1026.4 1695.1,1026.1 1695.7,1026.5 1696.3,1024.5 1696.9,1025.2 1697.5,1025.8 1698.1,1025.3 1698.7,1026.1 1699.3,1024.4 1699.9,1024.4 1700.5,1024.6 1701.1,1024.4 1701.7,1028.6 1702.3,1028.3 1702.9,1027.8 1703.5,1026.1 1704.1,1022.6 1704.7,1024.1 1705.3,1023.5 1705.9,1025.3 1706.5,1025.9 1707.1,1026.6 1707.7,1025.9 1708.3,1023.7 1708.9,1022.0 1709.5,1019.8 1710.1,1019.0 1710.7,1017.7 1711.3,1018.3 1711.9,1017.9 1712.5,1017.0 1713.1,1016.7 1713.7,1020.1 1714.3,1021.8 1714.9,1018.3 1715.5,1020.5 1716.1,1018.6 1716.7,1017.9 1717.3,1016.9 1717.9,1016.9 1718.5,1016.7 1719.1,1014.4 1719.7,1019.8 1720.3,1018.1 1720.9,1015.5 1721.5,1016.3 1722.1,1012.3 1722.7,1012.6 1723.3,1017.2 1723.9,1017.6 1724.5,1020.4 1725.1,1020.0 1725.7,1020.5 1726.3,1021.4 1726.9,1020.1 1727.5,1020.6 1728.1,1018.4 1728.7,1016.2 1729.3,1015.5 1729.9,1018.6 1730.5,1019.4 1731.1,1017.0 1731.7,1010.5 1732.3,997.7 1732.9,974.0 1733.5,938.3 1734.1,892.3 1734.7,849.8 1735.3,831.5 1735.9,850.7 1736.5,895.7 1737.1,940.3 1737.7,974.9 1738.3,995.4 1738.9,1006.8 1739.5,1007.9 1740.1,1008.3 1740.7,1010.7 1741.3,1011.5 1741.9,1009.8 1742.5,1011.5 1743.1,1013.8 1743.7,1016.2 1744.3,1018.8 1744.9,1018.4 1745.5,1018.4 1746.1,1019.5 1746.7,1020.4 1747.3,1016.4 1747.9,1017.3 1748.5,1016.5 1749.1,1017.2 1749.7,1017.1 1750.3,1016.8 1750.9,1020.5 1751.5,1021.7 1752.1,1024.8 1752.7,1024.6 1753.3,1024.1 1753.9,1023.1 1754.5,1022.7 1755.1,1018.1 1755.7,1018.8 1756.3,1017.8 1756.9,1014.5 1757.5,1013.2 1758.1,1015.0 1758.7,1019.0 1759.3,1020.1 1759.9,1019.9 1760.5,1019.1 1761.1,1019.7 1761.7,1017.8 1762.3,1018.6 1762.9,1014.1 1763.5,1014.8 1764.1,1012.7 1764.7,1013.1 1765.3,1014.4 1765.9,1014.9 1766.5,1019.3 1767.1,1021.6 1767.7,1023.4 1768.3,1020.7 1768.9,1021.5 1769.5,1020.5 1770.1,1018.0 1770.7,1018.8 1771.3,1019.3 1771.9,1018.9 1772.5,1018.4 1773.1,1017.1 1773.7,1018.5 1774.3,1018.8 1774.9,1016.4 1775.5,1015.9 1776.1,1014.0 1776.7,1013.8 1777.3,1012.8 1777.9,1010.2 1778.5,1013.0 1779.1,1013.6 1779.7,1014.6 1780.3,1015.9 1780.9,1013.0 1781.5,1012.7 1782.1,1016.0 1782.7,1013.7 1783.3,1016.8 1783.9,1016.1 1784.5,1015.8 1785.1,1018.3 1785.7,1019.4 1786.3,1020.6 1786.9,1021.8 1787.5,1022.7 1788.1,1023.2 1788.7,1020.7 1789.3,1018.8 1789.9,1016.6 1790.5,1019.0 1791.1,1019.9 1791.7,1021.2 1792.3,1020.9 1792.9,1019.4 1793.5,1018.7 1794.1,1018.1 1794.7,1018.1 1795.3,1016.9 1795.9,1017.7 1796.5,1015.8 1797.1,1014.5 1797.7,1017.3 1798.3,1019.5 1798.9,1020.7 1799.5,1020.5 1800.1,1019.3 1800.7,1018.4 1801.3,1019.9 1801.9,1021.4 1802.5,1023.5 1803.1,1024.9 1803.7,1024.9 1804.3,1020.4 1804.9,1017.3 1805.5,1016.4 1806.1,1015.5 1806.7,1018.3 1807.3,1018.6 1807.9,1020.2 1808.5,1018.9 1809.1,1017.8 1809.7,1017.9 1810.3,1017.2 1810.9,1019.4 1811.5,1019.7 1812.1,1020.4 1812.7,1021.5 1813.3,1023.2 1813.9,1023.5 1814.5,1022.9 1815.1,1024.1 1815.7,1022.2 1816.3,1018.4 1816.9,1015.2 1817.5,1012.9 1818.1,1011.0 1818.7,1012.9 1819.3,1012.6 1819.9,1014.9 1820.5,1021.3 1821.1,1018.8 1821.7,1016.3 1822.3,1015.9 1822.9,1013.3 1823.5,1019.0 1824.1,1017.3 1824.7,1017.3 1825.3,1018.4 1825.9,1021.0 1826.5,1019.9 1827.1,1021.9 1827.7,1019.5 1828.3,1017.8 1828.9,1016.1 1829.5,1016.1 1830.1,1014.6 1830.7,1017.5 1831.3,1018.0 1831.9,1020.7 1832.5,1023.2 1833.1,1024.9 1833.7,1023.7 1834.3,1024.6 1834.9,1021.5 1835.5,1023.5 1836.1,1024.5 1836.7,1022.7 1837.3,1021.9 1837.9,1020.0 1838.5,1018.5 1839.1,1018.4 1839.7,1020.2 1840.3,1018.7 1840.9,1017.1 1841.5,1017.0 1842.1,1018.5 1842.7,1015.9 1843.3,1016.0 1843.9,1014.7 1844.5,1015.1 1845.1,1012.9 1845.7,1011.6 1846.3,1012.8 1846.9,1013.3 1847.5,1014.6 1848.1,1013.4 1848.7,1013.3 1849.3,1013.3 1849.9,1015.8 1850.5,1016.7 1851.1,1017.4 1851.7,1012.4 1852.3,1010.7 1852.9,1008.0 1853.5,1007.7 1854.1,1010.6 1854.7,1012.5 1855.3,1013.4 1855.9,1015.5 1856.5,1014.5 1857.1,1016.0 1857.7,1016.9 1858.3,1017.5 1858.9,1017.9 1859.5,1018.1 1860.1,1021.6 1860.7,1022.7 1861.3,1023.2 1861.9,1021.5 1862.5,1021.1 1863.1,1024.1 1863.7,1021.3 1864.3,1019.2 1864.9,1018.5 1865.5,1017.0 1866.1,1017.5 1866.7,1019.1 1867.3,1019.3 1867.9,1020.1 1868.5,1018.6 1869.1,1016.7 1869.7,1014.5 1870.3,1015.2 1870.9,1014.2 1871.5,1014.4 1872.1,1013.5 1872.7,1013.7 1873.3,1015.5 1873.9,1015.8 1874.5,1015.9 1875.1,1017.4 1875.7,1017.0 1876.3,1015.6 1876.9,1016.4 1877.5,1017.1 1878.1,1021.2 1878.7,1021.5 1879.3,1019.3 1879.9,1018.3 1880.5,1017.3 1881.1,1014.8 1881.7,1011.3 1882.3,1006.8 1882.9,1002.5 1883.5,998.5 1884.1,995.2 1884.7,991.0 1885.3,981.1 1885.9,976.0 1886.5,969.7 1887.1,965.7 1887.7,966.2 1888.3,969.3 1888.9,972.8 1889.5,979.1 1890.1,987.3 1890.7,997.2 1891.3,1003.3 1891.9,1008.0 1892.5,1009.4 1893.1,1010.8 1893.7,1008.7 1894.3,1009.1 1894.9,1010.5 1895.5,1013.9 1896.1,1015.7 1896.7,1018.9 1897.3,1020.5 1897.9,1021.3 1898.5,1019.2 1899.1,1018.8 1899.7,1020.1 1900.3,1021.1 1900.9,1023.1 1901.5,1023.4 1902.1,1026.6 1902.7,1025.6 1903.3,1026.2 1903.9,1025.1 1904.5,1023.3 1905.1,1022.3 1905.7,1021.3 1906.3,1022.1 1906.9,1021.8 1907.5,1020.9 1908.1,1018.9 1908.7,1023.5 1909.3,1023.4 1909.9,1024.5 1910.5,1025.1 1911.1,1025.9 1911.7,1023.5 1912.3,1021.7 1912.9,1023.9 1913.5,1022.4 1914.1,1017.7 1914.7,1018.3 1915.3,1016.8 1915.9,1016.6 1916.5,1018.7 1917.1,1019.5 1917.7,1021.9 1918.3,1024.0 1918.9,1020.8 1919.5,1020.1 1920.1,1015.9 1920.7,1018.7 1921.3,1016.4 1921.9,1017.6 1922.5,1017.3 1923.1,1019.0 1923.7,1019.1 1924.3,1018.7 1924.9,1021.7 1925.5,1018.5 1926.1,1018.7 1926.7,1018.5 1927.3,1016.4 1927.9,1016.9 1928.5,1015.2 1929.1,1016.5 1929.7,1015.5 1930.3,1015.0 1930.9,1015.1 1931.5,1015.9 1932.1,1015.5 1932.7,1015.3 1933.3,1016.4 1933.9,1016.6 1934.5,1018.5 1935.1,1018.4 1935.7,1019.8 1936.3,1020.2 1936.9,1016.6 1937.5,1016.1 1938.1,1015.8 1938.7,1018.7 1939.3,1016.1 1939.9,1015.9 1940.5,1015.7 1941.1,1018.1 1941.7,1017.8 1942.3,1021.2 1942.9,1021.7 1943.5,1020.5 1944.1,1019.4 1944.7,1017.8 1945.3,1017.1 1945.9,1016.6 1946.5,1015.2 1947.1,1015.5 1947.7,1016.8 1948.3,1017.9 1948.9,1017.6 1949.5,1020.1 1950.1,1020.1 1950.7,1019.3 1951.3,1019.9 1951.9,1018.8 1952.5,1018.6 1953.1,1020.5 1953.7,1024.7 1954.3,1024.4 1954.9,1023.4 1955.5,1024.4 1956.1,1023.9 1956.7,1023.5 1957.3,1020.8 1957.9,1019.9 1958.5,1013.7 1959.1,1010.2 1959.7,1008.6 1960.3,1012.6 1960.9,1018.6 1961.5,1018.5"/>
<polyline stroke="#0000aa" points="144.7,840.3 145.3,837.3 145.9,836.1 146.5,838.0 147.1,839.0 147.7,841.1 148.3,839.3 148.9,840.8 149.5,839.8 150.1,837.8 150.7,838.5 151.3,838.4 151.9,839.8 152.5,838.4 153.1,839.2 153.7,837.5 154.3,836.8 154.9,837.8 155.5,836.7 156.1,838.3 156.7,838.7 157.3,838.5 157.9,840.4 158.5,842.7 159.1,842.0 159.7,839.9 160.3,840.1 160.9,837.6 161.5,836.5 162.1,835.3 162.7,835.5 163.3,836.5 163.9,838.1 164.5,838.8 165.1,838.8 165.7,837.9 166.3,837.5 166.9,839.4 167.5,837.4 168.1,838.4 168.7,838.8 169.3,839.3 169.9,836.1 170.5,837.3 171.1,835.0 171.7,836.2 172.3,837.1 172.9,838.2 173.5,838.3 174.1,839.4 174.7,839.6 175.3,838.8 175.9,839.6 176.5,839.7 177.1,840.5 177.7,840.2 178.3,839.4 178.9,840.1 179.5,839.6 180.1,839.3 180.7,836.4 181.3,836.9 181.9,836.5 182.5,838.1 183.1,838.6 183.7,840.8 184.3,838.9 184.9,839.4 185.5,837.7 186.1,837.9 186.7,838.2 187.3,837.7 187.9,837.2 188.5,835.8 189.1,837.0 189.7,835.0 190.3,836.7 190.9,835.3 191.5,834.5 192.1,835.1 192.7,834.5 193.3,836.1 193.9,834.3 194.5,834.8 195.1,836.6 195.7,836.6 196.3,836.9 196.9,835.2 197.5,834.8 198.1,833.0 198.7,833.3 199.3,831.1 199.9,834.9 200.5,833.5 201.1,834.0 201.7,834.0 202.3,834.5 202.9,834.8 203.5,836.3 204.1,838.4 204.7,836.0 205.3,838.0 205.9,837.1 206.5,838.5 207.1,837.7 207.7,838.6 208.3,838.8 208.9,837.0 209.5,839.0 210.1,835.2 210.7,831.6 211.3,828.5 211.9,828.6 212.5,831.4 213.1,833.0 213.7,838.5 214.3,839.9 214.9,841.5 215.5,841.9 216.1,839.4 216.7,838.2 217.3,839.4 217.9,839.8 218.5,836.3 219.1,834.2 219.7,835.4 220.3,834.2 220.9,836.5 221.5,837.7 222.1,835.7 222.7,838.5 223.3,838.7 223.9,838.0 224.5,837.8 225.1,834.7 225.7,832.2 226.3,832.9 226.9,836.4 227.5,838.9 228.1,839.8 228.7,841.9 229.3,843.0 229.9,844.3 230.5,842.2 231.1,840.4 231.7,837.4 232.3,835.3 232.9,835.0 233.5,837.8 234.1,839.9 234.7,842.2 235.3,840.0 235.9,838.8 236.5,839.9 237.1,841.4 237.7,842.6 238.3,842.1 238.9,842.3 239.5,841.6 240.1,842.4 240.7,842.3 241.3,843.6 241.9,845.0 242.5,842.7 243.1,845.1 243.7,844.0 244.3,842.2 244.9,840.8 245.5,838.9 246.1,839.4 246.7,840.6 247.3,839.7 247.9,837.6 248.5,838.6 249.1,839.1 249.7,839.9 250.3,842.5 250.9,839.4 251.5,839.9 252.1,841.1 252.7,839.9 253.3,842.2 253.9,839.5 254.5,838.7 255.1,837.5 255.7,838.5 256.3,837.8 256.9,840.4 257.5,838.9 258.1,839.6 258.7,840.1 259.3,838.9 259.9,837.8 260.5,842.3 261.1,842.8 261.7,841.7 262.3,841.8 262.9,839.7 263.5,838.4 264.1,835.9 264.7,836.1 265.3,834.7 265.9,837.8 266.5,836.6 267.1,838.9 267.7,840.9 268.3,841.5 268.9,842.8 269.5,843.8 270.1,841.7 270.7,842.5 271.3,841.7 271.9,838.3 272.5,837.2 273.1,837.1 273.7,839.6 274.3,841.2 274.9,841.6 275.5,841.3 276.1,839.2 276.7,838.7 277.3,836.8 277.9,834.3 278.5,832.6 279.1,829.4 279.7,833.0 280.3,837.0 280.9,837.0 281.5,838.9 282.1,839.1 282.7,839.8 283.3,839.9 283.9,841.5 284.5,841.0 285.1,840.6 285.7,839.2 286.3,840.5 286.9,839.7 287.5,837.9 288.1,838.6 288.7,839.5 289.3,840.7 289.9,838.8 290.5,838.9 291.1,837.9 291.7,837.0 292.3,836.1 292.9,834.9 293.5,835.4 294.1,837.1 294.7,835.8 295.3,835.3 295.9,834.2 296.5,834.4 297.1,835.7 297.7,835.9 298.3,837.7 298.9,840.6 299.5,838.8 300.1,838.6 300.7,838.1 301.3,839.9 301.9,841.5 302.5,838.6 303.1,837.7 303.7,836.8 304.3,836.3 304.9,836.6 305.5,836.4 306.1,838.3 306.7,835.4 307.3,837.8 307.9,837.5 308.5,837.8 309.1,836.7 309.7,834.7 310.3,835.9 310.9,831.5 311.5,831.4 312.1,830.5 312.7,831.9 313.3,834.8 313.9,835.7 314.5,835.1 315.1,836.9 315.7,839.0 316.3,839.5 316.9,842.1 317.5,842.1 318.1,844.0 318.7,843.9 319.3,841.5 319.9,840.0 320.5,837.8 321.1,837.7 321.7,837.1 322.3,834.6 322.9,835.4 323.5,836.1 324.1,835.5 324.7,836.7 325.3,835.0 325.9,837.5 326.5,837.9 327.1,839.4 327.7,839.6 328.3,838.5 328.9,837.2 329.5,835.9 330.1,837.6 330.7,837.9 331.3,839.8 331.9,838.4 332.5,839.4 333.1,839.1 333.7,839.1 334.3,838.4 334.9,838.4 335.5,834.5 336.1,834.1 336.7,835.2 337.3,837.9 337.9,838.7 338.5,839.9 339.1,840.0 339.7,841.4 340.3,840.5 340.9,840.3 341.5,839.2 342.1,840.0 342.7,840.6 343.3,841.3 343.9,839.7 344.5,839.0 345.1,838.5 345.7,840.4 346.3,839.3 346.9,839.9 347.5,841.1 348.1,841.0 348.7,840.0 349.3,839.5 349.9,838.1 350.5,836.5 351.1,835.8 351.7,835.4 352.3,835.4 352.9,836.6 353.5,837.8 354.1,839.5 354.7,839.2 355.3,839.3 355.9,839.1 356.5,839.1 357.1,840.7 357.7,841.6 358.3,841.5 358.9,841.2 359.5,841.7 360.1,839.2 360.7,839.4 361.3,838.7 361.9,835.1 362.5,838.6 363.1,838.1 363.7,840.1 364.3,840.4 364.9,841.1 365.5,839.9 366.1,840.1 366.7,837.8 367.3,837.6 367.9,837.3 368.5,836.5 369.1,840.6 369.7,841.2 370.3,839.9 370.9,838.1 371.5,836.8 372.1,839.3 372.7,839.3 373.3,841.7 373.9,842.0 374.5,843.8 375.1,843.0 375.7,840.1 376.3,839.3 376.9,839.7 377.5,841.3 378.1,844.9 378.7,842.9 379.3,842.0 379.9,838.5 380.5,837.2 381.1,835.9 381.7,836.2 382.3,837.8 382.9,839.4 383.5,838.3 384.1,839.5 384.7,837.8 385.3,838.6 385.9,837.1 386.5,835.9 387.1,835.7 387.7,836.2 388.3,835.3 388.9,834.6 389.5,834.9 390.1,834.7 390.7,837.8 391.3,839.0 391.9,841.2 392.5,840.0 393.1,839.8 393.7,836.6 394.3,838.1 394.9,839.5 395.5,838.9 396.1,839.4 396.7,838.2 397.3,836.3 397.9,833.0 398.5,830.8 399.1,829.0 399.7,831.2 400.3,833.1 400.9,834.6 401.5,836.8 402.1,838.9 402.7,837.1 403.3,838.0 403.9,838.6 404.5,838.4 405.1,838.2 405.7,840.1 406.3,837.3 406.9,837.1 407.5,835.9 408.1,834.9 408.7,835.8 409.3,834.0 409.9,835.2 410.5,835.7 411.1,838.3 411.7,837.0 412.3,838.2 412.9,838.9 413.5,837.0 414.1,838.2 414.7,836.8 415.3,837.5 415.9,837.3 416.5,839.4 417.1,839.2 417.7,838.3 418.3,839.8 418.9,835.9 419.5,836.2 420.1,834.2 420.7,836.2 421.3,837.9 421.9,837.6 422.5,838.0 423.1,839.3 423.7,838.7 424.3,840.2 424.9,842.7 425.5,844.0 426.1,845.1 426.7,844.9 427.3,842.8 427.9,843.3 428.5,841.8 429.1,840.9 429.7,841.0 430.3,840.7 430.9,843.0 431.5,844.5 432.1,843.5 432.7,844.9 433.3,844.4 433.9,843.3 434.5,841.6 435.1,840.0 435.7,840.1 436.3,840.2 436.9,840.1 437.5,838.4 438.1,836.3 438.7,836.9 439.3,837.6 439.9,836.5 440.5,837.8 441.1,838.5 441.7,839.1 442.3,840.3 442.9,841.3 443.5,842.1 444.1,839.9 444.7,838.8 445.3,838.2 445.9,838.3 446.5,838.3 447.1,839.0 447.7,840.4 448.3,844.0 448.9,842.6 449.5,841.1 450.1,843.5 450.7,840.6 451.3,839.9 451.9,839.7 452.5,837.9 453.1,839.4 453.7,837.9 454.3,836.8 454.9,835.3 455.5,834.8 456.1,833.2 456.7,837.0 457.3,837.5 457.9,837.9 458.5,839.8 459.1,839.7 459.7,837.7 460.3,838.8 460.9,835.7 461.5,835.7 462.1,834.1 462.7,833.5 463.3,831.6 463.9,833.5 464.5,834.2 465.1,832.9 465.7,834.3 466.3,834.5 466.9,835.3 467.5,836.4 468.1,838.2 468.7,838.4 469.3,837.2 469.9,840.0 470.5,841.9 471.1,840.1 471.7,841.5 472.3,839.8 472.9,838.2 473.5,837.2 474.1,837.3 474.7,837.9 475.3,839.8 475.9,840.3 476.5,841.9 477.1,841.0 477.7,841.4 478.3,840.6 478.9,838.5 479.5,835.9 480.1,834.7 480.7,834.8 481.3,836.0 481.9,835.3 482.5,838.3 483.1,839.3 483.7,838.0 484.3,840.5 484.9,839.6 485.5,840.1 486.1,841.2 486.7,842.4 487.3,842.7 487.9,842.7 488.5,842.1 489.1,841.7 489.7,839.5 490.3,838.4 490.9,841.3 491.5,840.2 492.1,840.9 492.7,840.2 493.3,839.5 493.9,838.1 494.5,838.1 495.1,836.7 495.7,836.6 496.3,837.3 496.9,836.2 497.5,837.4 498.1,835.9 498.7,836.7 499.3,838.2 499.9,835.4 500.5,835.5 501.1,834.8 501.7,836.9 502.3,836.2 502.9,837.8 503.5,838.2 504.1,837.7 504.7,836.2 505.3,832.5 505.9,833.8 506.5,836.3 507.1,836.8 507.7,837.8 508.3,837.5 508.9,836.3 509.5,834.6 510.1,833.9 510.7,832.6 511.3,829.9 511.9,832.6 512.5,831.9 513.1,826.3 513.7,821.4 514.3,809.0 514.9,780.9 515.5,719.7 516.1,616.3 516.7,458.2 517.3,275.2 517.9,118.9 518.5,57.0 519.1,119.1 519.7,280.9 520.3,463.4 520.9,619.9 521.5,723.3 522.1,779.9 522.7,802.8 523.3,809.3 523.9,806.7 524.5,803.2 525.1,797.9 525.7,795.5 526.3,793.7 526.9,797.5 527.5,805.6 528.1,814.1 528.7,823.9 529.3,829.3 529.9,834.3 530.5,839.0 531.1,838.5 531.7,838.6 532.3,838.1 532.9,839.0 533.5,838.2 534.1,840.2 534.7,839.1 535.3,837.1 535.9,836.8 536.5,836.5 537.1,835.4 537.7,832.6 538.3,830.1 538.9,824.8 539.5,818.8 540.1,816.6 540.7,813.3 541.3,816.3 541.9,822.5 542.5,829.3 543.1,835.4 543.7,838.0 544.3,840.3 544.9,840.0 545.5,837.5 546.1,835.4 546.7,834.9 547.3,834.3 547.9,833.2 548.5,831.9 549.1,833.8 549.7,833.2 550.3,833.4 550.9,834.6 551.5,833.4 552.1,835.6 552.7,834.2 553.3,836.5 553.9,834.8 554.5,830.7 555.1,829.5 555.7,828.0 556.3,825.9 556.9,815.4 557.5,806.3 558.1,790.5 558.7,777.0 559.3,767.8 559.9,768.0 560.5,776.7 561.1,789.7 561.7,802.7 562.3,814.6 562.9,823.0 563.5,828.2 564.1,834.7 564.7,834.7 565.3,835.3 565.9,832.9 566.5,834.6 567.1,835.4 567.7,833.4 568.3,831.1 568.9,824.4 569.5,823.8 570.1,823.7 570.7,828.9 571.3,831.3 571.9,833.0 572.5,831.9 573.1,831.9 573.7,831.6 574.3,831.5 574.9,832.6 575.5,833.2 576.1,832.8 576.7,829.8 577.3,829.1 577.9,828.3 578.5,826.8 579.1,824.9 579.7,823.5 580.3,821.3 580.9,821.4 581.5,819.9 582.1,811.5 582.7,789.6 583.3,734.1 583.9,628.3 584.5,441.9 585.1,168.0 585.7,30.0 586.3,30.0 586.9,30.0 587.5,30.0 588.1,30.0 588.7,30.0 589.3,172.0 589.9,444.6 590.5,632.1 591.1,739.3 591.7,796.8 592.3,823.2 592.9,832.3 593.5,831.7 594.1,828.0 594.7,820.8 595.3,819.0 595.9,817.1 596.5,816.4 597.1,819.0 597.7,823.3 598.3,826.9 598.9,828.5 599.5,829.2 600.1,831.0 600.7,830.4 601.3,828.6 601.9,829.4 602.5,830.7 603.1,832.3 603.7,833.2 604.3,833.7 604.9,834.4 605.5,831.4 606.1,830.2 606.7,830.5 607.3,829.4 607.9,826.5 608.5,827.8 609.1,826.8 609.7,824.0 610.3,820.4 610.9,814.5 611.5,804.0 612.1,785.1 612.7,756.3 613.3,714.3 613.9,666.7 614.5,621.5 615.1,596.6 615.7,597.9 616.3,629.0 616.9,675.7 617.5,720.4 618.1,756.1 618.7,778.0 619.3,791.1 619.9,786.7 620.5,777.5 621.1,756.6 621.7,735.9 622.3,715.5 622.9,702.3 623.5,701.4 624.1,712.4 624.7,731.1 625.3,751.2 625.9,772.0 626.5,788.0 627.1,797.5 627.7,805.9 628.3,811.0 628.9,814.7 629.5,816.0 630.1,815.5 630.7,815.9 631.3,815.5 631.9,819.3 632.5,822.1 633.1,825.1 633.7,825.3 634.3,826.1 634.9,825.1 635.5,826.3 636.1,824.8 636.7,823.0 637.3,819.2 637.9,816.7 638.5,817.0 639.1,815.6 639.7,815.5 640.3,814.4 640.9,812.8 641.5,811.9 642.1,810.9 642.7,811.2 643.3,809.5 643.9,807.6 644.5,804.1 645.1,802.1 645.7,797.0 646.3,784.2 646.9,758.6 647.5,705.6 648.1,585.1 648.7,350.7 649.3,30.0 649.9,30.0 650.5,30.0 651.1,30.0 651.7,30.0 652.3,30.0 652.9,30.0 653.5,30.0 654.1,30.0 654.7,30.0 655.3,30.0 655.9,275.9 656.5,517.1 657.1,659.8 657.7,735.2 658.3,769.9 658.9,787.7 659.5,795.3 660.1,801.2 660.7,804.5 661.3,808.8 661.9,815.3 662.5,816.6 663.1,817.6 663.7,818.3 664.3,820.0 664.9,817.4 665.5,821.6 666.1,822.6 666.7,821.9 667.3,824.2 667.9,823.9 668.5,822.4 669.1,823.0 669.7,823.0 670.3,823.8 670.9,823.9 671.5,823.2 672.1,824.0 672.7,821.4 673.3,816.9 673.9,810.3 674.5,796.5 675.1,778.7 675.7,751.7 676.3,720.8 676.9,690.6 677.5,677.6 678.1,686.6 678.7,713.1 679.3,745.2 679.9,773.9 680.5,794.3 681.1,807.2 681.7,814.1 682.3,819.8 682.9,818.0 683.5,811.1 684.1,803.0 684.7,787.0 685.3,760.0 685.9,725.8 686.5,685.7 687.1,652.8 687.7,639.7 688.3,651.5 688.9,685.0 689.5,725.3 690.1,762.9 690.7,791.8 691.3,811.3 691.9,819.8 692.5,827.0 693.1,830.7 693.7,832.6 694.3,831.5 694.9,833.5 695.5,835.9 696.1,833.9 696.7,834.9 697.3,835.2 697.9,836.3 698.5,835.6 699.1,834.2 699.7,836.4 700.3,834.9 700.9,834.5 701.5,834.2 702.1,835.1 702.7,835.6 703.3,836.2 703.9,835.3 704.5,837.6 705.1,834.5 705.7,832.5 706.3,833.3 706.9,831.6 707.5,832.3 708.1,832.5 708.7,829.5 709.3,828.6 709.9,827.6 710.5,830.9 711.1,831.1 711.7,833.5 712.3,834.2 712.9,832.9 713.5,833.0 714.1,835.2 714.7,835.7 715.3,835.9 715.9,837.5 716.5,837.0 717.1,835.8 717.7,835.3 718.3,834.6 718.9,838.7 719.5,836.9 720.1,837.9 720.7,838.2 721.3,835.7 721.9,838.0 722.5,838.5 723.1,836.0 723.7,836.3 724.3,836.5 724.9,835.7 725.5,835.8 726.1,836.3 726.7,834.5 727.3,833.5 727.9,833.9 728.5,834.9 729.1,838.3 729.7,839.9 730.3,838.4 730.9,837.0 731.5,837.2 732.1,836.0 732.7,836.1 733.3,836.2 733.9,839.1 734.5,839.4 735.1,839.8 735.7,839.1 736.3,839.2 736.9,835.2 737.5,835.8 738.1,836.0 738.7,839.4 739.3,840.4 739.9,840.2 740.5,841.2 741.1,841.6 741.7,840.0 742.3,843.3 742.9,843.1 743.5,842.7 744.1,842.6 744.7,840.7 745.3,839.1 745.9,841.5 746.5,839.9 747.1,839.9 747.7,838.4 748.3,838.4 748.9,837.9 749.5,838.3 750.1,836.3 750.7,838.3 751.3,838.1 751.9,840.1 752.5,837.9 753.1,838.2 753.7,837.0 754.3,836.5 754.9,834.0 755.5,832.5 756.1,833.2 756.7,830.6 757.3,832.1 757.9,833.0 758.5,833.0 759.1,835.8 759.7,836.6 760.3,835.4 760.9,834.3 761.5,835.1 762.1,834.2 762.7,833.9 763.3,833.6 763.9,832.5 764.5,835.1 765.1,836.2 765.7,837.3 766.3,835.6 766.9,837.1 767.5,836.5 768.1,836.8 768.7,836.4 769.3,834.8 769.9,834.0 770.5,836.2 771.1,834.7 771.7,833.6 772.3,831.0 772.9,825.7 773.5,819.1 774.1,812.6 774.7,806.9 775.3,799.4 775.9,796.9 776.5,799.7 777.1,802.9 777.7,808.4 778.3,814.6 778.9,820.2 779.5,821.5 780.1,822.0 780.7,821.2 781.3,822.9 781.9,823.4 782.5,828.2 783.1,830.4 783.7,833.1 784.3,835.5 784.9,836.2 785.5,838.3 786.1,837.4 786.7,840.8 787.3,836.6 787.9,839.4 788.5,839.0 789.1,840.1 789.7,838.0 790.3,838.0 790.9,837.3 791.5,837.5 792.1,837.3 792.7,838.2 793.3,840.8 793.9,840.0 794.5,841.0 795.1,841.3 795.7,840.6 796.3,841.0 796.9,837.4 797.5,837.8 798.1,836.8 798.7,838.3 799.3,837.1 799.9,836.4 800.5,837.9 801.1,838.9 801.7,840.3 802.3,838.1 802.9,840.5 803.5,840.7 804.1,840.3 804.7,841.0 805.3,840.1 805.9,836.8 806.5,837.5 807.1,836.0 807.7,836.3 808.3,838.4 808.9,840.6 809.5,840.2 810.1,841.7 810.7,842.8 811.3,841.4 811.9,839.4 812.5,838.0 813.1,837.9 813.7,839.0 814.3,838.7 814.9,837.7 815.5,835.7 816.1,834.3 816.7,831.6 817.3,831.7 817.9,831.5 818.5,833.4 819.1,835.3 819.7,833.8 820.3,833.0 820.9,829.5 821.5,830.1 822.1,828.6 822.7,826.5 823.3,826.1 823.9,825.7 824.5,826.6 825.1,830.5 825.7,830.5 826.3,829.9 826.9,831.9 827.5,829.8 828.1,832.9 828.7,834.7 829.3,834.3 829.9,833.0 830.5,832.2 831.1,832.2 831.7,834.3 832.3,834.5 832.9,835.2 833.5,836.2 834.1,834.0 834.7,833.6 835.3,831.2 835.9,832.9 836.5,831.8 837.1,833.9 837.7,836.0 838.3,836.9 838.9,837.4 839.5,835.9 840.1,837.9 840.7,837.6 841.3,837.6 841.9,836.1 842.5,834.8 843.1,835.1 843.7,834.4 844.3,837.6 844.9,838.2 845.5,836.1 846.1,836.8 846.7,835.6 847.3,836.1 847.9,834.8 848.5,835.7 849.1,837.5 849.7,838.8 850.3,837.4 850.9,837.1 851.5,836.7 852.1,838.7 852.7,835.5 853.3,836.4 853.9,836.4 854.5,835.7 855.1,835.3 855.7,835.3 856.3,837.2 856.9,838.9 857.5,837.5 858.1,838.4 858.7,839.9 859.3,839.4 859.9,839.4 860.5,839.2 861.1,838.8 861.7,837.4 862.3,836.3 862.9,835.5 863.5,835.6 864.1,836.6 864.7,834.9 865.3,834.4 865.9,835.9 866.5,834.9 867.1,834.4 867.7,830.1 868.3,827.6 868.9,828.2 869.5,830.6 870.1,831.3 870.7,833.2 871.3,833.5 871.9,833.5 872.5,833.8 873.1,832.5 873.7,830.2 874.3,826.7 874.9,821.6 875.5,816.6 876.1,815.1 876.7,812.6 877.3,813.5 877.9,817.5 878.5,822.5 879.1,826.5 879.7,831.2 880.3,834.8 880.9,835.3 881.5,835.8 882.1,836.6 882.7,836.3 883.3,837.1 883.9,837.5 884.5,838.7 885.1,836.4 885.7,837.7 886.3,837.4 886.9,835.8 887.5,836.6 888.1,837.5 888.7,835.3 889.3,836.3 889.9,836.4 890.5,836.3 891.1,837.3 891.7,837.9 892.3,839.4 892.9,838.5 893.5,836.4 894.1,834.6 894.7,834.6 895.3,833.2 895.9,834.4 896.5,832.1 897.1,829.3 897.7,824.9 898.3,820.0 898.9,817.0 899.5,817.8 900.1,821.7 900.7,825.9 901.3,830.2 901.9,831.2 902.5,833.8 903.1,834.7 903.7,833.4 904.3,835.6 904.9,836.9 905.5,835.4 906.1,834.9 906.7,834.4 907.3,834.2 907.9,834.0 908.5,835.2 909.1,836.0 909.7,836.1 910.3,835.1 910.9,833.5 911.5,834.6 912.1,836.5 912.7,837.9 913.3,839.1 913.9,840.8 914.5,839.1 915.1,837.8 915.7,838.4 916.3,838.2 916.9,836.9 917.5,837.4 918.1,836.9 918.7,838.3 919.3,837.9 919.9,836.2 920.5,837.7 921.1,838.3 921.7,838.0 922.3,836.7 922.9,837.2 923.5,837.1 924.1,837.8 924.7,838.8 925.3,838.3 925.9,836.2 926.5,834.6 927.1,834.0 927.7,829.5 928.3,824.9 928.9,819.6 929.5,810.1 930.1,804.2 930.7,797.1 931.3,798.5 931.9,803.6 932.5,810.8 933.1,819.5 933.7,825.4 934.3,829.2 934.9,832.5 935.5,834.4 936.1,835.0 936.7,839.8 937.3,838.0 937.9,838.8 938.5,839.7 939.1,840.2 939.7,838.9 940.3,839.7 940.9,842.1 941.5,839.9 942.1,843.0 942.7,842.7 943.3,843.3 943.9,842.3 944.5,841.7 945.1,839.5 945.7,840.5 946.3,839.6 946.9,840.1 947.5,840.8 948.1,840.1 948.7,841.4 949.3,840.5 949.9,839.3 950.5,838.3 951.1,838.8 951.7,839.9 952.3,839.5 952.9,840.7 953.5,840.4 954.1,843.4 954.7,843.8 955.3,841.3 955.9,841.0 956.5,840.0 957.1,839.1 957.7,838.7 958.3,837.8 958.9,837.4 959.5,837.5 960.1,839.6 960.7,838.4 961.3,837.8 961.9,837.6 962.5,836.2 963.1,834.8 963.7,836.7 964.3,837.0 964.9,834.6 965.5,834.2 966.1,833.9 966.7,835.6 967.3,835.7 967.9,835.8 968.5,835.3 969.1,834.6 969.7,835.2 970.3,837.2 970.9,835.9 971.5,836.3 972.1,837.4 972.7,835.0 973.3,835.9 973.9,836.8 974.5,837.7 975.1,836.8 975.7,838.0 976.3,837.4 976.9,836.9 977.5,836.0 978.1,834.2 978.7,832.2 979.3,832.7 979.9,831.1 980.5,829.2 981.1,825.2 981.7,825.4 982.3,821.8 982.9,819.9 983.5,820.7 984.1,819.8 984.7,821.2 985.3,819.0 985.9,816.0 986.5,811.8 987.1,809.8 987.7,801.8 988.3,787.3 988.9,758.4 989.5,707.9 990.1,632.1 990.7,539.3 991.3,457.2 991.9,430.5 992.5,481.9 993.1,571.0 993.7,660.2 994.3,728.1 994.9,772.7 995.5,798.0 996.1,810.0 996.7,820.2 997.3,822.7 997.9,824.2 998.5,826.3 999.1,828.6 999.7,830.6 1000.3,832.1 1000.9,834.6 1001.5,836.7 1002.1,835.8 1002.7,836.2 1003.3,839.1 1003.9,839.3 1004.5,839.8 1005.1,841.3 1005.7,842.7 1006.3,841.5 1006.9,839.9 1007.5,839.4 1008.1,836.8 1008.7,837.8 1009.3,836.9 1009.9,838.5 1010.5,838.1 1011.1,839.3 1011.7,840.1 1012.3,836.5 1012.9,838.2 1013.5,837.6 1014.1,839.2 1014.7,842.0 1015.3,838.2 1015.9,839.1 1016.5,835.2 1017.1,834.2 1017.7,833.4 1018.3,831.7 1018.9,831.5 1019.5,828.5 1020.1,828.7 1020.7,827.5 1021.3,829.6 1021.9,830.7 1022.5,833.6 1023.1,833.2 1023.7,832.9 1024.3,834.3 1024.9,837.6 1025.5,838.4 1026.1,840.7 1026.7,839.5 1027.3,838.6 1027.9,835.0 1028.5,835.2 1029.1,835.5 1029.7,832.6 1030.3,831.8 1030.9,832.9 1031.5,829.3 1032.1,827.4 1032.7,825.1 1033.3,822.4 1033.9,824.6 1034.5,828.7 1035.1,831.4 1035.7,835.0 1036.3,837.9 1036.9,836.7 1037.5,837.8 1038.1,837.8 1038.7,842.0 1039.3,841.1 1039.9,840.9 1040.5,839.9 1041.1,838.8 1041.7,839.4 1042.3,838.2 1042.9,838.6 1043.5,837.4 1044.1,833.5 1044.7,832.2 1045.3,827.2 1045.9,821.4 1046.5,817.0 1047.1,814.7 1047.7,813.6 1048.3,815.1 1048.9,822.4 1049.5,827.0 1050.1,830.9 1050.7,835.0 1051.3,836.2 1051.9,837.7 1052.5,838.1 1053.1,841.6 1053.7,841.7 1054.3,840.6 1054.9,841.4 1055.5,840.4 1056.1,838.4 1056.7,841.3 1057.3,838.1 1057.9,837.4 1058.5,835.1 1059.1,836.3 1059.7,835.9 1060.3,836.7 1060.9,837.4 1061.5,838.2 1062.1,839.2 1062.7,840.9 1063.3,841.8 1063.9,841.2 1064.5,842.7 1065.1,840.9 1065.7,841.1 1066.3,840.3 1066.9,841.3 1067.5,842.1 1068.1,841.8 1068.7,840.1 1069.3,839.1 1069.9,838.0 1070.5,833.5 1071.1,835.1 1071.7,836.8 1072.3,834.7 1072.9,834.7 1073.5,837.4 1074.1,839.5 1074.7,839.0 1075.3,840.2 1075.9,840.4 1076.5,841.9 1077.1,837.6 1077.7,835.3 1078.3,837.2 1078.9,836.0 1079.5,836.2 1080.1,836.5 1080.7,836.8 1081.3,835.6 1081.9,834.4 1082.5,836.3 1083.1,838.6 1083.7,839.5 1084.3,839.5 1084.9,839.0 1085.5,839.1 1086.1,837.7 1086.7,838.6 1087.3,841.1 1087.9,839.4 1088.5,839.6 1089.1,838.9 1089.7,837.7 1090.3,838.1 1090.9,838.3 1091.5,840.5 1092.1,840.0 1092.7,842.3 1093.3,840.2 1093.9,838.7 1094.5,839.5 1095.1,842.6 1095.7,841.9 1096.3,840.1 1096.9,840.1 1097.5,838.3 1098.1,837.1 1098.7,837.7 1099.3,840.6 1099.9,840.8 1100.5,839.7 1101.1,840.6 1101.7,838.9 1102.3,841.5 1102.9,843.2 1103.5,844.6 1104.1,844.2 1104.7,844.6 1105.3,842.0 1105.9,842.8 1106.5,843.8 1107.1,842.5 1107.7,842.9 1108.3,842.5 1108.9,842.0 1109.5,841.3 1110.1,842.3 1110.7,844.1 1111.3,844.8 1111.9,842.6 1112.5,842.1 1113.1,839.2 1113.7,839.4 1114.3,838.3 1114.9,838.2 1115.5,838.5 1116.1,838.8 1116.7,835.4 1117.3,836.5 1117.9,836.0 1118.5,833.9 1119.1,834.1 1119.7,833.8 1120.3,835.4 1120.9,837.0 1121.5,838.2 1122.1,837.4 1122.7,835.6 1123.3,838.9 1123.9,837.5 1124.5,837.5 1125.1,837.4 1125.7,837.5 1126.3,834.9 1126.9,837.0 1127.5,838.4 1128.1,838.4 1128.7,840.0 1129.3,841.0 1129.9,841.9 1130.5,840.2 1131.1,839.9 1131.7,839.1 1132.3,838.1 1132.9,842.8 1133.5,845.3 1134.1,845.6 1134.7,844.3 1135.3,841.4 1135.9,838.0 1136.5,837.3 1137.1,839.3 1137.7,838.4 1138.3,839.6 1138.9,840.0 1139.5,839.0 1140.1,840.2 1140.7,840.5 1141.3,841.8 1141.9,840.6 1142.5,842.3 1143.1,841.4 1143.7,840.2 1144.3,837.5 1144.9,838.1 1145.5,836.3 1146.1,833.7 1146.7,831.2 1147.3,831.1 1147.9,833.3 1148.5,836.2 1149.1,841.1 1149.7,843.0 1150.3,841.9 1150.9,841.2 1151.5,840.0 1152.1,842.7 1152.7,841.2 1153.3,839.9 1153.9,839.8 1154.5,838.8 1155.1,838.6 1155.7,839.1 1156.3,839.1 1156.9,839.9 1157.5,840.1 1158.1,837.9 1158.7,838.7 1159.3,837.4 1159.9,839.4 1160.5,840.1 1161.1,840.0 1161.7,837.9 1162.3,838.7 1162.9,839.4 1163.5,842.7 1164.1,840.9 1164.7,839.0 1165.3,839.0 1165.9,838.3 1166.5,837.6 1167.1,838.2 1167.7,838.9 1168.3,838.2 1168.9,839.2 1169.5,838.1 1170.1,837.9 1170.7,839.3 1171.3,839.1 1171.9,838.5 1172.5,838.9 1173.1,838.0 1173.7,839.3 1174.3,839.6 1174.9,837.4 1175.5,842.6 1176.1,843.0 1176.7,846.3 1177.3,847.0 1177.9,844.4 1178.5,843.8 1179.1,843.1 1179.7,842.1 1180.3,840.7 1180.9,841.4 1181.5,837.6 1182.1,836.4 1182.7,836.5 1183.3,836.1 1183.9,835.2 1184.5,836.2 1185.1,835.9 1185.7,833.5 1186.3,834.4 1186.9,834.3 1187.5,836.1 1188.1,836.5 1188.7,838.3 1189.3,838.4 1189.9,839.7 1190.5,839.1 1191.1,838.0 1191.7,838.1 1192.3,835.1 1192.9,836.9 1193.5,836.6 1194.1,837.2 1194.7,840.8 1195.3,841.4 1195.9,839.5 1196.5,839.2 1197.1,837.8 1197.7,834.6 1198.3,833.5 1198.9,834.1 1199.5,836.0 1200.1,835.8 1200.7,836.0 1201.3,835.9 1201.9,838.0 1202.5,837.2 1203.1,838.1 1203.7,840.6 1204.3,840.0 1204.9,839.8 1205.5,835.7 1206.1,836.4 1206.7,834.0 1207.3,832.8 1207.9,832.7 1208.5,834.3 1209.1,834.5 1209.7,835.8 1210.3,837.0 1210.9,836.1 1211.5,836.8 1212.1,837.8 1212.7,838.8 1213.3,839.8 1213.9,840.2 1214.5,836.8 1215.1,834.9 1215.7,833.6 1216.3,833.4 1216.9,834.2 1217.5,834.9 1218.1,836.1 1218.7,837.2 1219.3,840.1 1219.9,839.6 1220.5,839.0 1221.1,838.3 1221.7,839.5 1222.3,840.2 1222.9,841.8 1223.5,842.2 1224.1,839.6 1224.7,839.6 1225.3,838.4 1225.9,838.9 1226.5,837.3 1227.1,835.7 1227.7,835.6 1228.3,832.9 1228.9,834.3 1229.5,835.3 1230.1,836.1 1230.7,838.6 1231.3,836.6 1231.9,837.4 1232.5,838.5 1233.1,840.0 1233.7,837.8 1234.3,840.6 1234.9,838.3 1235.5,841.5 1236.1,838.3 1236.7,839.1 1237.3,839.2 1237.9,838.5 1238.5,840.8 1239.1,840.8 1239.7,839.7 1240.3,839.4 1240.9,838.6 1241.5,838.8 1242.1,838.3 1242.7,840.5 1243.3,839.5 1243.9,837.0 1244.5,835.4 1245.1,837.4 1245.7,837.5 1246.3,838.8 1246.9,838.4 1247.5,840.6 1248.1,838.9 1248.7,839.9 1249.3,839.0 1249.9,837.4 1250.5,838.8 1251.1,837.9 1251.7,839.8 1252.3,839.4 1252.9,840.1 1253.5,842.9 1254.1,845.7 1254.7,845.4 1255.3,842.4 1255.9,842.5 1256.5,839.6 1257.1,838.9 1257.7,835.6 1258.3,834.6 1258.9,836.5 1259.5,836.9 1260.1,836.5 1260.7,835.2 1261.3,832.7 1261.9,832.3 1262.5,829.3 1263.1,830.9 1263.7,829.7 1264.3,831.5 1264.9,830.8 1265.5,832.0 1266.1,831.9 1266.7,833.0 1267.3,831.9 1267.9,827.3 1268.5,817.4 1269.1,801.2 1269.7,774.6 1270.3,738.4 1270.9,687.0 1271.5,636.2 1272.1,596.9 1272.7,580.7 1273.3,596.0 1273.9,634.3 1274.5,670.7 1275.1,691.3 1275.7,679.7 1276.3,632.8 1276.9,549.8 1277.5,448.5 1278.1,374.4 1278.7,378.9 1279.3,457.9 1279.9,568.6 1280.5,664.2 1281.1,732.9 1281.7,773.4 1282.3,796.8 1282.9,806.6 1283.5,811.5 1284.1,817.5 1284.7,819.3 1285.3,819.3 1285.9,823.0 1286.5,822.4 1287.1,826.9 1287.7,826.4 1288.3,826.7 1288.9,829.0 1289.5,828.0 1290.1,827.8 1290.7,827.7 1291.3,826.9 1291.9,828.2 1292.5,828.9 1293.1,828.1 1293.7,831.8 1294.3,831.7 1294.9,833.0 1295.5,834.3 1296.1,833.8 1296.7,834.1 1297.3,835.4 1297.9,836.9 1298.5,838.1 1299.1,837.9 1299.7,835.0 1300.3,831.3 1300.9,832.7 1301.5,830.6 1302.1,831.3 1302.7,829.8 1303.3,831.3 1303.9,831.5 1304.5,833.3 1305.1,834.1 1305.7,835.1 1306.3,833.9 1306.9,835.7 1307.5,836.5 1308.1,835.9 1308.7,838.0 1309.3,834.9 1309.9,835.9 1310.5,838.0 1311.1,839.0 1311.7,838.7 1312.3,838.7 1312.9,839.4 1313.5,839.8 1314.1,840.4 1314.7,840.9 1315.3,839.4 1315.9,837.5 1316.5,835.5 1317.1,835.9 1317.7,839.4 1318.3,840.9 1318.9,838.1 1319.5,835.8 1320.1,837.1 1320.7,834.7 1321.3,833.5 1321.9,832.4 1322.5,831.9 1323.1,834.2 1323.7,834.0 1324.3,835.7 1324.9,834.9 1325.5,837.4 1326.1,838.9 1326.7,839.9 1327.3,841.5 1327.9,840.8 1328.5,842.3 1329.1,842.6 1329.7,840.7 1330.3,839.2 1330.9,835.7 1331.5,834.1 1332.1,837.7 1332.7,835.3 1333.3,837.1 1333.9,836.4 1334.5,839.0 1335.1,837.2 1335.7,834.2 1336.3,835.7 1336.9,835.8 1337.5,837.7 1338.1,838.4 1338.7,840.5 1339.3,839.5 1339.9,840.1 1340.5,840.2 1341.1,835.7 1341.7,837.5 1342.3,838.3 1342.9,837.5 1343.5,838.2 1344.1,838.4 1344.7,837.8 1345.3,838.0 1345.9,837.2 1346.5,839.9 1347.1,837.5 1347.7,837.9 1348.3,838.9 1348.9,843.2 1349.5,841.6 1350.1,841.6 1350.7,838.5 1351.3,838.7 1351.9,839.3 1352.5,838.4 1353.1,838.2 1353.7,839.8 1354.3,839.5 1354.9,836.5 1355.5,836.8 1356.1,836.5 1356.7,838.5 1357.3,838.0 1357.9,839.7 1358.5,835.9 1359.1,836.4 1359.7,834.1 1360.3,833.2 1360.9,832.7 1361.5,832.8 1362.1,834.8 1362.7,834.6 1363.3,837.2 1363.9,839.0 1364.5,838.8 1365.1,839.9 1365.7,838.2 1366.3,836.5 1366.9,835.8 1367.5,836.0 1368.1,835.4 1368.7,837.8 1369.3,838.3 1369.9,838.6 1370.5,837.1 1371.1,835.2 1371.7,832.6 1372.3,831.3 1372.9,827.9 1373.5,822.2 1374.1,818.8 1374.7,814.6 1375.3,811.1 1375.9,811.8 1376.5,814.7 1377.1,817.4 1377.7,822.6 1378.3,825.2 1378.9,828.6 1379.5,831.7 1380.1,833.5 1380.7,836.7 1381.3,835.9 1381.9,834.1 1382.5,835.6 1383.1,836.5 1383.7,836.8 1384.3,836.5 1384.9,837.5 1385.5,837.4 1386.1,836.3 1386.7,837.1 1387.3,833.7 1387.9,833.6 1388.5,828.9 1389.1,824.9 1389.7,822.3 1390.3,818.5 1390.9,820.1 1391.5,820.0 1392.1,823.7 1392.7,827.4 1393.3,831.0 1393.9,831.3 1394.5,835.9 1395.1,836.7 1395.7,837.4 1396.3,838.8 1396.9,841.6 1397.5,840.9 1398.1,841.1 1398.7,840.3 1399.3,838.8 1399.9,838.1 1400.5,839.3 1401.1,837.5 1401.7,837.8 1402.3,838.6 1402.9,838.5 1403.5,839.1 1404.1,837.5 1404.7,836.5 1405.3,836.7 1405.9,834.9 1406.5,836.7 1407.1,836.8 1407.7,837.1 1408.3,837.9 1408.9,838.8 1409.5,837.1 1410.1,837.9 1410.7,837.3 1411.3,837.0 1411.9,835.6 1412.5,835.3 1413.1,835.1 1413.7,833.9 1414.3,835.4 1414.9,838.4 1415.5,837.9 1416.1,839.0 1416.7,839.9 1417.3,838.9 1417.9,838.7 1418.5,838.8 1419.1,838.9 1419.7,839.0 1420.3,837.1 1420.9,836.5 1421.5,835.0 1422.1,834.9 1422.7,837.3 1423.3,837.3 1423.9,838.1 1424.5,839.8 1425.1,838.8 1425.7,839.8 1426.3,837.5 1426.9,836.5 1427.5,835.6 1428.1,833.0 1428.7,830.4 1429.3,830.6 1429.9,829.1 1430.5,831.6 1431.1,835.3 1431.7,836.9 1432.3,837.1 1432.9,836.0 1433.5,835.4 1434.1,832.8 1434.7,833.4 1435.3,829.9 1435.9,827.9 1436.5,826.7 1437.1,827.4 1437.7,826.8 1438.3,827.5 1438.9,826.5 1439.5,828.0 1440.1,828.3 1440.7,828.2 1441.3,829.7 1441.9,828.3 1442.5,827.2 1443.1,824.4 1443.7,823.3 1444.3,817.6 1444.9,812.5 1445.5,805.6 1446.1,799.2 1446.7,793.3 1447.3,789.1 1447.9,783.3 1448.5,780.2 1449.1,775.9 1449.7,767.7 1450.3,749.3 1450.9,716.8 1451.5,661.5 1452.1,589.1 1452.7,514.3 1453.3,467.7 1453.9,482.7 1454.5,547.9 1455.1,629.8 1455.7,702.0 1456.3,753.8 1456.9,788.8 1457.5,806.4 1458.1,815.1 1458.7,818.4 1459.3,820.3 1459.9,821.8 1460.5,824.8 1461.1,824.8 1461.7,825.5 1462.3,825.6 1462.9,827.1 1463.5,828.3 1464.1,830.5 1464.7,832.2 1465.3,834.7 1465.9,835.8 1466.5,835.4 1467.1,834.9 1467.7,832.2 1468.3,836.8 1468.9,837.2 1469.5,837.2 1470.1,839.0 1470.7,838.4 1471.3,839.0 1471.9,836.0 1472.5,834.6 1473.1,833.2 1473.7,831.0 1474.3,828.2 1474.9,826.6 1475.5,827.2 1476.1,828.0 1476.7,830.1 1477.3,832.1 1477.9,829.6 1478.5,831.5 1479.1,833.0 1479.7,834.2 1480.3,834.8 1480.9,836.6 1481.5,835.8 1482.1,834.7 1482.7,833.9 1483.3,835.4 1483.9,834.9 1484.5,836.9 1485.1,835.4 1485.7,833.7 1486.3,835.8 1486.9,836.2 1487.5,836.3 1488.1,837.8 1488.7,839.8 1489.3,839.6 1489.9,841.4 1490.5,838.3 1491.1,836.8 1491.7,837.0 1492.3,837.7 1492.9,838.9 1493.5,840.0 1494.1,839.3 1494.7,838.6 1495.3,837.0 1495.9,835.6 1496.5,836.0 1497.1,836.8 1497.7,837.4 1498.3,837.2 1498.9,835.0 1499.5,834.2 1500.1,828.2 1500.7,824.7 1501.3,824.7 1501.9,826.3 1502.5,831.3 1503.1,834.5 1503.7,840.7 1504.3,840.9 1504.9,841.2 1505.5,842.2 1506.1,839.5 1506.7,842.8 1507.3,842.1 1507.9,839.0 1508.5,838.2 1509.1,839.5 1509.7,836.3 1510.3,837.6 1510.9,835.7 1511.5,838.8 1512.1,837.4 1512.7,836.3 1513.3,837.2 1513.9,836.8 1514.5,837.0 1515.1,838.0 1515.7,838.3 1516.3,838.8 1516.9,840.1 1517.5,839.8 1518.1,836.7 1518.7,834.5 1519.3,828.6 1519.9,826.7 1520.5,823.5 1521.1,822.7 1521.7,824.9 1522.3,826.2 1522.9,826.6 1523.5,830.3 1524.1,834.8 1524.7,838.4 1525.3,838.9 1525.9,841.0 1526.5,842.8 1527.1,842.9 1527.7,843.4 1528.3,842.0 1528.9,841.2 1529.5,838.6 1530.1,838.1 1530.7,838.1 1531.3,836.9 1531.9,838.1 1532.5,837.8 1533.1,839.1 1533.7,840.4 1534.3,839.2 1534.9,837.6 1535.5,839.6 1536.1,839.2 1536.7,840.6 1537.3,839.2 1537.9,839.8 1538.5,837.5 1539.1,836.5 1539.7,836.3 1540.3,836.6 1540.9,835.5 1541.5,836.8 1542.1,835.9 1542.7,836.6 1543.3,837.1 1543.9,840.9 1544.5,840.8 1545.1,841.8 1545.7,840.9 1546.3,840.2 1546.9,836.9 1547.5,835.2 1548.1,829.5 1548.7,827.8 1549.3,826.3 1549.9,828.1 1550.5,827.9 1551.1,828.9 1551.7,830.3 1552.3,831.1 1552.9,831.9 1553.5,834.1 1554.1,834.5 1554.7,836.1 1555.3,838.2 1555.9,837.1 1556.5,837.4 1557.1,837.2 1557.7,835.3 1558.3,835.5 1558.9,835.2 1559.5,833.9 1560.1,834.5 1560.7,832.5 1561.3,834.3 1561.9,831.4 1562.5,828.2 1563.1,826.1 1563.7,826.6 1564.3,827.8 1564.9,828.5 1565.5,831.5 1566.1,830.3 1566.7,830.1 1567.3,830.1 1567.9,830.5 1568.5,832.3 1569.1,835.0 1569.7,836.7 1570.3,835.9 1570.9,837.2 1571.5,834.7 1572.1,834.9 1572.7,833.7 1573.3,833.1 1573.9,831.8 1574.5,826.7 1575.1,818.0 1575.7,809.5 1576.3,802.2 1576.9,793.5 1577.5,792.5 1578.1,795.4 1578.7,801.2 1579.3,809.6 1579.9,817.4 1580.5,824.4 1581.1,830.0 1581.7,832.1 1582.3,831.6 1582.9,834.9 1583.5,834.7 1584.1,835.3 1584.7,835.6 1585.3,836.0 1585.9,837.6 1586.5,838.8 1587.1,840.1 1587.7,840.0 1588.3,839.2 1588.9,837.4 1589.5,837.3 1590.1,837.0 1590.7,835.8 1591.3,836.6 1591.9,836.6 1592.5,835.6 1593.1,836.6 1593.7,836.4 1594.3,835.1 1594.9,836.0 1595.5,838.0 1596.1,838.6 1596.7,839.7 1597.3,840.9 1597.9,839.0 1598.5,838.0 1599.1,835.9 1599.7,833.7 1600.3,833.1 1600.9,831.1 1601.5,830.3 1602.1,830.3 1602.7,831.1 1603.3,830.7 1603.9,833.0 1604.5,833.7 1605.1,833.8 1605.7,829.8 1606.3,830.0 1606.9,824.1 1607.5,817.9 1608.1,805.3 1608.7,788.0 1609.3,762.3 1609.9,736.1 1610.5,705.3 1611.1,679.9 1611.7,667.8 1612.3,672.7 1612.9,688.2 1613.5,708.9 1614.1,726.2 1614.7,727.4 1615.3,706.5 1615.9,653.9 1616.5,564.5 1617.1,461.6 1617.7,383.4 1618.3,382.2 1618.9,460.1 1619.5,568.2 1620.1,663.2 1620.7,730.3 1621.3,769.7 1621.9,795.2 1622.5,807.6 1623.1,815.0 1623.7,817.6 1624.3,818.9 1624.9,823.9 1625.5,825.1 1626.1,827.0 1626.7,827.8 1627.3,828.2 1627.9,828.7 1628.5,829.1 1629.1,828.4 1629.7,822.6 1630.3,815.6 1630.9,812.1 1631.5,810.2 1632.1,813.7 1632.7,819.7 1633.3,824.7 1633.9,828.0 1634.5,830.6 1635.1,831.0 1635.7,833.0 1636.3,833.2 1636.9,834.5 1637.5,832.5 1638.1,832.5 1638.7,830.4 1639.3,831.3 1639.9,831.3 1640.5,832.4 1641.1,830.8 1641.7,830.1 1642.3,827.4 1642.9,828.8 1643.5,826.9 1644.1,829.7 1644.7,831.4 1645.3,832.7 1645.9,835.0 1646.5,834.3 1647.1,834.6 1647.7,830.1 1648.3,826.6 1648.9,823.3 1649.5,817.0 1650.1,813.1 1650.7,807.1 1651.3,796.9 1651.9,787.0 1652.5,780.1 1653.1,772.9 1653.7,766.0 1654.3,762.6 1654.9,756.8 1655.5,748.1 1656.1,728.0 1656.7,697.6 1657.3,653.4 1657.9,601.9 1658.5,552.3 1659.1,526.7 1659.7,543.6 1660.3,592.7 1660.9,651.6 1661.5,707.0 1662.1,747.7 1662.7,778.5 1663.3,799.9 1663.9,810.4 1664.5,819.0 1665.1,824.1 1665.7,825.5 1666.3,827.0 1666.9,828.8 1667.5,829.5 1668.1,830.5 1668.7,834.0 1669.3,837.1 1669.9,836.3 1670.5,835.1 1671.1,834.2 1671.7,830.1 1672.3,830.1 1672.9,830.0 1673.5,827.9 1674.1,825.7 1674.7,824.1 1675.3,823.2 1675.9,826.8 1676.5,830.5 1677.1,834.5 1677.7,836.3 1678.3,835.8 1678.9,837.3 1679.5,836.3 1680.1,835.9 1680.7,835.6 1681.3,833.9 1681.9,835.4 1682.5,836.5 1683.1,838.3 1683.7,838.8 1684.3,840.0 1684.9,839.5 1685.5,842.6 1686.1,843.2 1686.7,842.8 1687.3,841.5 1687.9,840.7 1688.5,840.5 1689.1,839.8 1689.7,838.5 1690.3,837.4 1690.9,836.1 1691.5,834.9 1692.1,834.5 1692.7,836.2 1693.3,838.2 1693.9,839.7 1694.5,840.5 1695.1,841.0 1695.7,839.9 1696.3,838.4 1696.9,838.7 1697.5,836.8 1698.1,836.7 1698.7,838.2 1699.3,840.5 1699.9,843.6 1700.5,842.8 1701.1,842.3 1701.7,843.0 1702.3,840.5 1702.9,840.7 1703.5,841.5 1704.1,840.4 1704.7,838.2 1705.3,835.2 1705.9,834.5 1706.5,835.3 1707.1,834.9 1707.7,835.4 1708.3,834.9 1708.9,834.9 1709.5,833.0 1710.1,833.7 1710.7,831.9 1711.3,836.4 1711.9,837.0 1712.5,836.2 1713.1,838.6 1713.7,838.8 1714.3,835.7 1714.9,837.4 1715.5,835.5 1716.1,836.1 1716.7,835.9 1717.3,834.4 1717.9,835.9 1718.5,834.7 1719.1,834.0 1719.7,835.2 1720.3,837.6 1720.9,838.8 1721.5,838.4 1722.1,839.8 1722.7,838.7 1723.3,837.8 1723.9,839.7 1724.5,837.7 1725.1,839.3 1725.7,839.1 1726.3,839.5 1726.9,838.7 1727.5,837.2 1728.1,837.1 1728.7,836.4 1729.3,835.5 1729.9,832.4 1730.5,824.7 1731.1,817.9 1731.7,814.0 1732.3,810.0 1732.9,809.9 1733.5,813.6 1734.1,819.8 1734.7,824.5 1735.3,825.9 1735.9,824.3 1736.5,820.5 1737.1,813.6 1737.7,802.9 1738.3,789.0 1738.9,777.2 1739.5,771.2 1740.1,775.5 1740.7,788.6 1741.3,802.6 1741.9,814.6 1742.5,823.3 1743.1,828.7 1743.7,836.4 1744.3,837.3 1744.9,838.2 1745.5,836.9 1746.1,839.9 1746.7,841.1 1747.3,842.4 1747.9,842.4 1748.5,842.2 1749.1,842.0 1749.7,843.1 1750.3,843.3 1750.9,843.2 1751.5,845.3 1752.1,841.9 1752.7,839.7 1753.3,837.9 1753.9,836.7 1754.5,835.1 1755.1,838.2 1755.7,838.4 1756.3,839.0 1756.9,839.0 1757.5,837.0 1758.1,835.6 1758.7,836.8 1759.3,837.1 1759.9,839.1 1760.5,839.2 1761.1,839.6 1761.7,839.5 1762.3,836.6 1762.9,838.0 1763.5,838.6 1764.1,838.9 1764.7,841.3 1765.3,843.9 1765.9,843.7 1766.5,841.9 1767.1,840.8 1767.7,840.4 1768.3,839.1 1768.9,837.6 1769.5,837.4 1770.1,839.9 1770.7,837.5 1771.3,839.2 1771.9,839.9 1772.5,837.7 1773.1,838.3 1773.7,841.0 1774.3,840.9 1774.9,842.7 1775.5,843.4 1776.1,844.0 1776.7,842.0 1777.3,842.4 1777.9,841.7 1778.5,841.1 1779.1,840.5 1779.7,837.3 1780.3,836.5 1780.9,835.2 1781.5,835.3 1782.1,833.2 1782.7,834.9 1783.3,835.8 1783.9,836.6 1784.5,836.4 1785.1,836.9 1785.7,838.2 1786.3,838.2 1786.9,837.5 1787.5,836.0 1788.1,835.2 1788.7,835.4 1789.3,838.6 1789.9,837.7 1790.5,838.5 1791.1,840.0 1791.7,837.8 1792.3,836.7 1792.9,837.2 1793.5,839.1 1794.1,840.0 1794.7,838.7 1795.3,839.7 1795.9,837.3 1796.5,838.9 1797.1,840.5 1797.7,842.1 1798.3,843.3 1798.9,846.3 1799.5,844.1 1800.1,846.2 1800.7,847.3 1801.3,846.0 1801.9,843.8 1802.5,840.1 1803.1,836.0 1803.7,833.7 1804.3,830.6 1804.9,833.2 1805.5,835.5 1806.1,837.3 1806.7,837.6 1807.3,836.4 1807.9,836.8 1808.5,836.9 1809.1,838.0 1809.7,838.0 1810.3,836.2 1810.9,835.2 1811.5,835.8 1812.1,835.0 1812.7,834.0 1813.3,835.7 1813.9,835.7 1814.5,836.9 1815.1,836.7 1815.7,839.2 1816.3,839.5 1816.9,840.4 1817.5,838.9 1818.1,839.5 1818.7,839.9 1819.3,840.6 1819.9,839.8 1820.5,837.4 1821.1,836.3 1821.7,834.7 1822.3,835.0 1822.9,835.0 1823.5,834.1 1824.1,835.2 1824.7,836.3 1825.3,839.3 1825.9,840.0 1826.5,841.2 1827.1,840.4 1827.7,840.5 1828.3,840.5 1828.9,840.0 1829.5,841.8 1830.1,839.1 1830.7,838.7 1831.3,836.1 1831.9,832.6 1832.5,833.3 1833.1,833.0 1833.7,834.8 1834.3,835.9 1834.9,837.5 1835.5,838.9 1836.1,841.0 1836.7,841.6 1837.3,842.2 1837.9,839.2 1838.5,839.6 1839.1,839.3 1839.7,840.1 1840.3,839.1 1840.9,838.0 1841.5,837.4 1842.1,835.6 1842.7,836.1 1843.3,834.3 1843.9,833.2 1844.5,835.6 1845.1,836.1 1845.7,839.1 1846.3,841.0 1846.9,838.4 1847.5,839.4 1848.1,839.0 1848.7,837.9 1849.3,836.5 1849.9,838.1 1850.5,837.6 1851.1,836.7 1851.7,836.4 1852.3,835.1 1852.9,836.2 1853.5,835.7 1854.1,834.9 1854.7,831.0 1855.3,831.7 1855.9,833.2 1856.5,834.1 1857.1,836.0 1857.7,835.8 1858.3,836.1 1858.9,833.8 1859.5,836.4 1860.1,836.4 1860.7,836.0 1861.3,834.8 1861.9,833.5 1862.5,829.2 1863.1,829.5 1863.7,831.1 1864.3,835.1 1864.9,833.9 1865.5,835.6 1866.1,836.3 1866.7,836.6 1867.3,838.3 1867.9,839.9 1868.5,840.2 1869.1,841.3 1869.7,840.8 1870.3,842.4 1870.9,840.1 1871.5,841.1 1872.1,840.2 1872.7,840.6 1873.3,840.7 1873.9,839.7 1874.5,839.5 1875.1,838.9 1875.7,837.1 1876.3,836.7 1876.9,836.5 1877.5,838.7 1878.1,839.3 1878.7,839.4 1879.3,840.5 1879.9,838.5 1880.5,836.6 1881.1,834.5 1881.7,833.4 1882.3,833.3 1882.9,835.7 1883.5,838.4 1884.1,840.0 1884.7,838.2 1885.3,836.1 1885.9,836.8 1886.5,837.1 1887.1,836.0 1887.7,835.6 1888.3,833.6 1888.9,835.0 1889.5,834.6 1890.1,838.8 1890.7,839.0 1891.3,839.2 1891.9,837.6 1892.5,832.2 1893.1,824.9 1893.7,814.5 1894.3,801.3 1894.9,788.3 1895.5,781.1 1896.1,782.1 1896.7,790.3 1897.3,800.6 1897.9,812.6 1898.5,821.2 1899.1,829.1 1899.7,834.8 1900.3,835.5 1900.9,837.7 1901.5,834.4 1902.1,834.3 1902.7,834.1 1903.3,835.4 1903.9,833.6 1904.5,836.1 1905.1,838.0 1905.7,838.8 1906.3,835.8 1906.9,836.1 1907.5,836.9 1908.1,835.9 1908.7,837.2 1909.3,838.4 1909.9,836.2 1910.5,835.7 1911.1,837.1 1911.7,834.1 1912.3,833.9 1912.9,833.7 1913.5,834.3 1914.1,837.4 1914.7,838.3 1915.3,841.2 1915.9,842.5 1916.5,841.4 1917.1,839.8 1917.7,837.3 1918.3,837.3 1918.9,834.9 1919.5,836.6 1920.1,834.5 1920.7,834.2 1921.3,832.9 1921.9,833.6 1922.5,834.6 1923.1,835.1 1923.7,835.9 1924.3,837.2 1924.9,836.9 1925.5,837.8 1926.1,838.1 1926.7,839.2 1927.3,840.0 1927.9,840.2 1928.5,841.1 1929.1,841.2 1929.7,838.4 1930.3,837.3 1930.9,833.7 1931.5,834.8 1932.1,833.8 1932.7,835.4 1933.3,837.3 1933.9,836.7 1934.5,838.2 1935.1,837.4 1935.7,838.3 1936.3,840.5 1936.9,841.1 1937.5,841.4 1938.1,839.9 1938.7,836.1 1939.3,836.5 1939.9,834.4 1940.5,834.3 1941.1,833.0 1941.7,834.7 1942.3,835.0 1942.9,833.5 1943.5,834.4 1944.1,832.1 1944.7,834.5 1945.3,833.7 1945.9,837.1 1946.5,836.9 1947.1,836.4 1947.7,836.0 1948.3,833.4 1948.9,834.4 1949.5,836.2 1950.1,835.7 1950.7,836.1 1951.3,833.5 1951.9,834.5 1952.5,833.4 1953.1,835.6 1953.7,836.3 1954.3,836.2 1954.9,833.9 1955.5,837.0 1956.1,836.2 1956.7,836.8 1957.3,836.8 1957.9,835.1 1958.5,835.1 1959.1,834.7 1959.7,835.6 1960.3,834.6 1960.9,834.5 1961.5,836.6"/>
</g>
<g fill="#000" shape-rendering="crispEdges">
<circle cx="517.0" cy="212.3" r="15.7"/>
<circle cx="586.6" cy="178.3" r="15.7"/>
<circle cx="648.7" cy="171.9" r="15.7"/>
<circle cx="988.2" cy="422.6" r="15.7"/>
<circle cx="1275.5" cy="358.0" r="15.7"/>
<circle cx="1453.9" cy="414.6" r="15.7"/>
<circle cx="1620.8" cy="358.8" r="15.7"/>
<circle cx="1660.4" cy="492.8" r="15.7"/>
<circle cx="1575.0" cy="757.0" r="15.7"/>
<circle cx="1744.1" cy="738.2" r="15.7"/>
<circle cx="1898.1" cy="740.0" r="15.7"/>
<circle cx="810.0" cy="140.0" r="15.7"/>
<polygon points="616.3,535.8 636.8,556.3 616.3,576.8 595.8,556.3"/>
<polygon points="695.6,587.7 716.1,608.2 695.6,628.7 675.1,608.2"/>
<polygon points="556.5,713.6 577.0,734.1 556.5,754.6 536.0,734.1"/>
<polygon points="779.3,741.9 799.8,762.4 779.3,782.9 758.8,762.4"/>
<polygon points="901.1,757.7 921.6,778.2 901.1,798.7 880.6,778.2"/>
<polygon points="937.3,716.1 957.8,736.6 937.3,757.1 916.8,736.6"/>
<polygon points="809.5,240.5 830.0,261.0 809.5,281.5 789.0,261.0"/>
</g>
<g fill="#000" stroke="#000" stroke-width="1.6" stroke-linejoin="round">
<polygon points="1395.2,113.7 1401.9,120.6 1395.2,127.5 1388.5,120.6"/><polygon points="1395.2,136.1 1401.9,143.0 1395.2,149.9 1388.5,143.0"/><polygon points="1384.0,124.9 1390.7,131.8 1384.0,138.7 1377.3,131.8"/><polygon points="1406.4,124.9 1413.1,131.8 1406.4,138.7 1399.7,131.8"/>
<polygon points="222.1,1234.9 228.8,1241.8 222.1,1248.7 215.4,1241.8"/><polygon points="222.1,1257.3 228.8,1264.2 222.1,1271.1 215.4,1264.2"/><polygon points="210.9,1246.1 217.6,1253.0 210.9,1259.9 204.2,1253.0"/><polygon points="233.3,1246.1 240.0,1253.0 233.3,1259.9 226.6,1253.0"/>
<polygon points="444.0,1235.8 450.7,1242.7 444.0,1249.6 437.3,1242.7"/><polygon points="444.0,1258.2 450.7,1265.1 444.0,1272.0 437.3,1265.1"/><polygon points="432.8,1247.0 439.5,1253.9 432.8,1260.8 426.1,1253.9"/><polygon points="455.2,1247.0 461.9,1253.9 455.2,1260.8 448.5,1253.9"/>
<polygon points="566.8,1194.9 573.5,1201.8 566.8,1208.7 560.1,1201.8"/><polygon points="566.8,1217.3 573.5,1224.2 566.8,1231.1 560.1,1224.2"/><polygon points="555.6,1206.1 562.3,1213.0 555.6,1219.9 548.9,1213.0"/><polygon points="578.0,1206.1 584.7,1213.0 578.0,1219.9 571.3,1213.0"/>
<polygon points="678.5,1248.4 685.2,1255.3 678.5,1262.2 671.8,1255.3"/><polygon points="678.5,1270.8 685.2,1277.7 678.5,1284.6 671.8,1277.7"/><polygon points="667.3,1259.6 674.0,1266.5 667.3,1273.4 660.6,1266.5"/><polygon points="689.7,1259.6 696.4,1266.5 689.7,1273.4 683.0,1266.5"/>
<polygon points="1064.2,1240.5 1070.9,1247.4 1064.2,1254.3 1057.5,1247.4"/><polygon points="1064.2,1262.9 1070.9,1269.8 1064.2,1276.7 1057.5,1269.8"/><polygon points="1053.0,1251.7 1059.7,1258.6 1053.0,1265.5 1046.3,1258.6"/><polygon points="1075.4,1251.7 1082.1,1258.6 1075.4,1265.5 1068.7,1258.6"/>
</g>
<g font-family="'Liberation Serif','Times New Roman',serif" fill="#000">
<text x="143.6" y="1457.3" font-size="87" text-anchor="middle">20</text>
<text x="446.6" y="1457.3" font-size="87" text-anchor="middle">30</text>
<text x="749.7" y="1457.3" font-size="87" text-anchor="middle">40</text>
<text x="1052.8" y="1457.3" font-size="87" text-anchor="middle">50</text>
<text x="1355.8" y="1457.3" font-size="87" text-anchor="middle">60</text>
<text x="1658.8" y="1457.3" font-size="87" text-anchor="middle">70</text>
<text x="1961.9" y="1457.3" font-size="87" text-anchor="middle">80</text>
<text x="1124.7" y="1567.3" font-size="116.5" text-anchor="middle">2-Theta(°)</text>
<text transform="translate(114.3,698.4) rotate(-90)" font-size="118.6" text-anchor="middle">Intensity(arb.units)</text>
<text x="278.4" y="805" font-size="76">3.3Zn</text>
<text x="273.6" y="972" font-size="74.3">1.5Zn</text>
<text x="260.8" y="1122.4" font-size="76">0.7Zn</text>
<text x="260.8" y="1269.2" font-size="74">0Zn</text>
<text x="851.5" y="158.8" dx="0 2" font-size="75.5">α-Mg</text>
<text x="855" y="280" dy="0 0 28.5 0 -28.5" font-size="74.6">Mg12Zn(YGd)</text>
<text x="1436.5" y="151.3" dx="0 0 0 0 0 0 0 4" dy="0 0 29 -29" font-size="75">Mg5(GdY)</text>
</g>
<g fill="#555"><rect x="1751" y="150.2" width="1.6" height="1.2"/><rect x="1793" y="150.3" width="5" height="1"/><rect x="1801.3" y="150.3" width="4" height="1"/><rect x="1809.5" y="150.3" width="5" height="1"/></g>
</svg>
</body></html>
